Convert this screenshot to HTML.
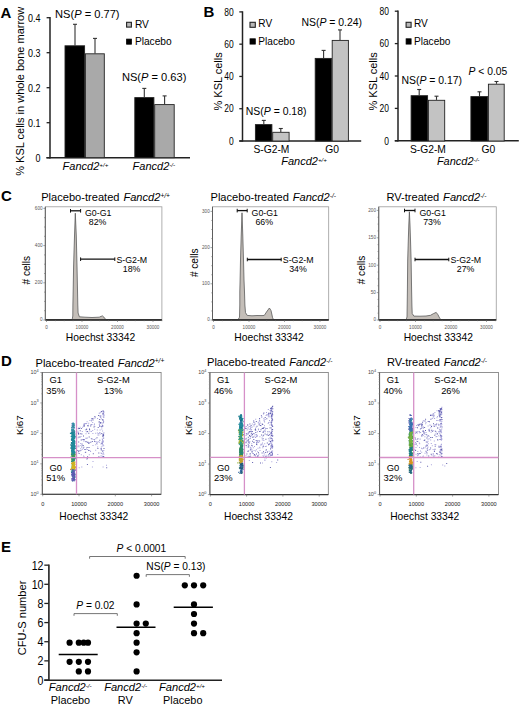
<!DOCTYPE html>
<html><head><meta charset="utf-8"><style>
html,body{margin:0;padding:0;background:#fff;}
svg{display:block;}
text{font-family:"Liberation Sans",sans-serif;}
</style></head><body>
<svg width="520" height="707" viewBox="0 0 520 707">
<rect width="520" height="707" fill="#fff"/>
<text x="0.4" y="17.9" font-size="15" text-anchor="start" font-weight="bold" fill="#000" >A</text>
<line x1="50" y1="17.0" x2="50" y2="158.4" stroke="#222" stroke-width="1.5"/>
<line x1="46.6" y1="157.7" x2="50" y2="157.7" stroke="#222" stroke-width="1.3"/>
<text transform="translate(40.5,162.1) scale(0.8,1)" font-size="11.2" text-anchor="end">0</text>
<line x1="46.6" y1="122.69999999999999" x2="50" y2="122.69999999999999" stroke="#222" stroke-width="1.3"/>
<text transform="translate(40.5,127.1) scale(0.8,1)" font-size="11.2" text-anchor="end">0.1</text>
<line x1="46.6" y1="87.69999999999999" x2="50" y2="87.69999999999999" stroke="#222" stroke-width="1.3"/>
<text transform="translate(40.5,92.1) scale(0.8,1)" font-size="11.2" text-anchor="end">0.2</text>
<line x1="46.6" y1="52.69999999999999" x2="50" y2="52.69999999999999" stroke="#222" stroke-width="1.3"/>
<text transform="translate(40.5,57.09999999999999) scale(0.8,1)" font-size="11.2" text-anchor="end">0.3</text>
<line x1="46.6" y1="17.69999999999999" x2="50" y2="17.69999999999999" stroke="#222" stroke-width="1.3"/>
<text transform="translate(40.5,22.099999999999987) scale(0.8,1)" font-size="11.2" text-anchor="end">0.4</text>
<line x1="46.4" y1="157.7" x2="190" y2="157.7" stroke="#222" stroke-width="1.5"/>
<text transform="translate(23.8,91.3) rotate(-90)" font-size="11" text-anchor="middle">% KSL cells in whole bone marrow</text>
<line x1="75" y1="24.3" x2="75" y2="45.4" stroke="#333" stroke-width="1.1"/>
<line x1="73" y1="24.3" x2="77" y2="24.3" stroke="#333" stroke-width="1.1"/>
<rect x="65.0" y="45.8" width="19.600000000000005" height="111.89999999999998" fill="#000" stroke="#222" stroke-width="0.9"/>
<line x1="95" y1="38.4" x2="95" y2="53.4" stroke="#333" stroke-width="1.1"/>
<line x1="93" y1="38.4" x2="97" y2="38.4" stroke="#333" stroke-width="1.1"/>
<rect x="85.4" y="53.8" width="18.900000000000002" height="103.89999999999998" fill="#a9a9a9" stroke="#222" stroke-width="0.9"/>
<line x1="144.3" y1="88.4" x2="144.3" y2="97.2" stroke="#333" stroke-width="1.1"/>
<line x1="142.3" y1="88.4" x2="146.3" y2="88.4" stroke="#333" stroke-width="1.1"/>
<rect x="134.8" y="97.60000000000001" width="19.100000000000005" height="60.09999999999999" fill="#000" stroke="#222" stroke-width="0.9"/>
<line x1="164.6" y1="95.9" x2="164.6" y2="104.2" stroke="#333" stroke-width="1.1"/>
<line x1="162.6" y1="95.9" x2="166.6" y2="95.9" stroke="#333" stroke-width="1.1"/>
<rect x="154.70000000000002" y="104.60000000000001" width="19.499999999999982" height="53.09999999999999" fill="#a9a9a9" stroke="#222" stroke-width="0.9"/>
<text x="55.1" y="18.2" font-size="11.1">NS(<tspan font-style="italic">P</tspan> = 0.77)</text>
<text x="121.9" y="80.8" font-size="11.1">NS(<tspan font-style="italic">P</tspan> = 0.63)</text>
<rect x="126.6" y="22.3" width="4.8" height="4.8" fill="#b8b8b8" stroke="#222" stroke-width="1.1"/>
<text x="134.9" y="27.5" font-size="10.2" text-anchor="start" fill="#000" >RV</text>
<rect x="126.6" y="39.1" width="4.8" height="5.1" fill="#000" stroke="#000" stroke-width="0.8"/>
<text x="134.9" y="44.6" font-size="10.2" text-anchor="start" fill="#000" >Placebo</text>
<text x="62.6" y="170" font-size="11" text-anchor="start" font-style="italic">Fancd2<tspan font-size="6.20" dy="-3.1">+/+</tspan></text>
<text x="132.6" y="170" font-size="11" text-anchor="start" font-style="italic">Fancd2<tspan font-size="6.20" dy="-3.1">-/-</tspan></text>
<text x="203.6" y="16.8" font-size="15" text-anchor="start" font-weight="bold" fill="#000" >B</text>
<line x1="242.5" y1="11.3" x2="242.5" y2="141.6" stroke="#222" stroke-width="1.5"/>
<line x1="239.3" y1="141.0" x2="242.5" y2="141.0" stroke="#222" stroke-width="1.3"/>
<text transform="translate(233.6,144.7) scale(0.83,1)" font-size="10.2" text-anchor="end">0</text>
<line x1="239.3" y1="108.725" x2="242.5" y2="108.725" stroke="#222" stroke-width="1.3"/>
<text transform="translate(233.6,112.425) scale(0.83,1)" font-size="10.2" text-anchor="end">20</text>
<line x1="239.3" y1="76.45" x2="242.5" y2="76.45" stroke="#222" stroke-width="1.3"/>
<text transform="translate(233.6,80.15) scale(0.83,1)" font-size="10.2" text-anchor="end">40</text>
<line x1="239.3" y1="44.17500000000001" x2="242.5" y2="44.17500000000001" stroke="#222" stroke-width="1.3"/>
<text transform="translate(233.6,47.875000000000014) scale(0.83,1)" font-size="10.2" text-anchor="end">60</text>
<line x1="239.3" y1="11.900000000000006" x2="242.5" y2="11.900000000000006" stroke="#222" stroke-width="1.3"/>
<text transform="translate(233.6,15.600000000000005) scale(0.83,1)" font-size="10.2" text-anchor="end">80</text>
<text transform="translate(221.79999999999998,81.4) rotate(-90)" font-size="11" text-anchor="middle">% KSL cells</text>
<line x1="239.3" y1="141.0" x2="361.2" y2="141.0" stroke="#222" stroke-width="1.5"/>
<line x1="263.8" y1="120.4" x2="263.8" y2="124.2" stroke="#333" stroke-width="1.1"/>
<line x1="261.8" y1="120.4" x2="265.8" y2="120.4" stroke="#333" stroke-width="1.1"/>
<rect x="255.4" y="124.60000000000001" width="16.50000000000001" height="16.4" fill="#000" stroke="#222" stroke-width="0.9"/>
<line x1="280.8" y1="128.5" x2="280.8" y2="131.9" stroke="#333" stroke-width="1.1"/>
<line x1="278.8" y1="128.5" x2="282.8" y2="128.5" stroke="#333" stroke-width="1.1"/>
<rect x="272.7" y="132.3" width="16.399999999999988" height="8.699999999999994" fill="#c3c3c3" stroke="#222" stroke-width="0.9"/>
<line x1="323.6" y1="50.4" x2="323.6" y2="58" stroke="#333" stroke-width="1.1"/>
<line x1="321.6" y1="50.4" x2="325.6" y2="50.4" stroke="#333" stroke-width="1.1"/>
<rect x="315.2" y="58.4" width="16.2" height="82.6" fill="#000" stroke="#222" stroke-width="0.9"/>
<line x1="340" y1="29.9" x2="340" y2="40" stroke="#333" stroke-width="1.1"/>
<line x1="338" y1="29.9" x2="342" y2="29.9" stroke="#333" stroke-width="1.1"/>
<rect x="332.2" y="40.4" width="16.2" height="100.6" fill="#c3c3c3" stroke="#222" stroke-width="0.9"/>
<text x="245.8" y="114.9" font-size="10.45">NS(<tspan font-style="italic">P</tspan> = 0.18)</text>
<text x="301.4" y="26.1" font-size="10.45">NS(<tspan font-style="italic">P</tspan> = 0.24)</text>
<rect x="250.0" y="22.3" width="5.3" height="5.0" fill="#b8b8b8" stroke="#222" stroke-width="1.1"/>
<text x="258.3" y="27.3" font-size="10.1" text-anchor="start" fill="#000" >RV</text>
<rect x="250.0" y="38.8" width="5.3" height="5.3" fill="#000" stroke="#000" stroke-width="0.8"/>
<text x="258.3" y="44.7" font-size="10.1" text-anchor="start" fill="#000" >Placebo</text>
<text x="271.4" y="152.7" font-size="10.3" text-anchor="middle" fill="#000" >S-G2-M</text>
<text x="332.1" y="152.7" font-size="10.3" text-anchor="middle" fill="#000" >G0</text>
<text x="281.2" y="165.2" font-size="11" text-anchor="start" font-style="italic">Fancd2<tspan font-size="6.20" dy="-3.1">+/+</tspan></text>
<line x1="398" y1="10.6" x2="398" y2="141.4" stroke="#222" stroke-width="1.5"/>
<line x1="394.8" y1="140.8" x2="398" y2="140.8" stroke="#222" stroke-width="1.3"/>
<text transform="translate(389,144.5) scale(0.83,1)" font-size="10.2" text-anchor="end">0</text>
<line x1="394.8" y1="108.4" x2="398" y2="108.4" stroke="#222" stroke-width="1.3"/>
<text transform="translate(389,112.10000000000001) scale(0.83,1)" font-size="10.2" text-anchor="end">20</text>
<line x1="394.8" y1="76.0" x2="398" y2="76.0" stroke="#222" stroke-width="1.3"/>
<text transform="translate(389,79.7) scale(0.83,1)" font-size="10.2" text-anchor="end">40</text>
<line x1="394.8" y1="43.599999999999994" x2="398" y2="43.599999999999994" stroke="#222" stroke-width="1.3"/>
<text transform="translate(389,47.3) scale(0.83,1)" font-size="10.2" text-anchor="end">60</text>
<line x1="394.8" y1="11.199999999999989" x2="398" y2="11.199999999999989" stroke="#222" stroke-width="1.3"/>
<text transform="translate(389,14.899999999999988) scale(0.83,1)" font-size="10.2" text-anchor="end">80</text>
<text transform="translate(377.2,81.4) rotate(-90)" font-size="11" text-anchor="middle">% KSL cells</text>
<line x1="394.8" y1="140.8" x2="518.8" y2="140.8" stroke="#222" stroke-width="1.5"/>
<line x1="419.2" y1="89.5" x2="419.2" y2="95.3" stroke="#333" stroke-width="1.1"/>
<line x1="417.2" y1="89.5" x2="421.2" y2="89.5" stroke="#333" stroke-width="1.1"/>
<rect x="411.09999999999997" y="95.7" width="16.50000000000001" height="45.300000000000004" fill="#000" stroke="#222" stroke-width="0.9"/>
<line x1="436.5" y1="96.2" x2="436.5" y2="99.9" stroke="#333" stroke-width="1.1"/>
<line x1="434.5" y1="96.2" x2="438.5" y2="96.2" stroke="#333" stroke-width="1.1"/>
<rect x="428.4" y="100.30000000000001" width="16.300000000000022" height="40.699999999999996" fill="#c3c3c3" stroke="#222" stroke-width="0.9"/>
<line x1="479.5" y1="91.8" x2="479.5" y2="96.2" stroke="#333" stroke-width="1.1"/>
<line x1="477.5" y1="91.8" x2="481.5" y2="91.8" stroke="#333" stroke-width="1.1"/>
<rect x="470.9" y="96.60000000000001" width="16.7" height="44.4" fill="#000" stroke="#222" stroke-width="0.9"/>
<line x1="496.5" y1="81.5" x2="496.5" y2="83.8" stroke="#333" stroke-width="1.1"/>
<line x1="494.5" y1="81.5" x2="498.5" y2="81.5" stroke="#333" stroke-width="1.1"/>
<rect x="488.4" y="84.2" width="15.800000000000022" height="56.800000000000004" fill="#c3c3c3" stroke="#222" stroke-width="0.9"/>
<text x="401.4" y="83.9" font-size="10.45">NS(<tspan font-style="italic">P</tspan> = 0.17)</text>
<text x="468.6" y="75.0" font-size="10.3"><tspan font-style="italic">P</tspan> &lt; 0.05</text>
<rect x="406.1" y="22.3" width="5.0" height="5.0" fill="#b8b8b8" stroke="#222" stroke-width="1.1"/>
<text x="414.0" y="27.3" font-size="10.1" text-anchor="start" fill="#000" >RV</text>
<rect x="406.1" y="38.8" width="5.0" height="5.3" fill="#000" stroke="#000" stroke-width="0.8"/>
<text x="414.0" y="44.7" font-size="10.1" text-anchor="start" fill="#000" >Placebo</text>
<text x="427.9" y="152.5" font-size="10.3" text-anchor="middle" fill="#000" >S-G2-M</text>
<text x="488.3" y="152.5" font-size="10.3" text-anchor="middle" fill="#000" >G0</text>
<text x="436.9" y="165.2" font-size="11" text-anchor="start" font-style="italic">Fancd2<tspan font-size="6.20" dy="-3.1">-/-</tspan></text>
<text x="1.0" y="201.1" font-size="15" text-anchor="start" font-weight="bold" fill="#000" >C</text>
<rect x="45.3" y="206.8" width="116.60000000000001" height="113.19999999999999" fill="none" stroke="#9a9a9a" stroke-width="0.8"/>
<polygon points="46.00,319.60 71.50,319.60 72.30,318.80 72.80,316.00 72.90,305.00 73.20,290.00 73.60,266.00 74.50,236.00 75.30,213.20 76.30,236.00 77.00,266.00 77.50,290.00 77.80,305.00 78.10,313.00 79.40,316.80 85.00,317.20 92.00,317.50 99.20,317.20 101.00,316.40 102.50,315.90 103.80,317.00 104.80,318.60 106.20,319.60 161.50,319.60" fill="#c4beb8" stroke="#5a5a5a" stroke-width="0.8" stroke-linejoin="round"/>
<line x1="45.3" y1="320" x2="161.9" y2="320" stroke="#222" stroke-width="1.3"/>
<line x1="45.3" y1="206.8" x2="45.3" y2="320" stroke="#555" stroke-width="0.9"/>
<line x1="43.3" y1="320" x2="45.3" y2="320" stroke="#666" stroke-width="0.6"/>
<text x="42.5" y="321.4" font-size="4.6" text-anchor="end" fill="#555">0</text>
<line x1="44.099999999999994" y1="310.7" x2="45.3" y2="310.7" stroke="#666" stroke-width="0.6"/>
<line x1="44.099999999999994" y1="301.4" x2="45.3" y2="301.4" stroke="#666" stroke-width="0.6"/>
<line x1="44.099999999999994" y1="292.09999999999997" x2="45.3" y2="292.09999999999997" stroke="#666" stroke-width="0.6"/>
<line x1="43.3" y1="282.79999999999995" x2="45.3" y2="282.79999999999995" stroke="#666" stroke-width="0.6"/>
<text x="42.5" y="284.19999999999993" font-size="4.6" text-anchor="end" fill="#555">200</text>
<line x1="44.099999999999994" y1="273.49999999999994" x2="45.3" y2="273.49999999999994" stroke="#666" stroke-width="0.6"/>
<line x1="44.099999999999994" y1="264.19999999999993" x2="45.3" y2="264.19999999999993" stroke="#666" stroke-width="0.6"/>
<line x1="44.099999999999994" y1="254.89999999999992" x2="45.3" y2="254.89999999999992" stroke="#666" stroke-width="0.6"/>
<line x1="43.3" y1="245.5999999999999" x2="45.3" y2="245.5999999999999" stroke="#666" stroke-width="0.6"/>
<text x="42.5" y="246.99999999999991" font-size="4.6" text-anchor="end" fill="#555">400</text>
<line x1="44.099999999999994" y1="236.2999999999999" x2="45.3" y2="236.2999999999999" stroke="#666" stroke-width="0.6"/>
<line x1="44.099999999999994" y1="226.9999999999999" x2="45.3" y2="226.9999999999999" stroke="#666" stroke-width="0.6"/>
<line x1="44.099999999999994" y1="217.69999999999987" x2="45.3" y2="217.69999999999987" stroke="#666" stroke-width="0.6"/>
<line x1="43.3" y1="208.39999999999986" x2="45.3" y2="208.39999999999986" stroke="#666" stroke-width="0.6"/>
<text x="42.5" y="209.79999999999987" font-size="4.6" text-anchor="end" fill="#555">600</text>
<line x1="46.5" y1="320" x2="46.5" y2="322" stroke="#666" stroke-width="0.6"/>
<text x="46.5" y="328.9" font-size="4.6" text-anchor="middle" fill="#555">0</text>
<line x1="55.375" y1="320" x2="55.375" y2="321.2" stroke="#666" stroke-width="0.6"/>
<line x1="64.25" y1="320" x2="64.25" y2="321.2" stroke="#666" stroke-width="0.6"/>
<line x1="73.125" y1="320" x2="73.125" y2="321.2" stroke="#666" stroke-width="0.6"/>
<line x1="82.0" y1="320" x2="82.0" y2="322" stroke="#666" stroke-width="0.6"/>
<text x="82.0" y="328.9" font-size="4.6" text-anchor="middle" fill="#555">10000</text>
<line x1="90.875" y1="320" x2="90.875" y2="321.2" stroke="#666" stroke-width="0.6"/>
<line x1="99.75" y1="320" x2="99.75" y2="321.2" stroke="#666" stroke-width="0.6"/>
<line x1="108.625" y1="320" x2="108.625" y2="321.2" stroke="#666" stroke-width="0.6"/>
<line x1="117.5" y1="320" x2="117.5" y2="322" stroke="#666" stroke-width="0.6"/>
<text x="117.5" y="328.9" font-size="4.6" text-anchor="middle" fill="#555">20000</text>
<line x1="126.375" y1="320" x2="126.375" y2="321.2" stroke="#666" stroke-width="0.6"/>
<line x1="135.25" y1="320" x2="135.25" y2="321.2" stroke="#666" stroke-width="0.6"/>
<line x1="144.125" y1="320" x2="144.125" y2="321.2" stroke="#666" stroke-width="0.6"/>
<line x1="153.0" y1="320" x2="153.0" y2="322" stroke="#666" stroke-width="0.6"/>
<text x="153.0" y="328.9" font-size="4.6" text-anchor="middle" fill="#555">30000</text>
<line x1="161.875" y1="320" x2="161.875" y2="321.2" stroke="#666" stroke-width="0.6"/>
<line x1="70.5" y1="210.8" x2="80.6" y2="210.8" stroke="#111" stroke-width="1.3"/>
<line x1="70.5" y1="209.0" x2="70.5" y2="212.60000000000002" stroke="#111" stroke-width="1"/>
<line x1="80.6" y1="209.0" x2="80.6" y2="212.60000000000002" stroke="#111" stroke-width="1"/>
<line x1="80.6" y1="259.2" x2="114.8" y2="259.2" stroke="#111" stroke-width="1.3"/>
<line x1="80.6" y1="257.4" x2="80.6" y2="261.0" stroke="#111" stroke-width="1"/>
<line x1="114.8" y1="257.4" x2="114.8" y2="261.0" stroke="#111" stroke-width="1"/>
<text x="85.0" y="216.10000000000002" font-size="8.8" text-anchor="start" fill="#000" >G0-G1</text>
<text x="97.6" y="224.9" font-size="8.8" text-anchor="middle" fill="#000" >82%</text>
<text x="116.39999999999999" y="262.5" font-size="8.8" text-anchor="start" fill="#000" >S-G2-M</text>
<text x="131.6" y="271.59999999999997" font-size="8.8" text-anchor="middle" fill="#000" >18%</text>
<text x="100.5" y="341.2" font-size="10.3" text-anchor="middle" fill="#000" >Hoechst 33342</text>
<text transform="translate(30.4,270.2) rotate(-90)" font-size="10.1" text-anchor="middle"># cells</text>
<rect x="212.5" y="206.8" width="116.19999999999999" height="113.19999999999999" fill="none" stroke="#9a9a9a" stroke-width="0.8"/>
<polygon points="213.00,319.60 237.50,319.60 238.50,319.00 239.50,317.20 239.80,305.00 239.80,292.00 240.10,280.00 240.50,260.00 241.20,236.00 242.00,212.80 242.80,236.00 243.50,260.00 244.00,280.00 244.50,292.00 244.90,305.00 245.50,312.60 247.20,315.40 252.00,315.80 257.00,315.50 262.00,315.60 264.30,315.40 266.50,312.00 269.40,308.00 271.00,310.50 272.60,317.70 273.50,319.60 328.50,319.60" fill="#c4beb8" stroke="#5a5a5a" stroke-width="0.8" stroke-linejoin="round"/>
<line x1="212.5" y1="320" x2="328.7" y2="320" stroke="#222" stroke-width="1.3"/>
<line x1="212.5" y1="206.8" x2="212.5" y2="320" stroke="#555" stroke-width="0.9"/>
<line x1="210.5" y1="320" x2="212.5" y2="320" stroke="#666" stroke-width="0.6"/>
<text x="209.7" y="321.4" font-size="4.6" text-anchor="end" fill="#555">0</text>
<line x1="211.3" y1="310.95" x2="212.5" y2="310.95" stroke="#666" stroke-width="0.6"/>
<line x1="211.3" y1="301.9" x2="212.5" y2="301.9" stroke="#666" stroke-width="0.6"/>
<line x1="211.3" y1="292.84999999999997" x2="212.5" y2="292.84999999999997" stroke="#666" stroke-width="0.6"/>
<line x1="210.5" y1="283.79999999999995" x2="212.5" y2="283.79999999999995" stroke="#666" stroke-width="0.6"/>
<text x="209.7" y="285.19999999999993" font-size="4.6" text-anchor="end" fill="#555">100</text>
<line x1="211.3" y1="274.74999999999994" x2="212.5" y2="274.74999999999994" stroke="#666" stroke-width="0.6"/>
<line x1="211.3" y1="265.69999999999993" x2="212.5" y2="265.69999999999993" stroke="#666" stroke-width="0.6"/>
<line x1="211.3" y1="256.6499999999999" x2="212.5" y2="256.6499999999999" stroke="#666" stroke-width="0.6"/>
<line x1="210.5" y1="247.5999999999999" x2="212.5" y2="247.5999999999999" stroke="#666" stroke-width="0.6"/>
<text x="209.7" y="248.99999999999991" font-size="4.6" text-anchor="end" fill="#555">200</text>
<line x1="211.3" y1="238.5499999999999" x2="212.5" y2="238.5499999999999" stroke="#666" stroke-width="0.6"/>
<line x1="211.3" y1="229.4999999999999" x2="212.5" y2="229.4999999999999" stroke="#666" stroke-width="0.6"/>
<line x1="211.3" y1="220.44999999999987" x2="212.5" y2="220.44999999999987" stroke="#666" stroke-width="0.6"/>
<line x1="210.5" y1="211.39999999999986" x2="212.5" y2="211.39999999999986" stroke="#666" stroke-width="0.6"/>
<text x="209.7" y="212.79999999999987" font-size="4.6" text-anchor="end" fill="#555">300</text>
<line x1="213.5" y1="320" x2="213.5" y2="322" stroke="#666" stroke-width="0.6"/>
<text x="213.5" y="328.9" font-size="4.6" text-anchor="middle" fill="#555">0</text>
<line x1="222.375" y1="320" x2="222.375" y2="321.2" stroke="#666" stroke-width="0.6"/>
<line x1="231.25" y1="320" x2="231.25" y2="321.2" stroke="#666" stroke-width="0.6"/>
<line x1="240.125" y1="320" x2="240.125" y2="321.2" stroke="#666" stroke-width="0.6"/>
<line x1="249.0" y1="320" x2="249.0" y2="322" stroke="#666" stroke-width="0.6"/>
<text x="249.0" y="328.9" font-size="4.6" text-anchor="middle" fill="#555">10000</text>
<line x1="257.875" y1="320" x2="257.875" y2="321.2" stroke="#666" stroke-width="0.6"/>
<line x1="266.75" y1="320" x2="266.75" y2="321.2" stroke="#666" stroke-width="0.6"/>
<line x1="275.625" y1="320" x2="275.625" y2="321.2" stroke="#666" stroke-width="0.6"/>
<line x1="284.5" y1="320" x2="284.5" y2="322" stroke="#666" stroke-width="0.6"/>
<text x="284.5" y="328.9" font-size="4.6" text-anchor="middle" fill="#555">20000</text>
<line x1="293.375" y1="320" x2="293.375" y2="321.2" stroke="#666" stroke-width="0.6"/>
<line x1="302.25" y1="320" x2="302.25" y2="321.2" stroke="#666" stroke-width="0.6"/>
<line x1="311.125" y1="320" x2="311.125" y2="321.2" stroke="#666" stroke-width="0.6"/>
<line x1="320.0" y1="320" x2="320.0" y2="322" stroke="#666" stroke-width="0.6"/>
<text x="320.0" y="328.9" font-size="4.6" text-anchor="middle" fill="#555">30000</text>
<line x1="237.2" y1="210.6" x2="247.2" y2="210.6" stroke="#111" stroke-width="1.3"/>
<line x1="237.2" y1="208.79999999999998" x2="237.2" y2="212.4" stroke="#111" stroke-width="1"/>
<line x1="247.2" y1="208.79999999999998" x2="247.2" y2="212.4" stroke="#111" stroke-width="1"/>
<line x1="247.3" y1="259.5" x2="281.2" y2="259.5" stroke="#111" stroke-width="1.3"/>
<line x1="247.3" y1="257.7" x2="247.3" y2="261.3" stroke="#111" stroke-width="1"/>
<line x1="281.2" y1="257.7" x2="281.2" y2="261.3" stroke="#111" stroke-width="1"/>
<text x="251.6" y="215.9" font-size="8.8" text-anchor="start" fill="#000" >G0-G1</text>
<text x="264.2" y="224.7" font-size="8.8" text-anchor="middle" fill="#000" >66%</text>
<text x="282.8" y="262.8" font-size="8.8" text-anchor="start" fill="#000" >S-G2-M</text>
<text x="298.0" y="271.9" font-size="8.8" text-anchor="middle" fill="#000" >34%</text>
<text x="269" y="341.2" font-size="10.3" text-anchor="middle" fill="#000" >Hoechst 33342</text>
<text transform="translate(198.4,262.8) rotate(-90)" font-size="10.1" text-anchor="middle"># cells</text>
<rect x="378.75" y="206.8" width="117.5" height="113.19999999999999" fill="none" stroke="#9a9a9a" stroke-width="0.8"/>
<polygon points="379.50,319.60 405.50,319.60 406.40,318.80 407.00,317.00 407.20,305.00 407.40,290.00 407.70,260.00 408.30,240.00 408.80,225.00 409.40,211.80 410.00,225.00 410.50,240.00 411.10,260.00 411.60,290.00 411.90,305.00 412.20,313.50 413.90,316.10 420.00,316.20 426.00,316.00 430.50,315.30 433.50,313.60 436.20,312.40 438.00,314.80 439.70,318.20 441.10,319.60 496.00,319.60" fill="#c4beb8" stroke="#5a5a5a" stroke-width="0.8" stroke-linejoin="round"/>
<line x1="378.75" y1="320" x2="496.25" y2="320" stroke="#222" stroke-width="1.3"/>
<line x1="378.75" y1="206.8" x2="378.75" y2="320" stroke="#555" stroke-width="0.9"/>
<line x1="376.75" y1="320" x2="378.75" y2="320" stroke="#666" stroke-width="0.6"/>
<text x="375.95" y="321.4" font-size="4.6" text-anchor="end" fill="#555">0</text>
<line x1="377.55" y1="313.15" x2="378.75" y2="313.15" stroke="#666" stroke-width="0.6"/>
<line x1="377.55" y1="306.29999999999995" x2="378.75" y2="306.29999999999995" stroke="#666" stroke-width="0.6"/>
<line x1="377.55" y1="299.44999999999993" x2="378.75" y2="299.44999999999993" stroke="#666" stroke-width="0.6"/>
<line x1="376.75" y1="292.5999999999999" x2="378.75" y2="292.5999999999999" stroke="#666" stroke-width="0.6"/>
<text x="375.95" y="293.9999999999999" font-size="4.6" text-anchor="end" fill="#555">50</text>
<line x1="377.55" y1="285.7499999999999" x2="378.75" y2="285.7499999999999" stroke="#666" stroke-width="0.6"/>
<line x1="377.55" y1="278.89999999999986" x2="378.75" y2="278.89999999999986" stroke="#666" stroke-width="0.6"/>
<line x1="377.55" y1="272.04999999999984" x2="378.75" y2="272.04999999999984" stroke="#666" stroke-width="0.6"/>
<line x1="376.75" y1="265.1999999999998" x2="378.75" y2="265.1999999999998" stroke="#666" stroke-width="0.6"/>
<text x="375.95" y="266.5999999999998" font-size="4.6" text-anchor="end" fill="#555">100</text>
<line x1="377.55" y1="258.3499999999998" x2="378.75" y2="258.3499999999998" stroke="#666" stroke-width="0.6"/>
<line x1="377.55" y1="251.4999999999998" x2="378.75" y2="251.4999999999998" stroke="#666" stroke-width="0.6"/>
<line x1="377.55" y1="244.6499999999998" x2="378.75" y2="244.6499999999998" stroke="#666" stroke-width="0.6"/>
<line x1="376.75" y1="237.7999999999998" x2="378.75" y2="237.7999999999998" stroke="#666" stroke-width="0.6"/>
<text x="375.95" y="239.19999999999982" font-size="4.6" text-anchor="end" fill="#555">150</text>
<line x1="377.55" y1="230.94999999999982" x2="378.75" y2="230.94999999999982" stroke="#666" stroke-width="0.6"/>
<line x1="377.55" y1="224.09999999999982" x2="378.75" y2="224.09999999999982" stroke="#666" stroke-width="0.6"/>
<line x1="377.55" y1="217.24999999999983" x2="378.75" y2="217.24999999999983" stroke="#666" stroke-width="0.6"/>
<line x1="376.75" y1="210.39999999999984" x2="378.75" y2="210.39999999999984" stroke="#666" stroke-width="0.6"/>
<text x="375.95" y="211.79999999999984" font-size="4.6" text-anchor="end" fill="#555">200</text>
<line x1="380.0" y1="320" x2="380.0" y2="322" stroke="#666" stroke-width="0.6"/>
<text x="380.0" y="328.9" font-size="4.6" text-anchor="middle" fill="#555">0</text>
<line x1="388.875" y1="320" x2="388.875" y2="321.2" stroke="#666" stroke-width="0.6"/>
<line x1="397.75" y1="320" x2="397.75" y2="321.2" stroke="#666" stroke-width="0.6"/>
<line x1="406.625" y1="320" x2="406.625" y2="321.2" stroke="#666" stroke-width="0.6"/>
<line x1="415.5" y1="320" x2="415.5" y2="322" stroke="#666" stroke-width="0.6"/>
<text x="415.5" y="328.9" font-size="4.6" text-anchor="middle" fill="#555">10000</text>
<line x1="424.375" y1="320" x2="424.375" y2="321.2" stroke="#666" stroke-width="0.6"/>
<line x1="433.25" y1="320" x2="433.25" y2="321.2" stroke="#666" stroke-width="0.6"/>
<line x1="442.125" y1="320" x2="442.125" y2="321.2" stroke="#666" stroke-width="0.6"/>
<line x1="451.0" y1="320" x2="451.0" y2="322" stroke="#666" stroke-width="0.6"/>
<text x="451.0" y="328.9" font-size="4.6" text-anchor="middle" fill="#555">20000</text>
<line x1="459.875" y1="320" x2="459.875" y2="321.2" stroke="#666" stroke-width="0.6"/>
<line x1="468.75" y1="320" x2="468.75" y2="321.2" stroke="#666" stroke-width="0.6"/>
<line x1="477.625" y1="320" x2="477.625" y2="321.2" stroke="#666" stroke-width="0.6"/>
<line x1="486.5" y1="320" x2="486.5" y2="322" stroke="#666" stroke-width="0.6"/>
<text x="486.5" y="328.9" font-size="4.6" text-anchor="middle" fill="#555">30000</text>
<line x1="495.375" y1="320" x2="495.375" y2="321.2" stroke="#666" stroke-width="0.6"/>
<line x1="404.5" y1="210.5" x2="415" y2="210.5" stroke="#111" stroke-width="1.3"/>
<line x1="404.5" y1="208.7" x2="404.5" y2="212.3" stroke="#111" stroke-width="1"/>
<line x1="415" y1="208.7" x2="415" y2="212.3" stroke="#111" stroke-width="1"/>
<line x1="415" y1="259.5" x2="448.8" y2="259.5" stroke="#111" stroke-width="1.3"/>
<line x1="415" y1="257.7" x2="415" y2="261.3" stroke="#111" stroke-width="1"/>
<line x1="448.8" y1="257.7" x2="448.8" y2="261.3" stroke="#111" stroke-width="1"/>
<text x="419.4" y="215.8" font-size="8.8" text-anchor="start" fill="#000" >G0-G1</text>
<text x="432.0" y="224.6" font-size="8.8" text-anchor="middle" fill="#000" >73%</text>
<text x="450.40000000000003" y="262.8" font-size="8.8" text-anchor="start" fill="#000" >S-G2-M</text>
<text x="465.6" y="271.9" font-size="8.8" text-anchor="middle" fill="#000" >27%</text>
<text x="438.3" y="341.2" font-size="10.3" text-anchor="middle" fill="#000" >Hoechst 33342</text>
<text transform="translate(365.4,270.0) rotate(-90)" font-size="10.1" text-anchor="middle"># cells</text>
<text x="41.2" y="201.4" font-size="11.1">Placebo-treated <tspan font-style="italic" dx="0.8">Fancd2</tspan><tspan font-style="italic" font-size="6.6" dy="-3.3">+/+</tspan></text>
<text x="210.5" y="201.4" font-size="11.1">Placebo-treated <tspan font-style="italic" dx="0.8">Fancd2</tspan><tspan font-style="italic" font-size="6.6" dy="-3.3">-/-</tspan></text>
<text x="386.4" y="201.4" font-size="11.1">RV-treated <tspan font-style="italic" dx="0.8">Fancd2</tspan><tspan font-style="italic" font-size="6.6" dy="-3.3">-/-</tspan></text>
<text x="0.9" y="365.6" font-size="15" text-anchor="start" font-weight="bold" fill="#000" >D</text>
<rect x="42.3" y="372.5" width="118.8" height="121.80000000000001" fill="none" stroke="#777" stroke-width="0.8"/>
<line x1="42.3" y1="372.5" x2="42.3" y2="494.3" stroke="#555" stroke-width="0.9"/>
<line x1="42.3" y1="494.3" x2="161.1" y2="494.3" stroke="#333" stroke-width="1.1"/>
<line x1="40.3" y1="494.3" x2="42.3" y2="494.3" stroke="#666" stroke-width="0.6"/>
<text x="38.699999999999996" y="495.90000000000003" font-size="5.4" text-anchor="end" fill="#444">10<tspan font-size="3.8" dy="-2.4">0</tspan></text>
<line x1="41.199999999999996" y1="485.13363663203177" x2="42.3" y2="485.13363663203177" stroke="#888" stroke-width="0.5"/>
<line x1="41.199999999999996" y1="479.7716577937863" x2="42.3" y2="479.7716577937863" stroke="#888" stroke-width="0.5"/>
<line x1="41.199999999999996" y1="475.9672732640636" x2="42.3" y2="475.9672732640636" stroke="#888" stroke-width="0.5"/>
<line x1="41.199999999999996" y1="473.0163633679682" x2="42.3" y2="473.0163633679682" stroke="#888" stroke-width="0.5"/>
<line x1="41.199999999999996" y1="470.60529442581804" x2="42.3" y2="470.60529442581804" stroke="#888" stroke-width="0.5"/>
<line x1="41.199999999999996" y1="468.56676468156587" x2="42.3" y2="468.56676468156587" stroke="#888" stroke-width="0.5"/>
<line x1="41.199999999999996" y1="466.80090989609533" x2="42.3" y2="466.80090989609533" stroke="#888" stroke-width="0.5"/>
<line x1="41.199999999999996" y1="465.24331558757257" x2="42.3" y2="465.24331558757257" stroke="#888" stroke-width="0.5"/>
<line x1="40.3" y1="463.85" x2="42.3" y2="463.85" stroke="#666" stroke-width="0.6"/>
<text x="38.699999999999996" y="465.45000000000005" font-size="5.4" text-anchor="end" fill="#444">10<tspan font-size="3.8" dy="-2.4">1</tspan></text>
<line x1="41.199999999999996" y1="454.6836366320318" x2="42.3" y2="454.6836366320318" stroke="#888" stroke-width="0.5"/>
<line x1="41.199999999999996" y1="449.3216577937863" x2="42.3" y2="449.3216577937863" stroke="#888" stroke-width="0.5"/>
<line x1="41.199999999999996" y1="445.5172732640636" x2="42.3" y2="445.5172732640636" stroke="#888" stroke-width="0.5"/>
<line x1="41.199999999999996" y1="442.5663633679682" x2="42.3" y2="442.5663633679682" stroke="#888" stroke-width="0.5"/>
<line x1="41.199999999999996" y1="440.15529442581806" x2="42.3" y2="440.15529442581806" stroke="#888" stroke-width="0.5"/>
<line x1="41.199999999999996" y1="438.1167646815659" x2="42.3" y2="438.1167646815659" stroke="#888" stroke-width="0.5"/>
<line x1="41.199999999999996" y1="436.35090989609535" x2="42.3" y2="436.35090989609535" stroke="#888" stroke-width="0.5"/>
<line x1="41.199999999999996" y1="434.7933155875726" x2="42.3" y2="434.7933155875726" stroke="#888" stroke-width="0.5"/>
<line x1="40.3" y1="433.4" x2="42.3" y2="433.4" stroke="#666" stroke-width="0.6"/>
<text x="38.699999999999996" y="435.0" font-size="5.4" text-anchor="end" fill="#444">10<tspan font-size="3.8" dy="-2.4">2</tspan></text>
<line x1="41.199999999999996" y1="424.23363663203173" x2="42.3" y2="424.23363663203173" stroke="#888" stroke-width="0.5"/>
<line x1="41.199999999999996" y1="418.87165779378626" x2="42.3" y2="418.87165779378626" stroke="#888" stroke-width="0.5"/>
<line x1="41.199999999999996" y1="415.06727326406354" x2="42.3" y2="415.06727326406354" stroke="#888" stroke-width="0.5"/>
<line x1="41.199999999999996" y1="412.1163633679682" x2="42.3" y2="412.1163633679682" stroke="#888" stroke-width="0.5"/>
<line x1="41.199999999999996" y1="409.705294425818" x2="42.3" y2="409.705294425818" stroke="#888" stroke-width="0.5"/>
<line x1="41.199999999999996" y1="407.66676468156584" x2="42.3" y2="407.66676468156584" stroke="#888" stroke-width="0.5"/>
<line x1="41.199999999999996" y1="405.9009098960953" x2="42.3" y2="405.9009098960953" stroke="#888" stroke-width="0.5"/>
<line x1="41.199999999999996" y1="404.34331558757253" x2="42.3" y2="404.34331558757253" stroke="#888" stroke-width="0.5"/>
<line x1="40.3" y1="402.95" x2="42.3" y2="402.95" stroke="#666" stroke-width="0.6"/>
<text x="38.699999999999996" y="404.55" font-size="5.4" text-anchor="end" fill="#444">10<tspan font-size="3.8" dy="-2.4">3</tspan></text>
<line x1="41.199999999999996" y1="393.78363663203174" x2="42.3" y2="393.78363663203174" stroke="#888" stroke-width="0.5"/>
<line x1="41.199999999999996" y1="388.42165779378627" x2="42.3" y2="388.42165779378627" stroke="#888" stroke-width="0.5"/>
<line x1="41.199999999999996" y1="384.61727326406356" x2="42.3" y2="384.61727326406356" stroke="#888" stroke-width="0.5"/>
<line x1="41.199999999999996" y1="381.6663633679682" x2="42.3" y2="381.6663633679682" stroke="#888" stroke-width="0.5"/>
<line x1="41.199999999999996" y1="379.255294425818" x2="42.3" y2="379.255294425818" stroke="#888" stroke-width="0.5"/>
<line x1="41.199999999999996" y1="377.21676468156585" x2="42.3" y2="377.21676468156585" stroke="#888" stroke-width="0.5"/>
<line x1="41.199999999999996" y1="375.4509098960953" x2="42.3" y2="375.4509098960953" stroke="#888" stroke-width="0.5"/>
<line x1="41.199999999999996" y1="373.89331558757254" x2="42.3" y2="373.89331558757254" stroke="#888" stroke-width="0.5"/>
<line x1="40.3" y1="372.5" x2="42.3" y2="372.5" stroke="#666" stroke-width="0.6"/>
<text x="38.699999999999996" y="374.1" font-size="5.4" text-anchor="end" fill="#444">10<tspan font-size="3.8" dy="-2.4">4</tspan></text>
<line x1="42.699999999999996" y1="494.3" x2="42.699999999999996" y2="496.3" stroke="#666" stroke-width="0.6"/>
<text x="42.699999999999996" y="505.90000000000003" font-size="5.6" text-anchor="middle" fill="#222">0</text>
<line x1="79.0" y1="494.3" x2="79.0" y2="496.3" stroke="#666" stroke-width="0.6"/>
<text x="79.0" y="505.90000000000003" font-size="5.6" text-anchor="middle" fill="#222">10000</text>
<line x1="115.29999999999998" y1="494.3" x2="115.29999999999998" y2="496.3" stroke="#666" stroke-width="0.6"/>
<text x="115.29999999999998" y="505.90000000000003" font-size="5.6" text-anchor="middle" fill="#222">20000</text>
<line x1="151.6" y1="494.3" x2="151.6" y2="496.3" stroke="#666" stroke-width="0.6"/>
<text x="151.6" y="505.90000000000003" font-size="5.6" text-anchor="middle" fill="#222">30000</text>
<path d="M89.0 442.3h1v1h-1zM79.6 426.7h1v1h-1zM101.3 428.4h1v1h-1zM83.1 455.4h1v1h-1zM101.9 425.0h1v1h-1zM103.2 417.1h1v1h-1zM103.3 416.9h1v1h-1zM84.8 422.9h1v1h-1zM100.3 414.9h1v1h-1zM96.1 443.0h1v1h-1zM85.1 440.9h1v1h-1zM99.4 432.0h1v1h-1zM88.0 424.7h1v1h-1zM95.7 441.4h1v1h-1zM90.9 431.0h1v1h-1zM77.9 428.2h1v1h-1zM81.6 439.2h1v1h-1zM97.4 434.4h1v1h-1zM92.4 432.9h1v1h-1zM103.4 432.6h1v1h-1zM100.5 443.5h1v1h-1zM90.8 437.9h1v1h-1zM82.4 438.9h1v1h-1zM86.5 431.4h1v1h-1zM77.8 432.7h1v1h-1zM100.8 446.5h1v1h-1zM94.9 417.3h1v1h-1zM101.9 410.4h1v1h-1zM86.2 422.9h1v1h-1zM102.5 419.7h1v1h-1zM77.7 437.2h1v1h-1zM82.1 426.8h1v1h-1zM98.7 412.8h1v1h-1zM103.3 413.9h1v1h-1zM91.5 424.1h1v1h-1zM98.2 433.1h1v1h-1zM93.8 417.4h1v1h-1zM102.2 455.8h1v1h-1zM101.9 443.4h1v1h-1zM83.8 423.3h1v1h-1zM92.2 422.0h1v1h-1zM102.8 441.0h1v1h-1zM102.7 416.2h1v1h-1zM102.0 439.2h1v1h-1zM77.6 432.1h1v1h-1zM103.2 445.3h1v1h-1zM101.7 423.4h1v1h-1zM95.2 432.8h1v1h-1zM103.5 414.7h1v1h-1zM82.7 448.1h1v1h-1zM84.8 452.1h1v1h-1zM102.3 451.2h1v1h-1zM103.3 449.9h1v1h-1zM99.0 424.7h1v1h-1zM83.0 425.5h1v1h-1zM101.9 453.4h1v1h-1zM77.4 446.3h1v1h-1zM102.2 413.4h1v1h-1zM88.2 422.8h1v1h-1zM103.4 412.2h1v1h-1zM84.9 429.2h1v1h-1zM79.7 445.0h1v1h-1zM84.9 441.3h1v1h-1zM85.4 423.3h1v1h-1zM103.0 456.4h1v1h-1zM95.3 440.9h1v1h-1zM83.6 425.0h1v1h-1zM101.8 438.6h1v1h-1zM85.7 430.8h1v1h-1zM100.7 422.1h1v1h-1zM83.6 423.7h1v1h-1zM103.3 411.1h1v1h-1zM84.8 449.0h1v1h-1zM99.9 416.4h1v1h-1zM81.7 449.0h1v1h-1zM98.8 423.8h1v1h-1zM80.8 454.2h1v1h-1zM103.2 421.3h1v1h-1zM96.8 441.8h1v1h-1zM102.6 441.7h1v1h-1zM98.4 434.5h1v1h-1zM99.6 429.5h1v1h-1zM103.1 437.9h1v1h-1zM92.2 418.6h1v1h-1zM102.7 425.5h1v1h-1zM83.3 423.7h1v1h-1zM95.2 444.2h1v1h-1zM102.1 430.4h1v1h-1zM101.0 453.0h1v1h-1zM103.2 411.2h1v1h-1zM100.4 422.6h1v1h-1zM99.5 425.8h1v1h-1zM100.8 455.4h1v1h-1zM81.8 430.9h1v1h-1zM78.5 446.3h1v1h-1zM86.3 437.7h1v1h-1zM93.7 424.6h1v1h-1zM102.4 414.2h1v1h-1zM88.8 454.2h1v1h-1zM87.2 449.1h1v1h-1zM103.0 452.4h1v1h-1zM80.2 443.0h1v1h-1zM103.5 415.5h1v1h-1zM77.7 444.8h1v1h-1zM103.4 432.3h1v1h-1zM102.5 440.0h1v1h-1zM90.1 451.0h1v1h-1zM92.2 429.9h1v1h-1zM80.2 448.2h1v1h-1zM102.6 444.2h1v1h-1zM85.3 437.7h1v1h-1zM91.0 417.9h1v1h-1zM97.8 441.3h1v1h-1zM94.2 428.7h1v1h-1zM99.0 432.5h1v1h-1zM89.3 450.1h1v1h-1zM81.6 443.3h1v1h-1zM86.6 421.2h1v1h-1zM92.5 445.0h1v1h-1zM96.9 432.5h1v1h-1zM87.8 441.7h1v1h-1zM101.8 445.5h1v1h-1zM86.3 428.7h1v1h-1zM100.2 433.6h1v1h-1zM89.4 420.1h1v1h-1zM96.8 429.4h1v1h-1zM102.1 440.5h1v1h-1zM95.3 438.2h1v1h-1zM100.3 448.3h1v1h-1zM86.8 437.4h1v1h-1zM98.6 421.8h1v1h-1zM83.2 440.6h1v1h-1zM100.4 455.6h1v1h-1zM99.4 412.6h1v1h-1zM97.2 446.5h1v1h-1zM102.8 456.0h1v1h-1zM84.0 439.1h1v1h-1zM102.8 413.9h1v1h-1zM103.0 420.9h1v1h-1zM101.0 426.2h1v1h-1zM100.8 418.3h1v1h-1zM101.6 441.3h1v1h-1zM99.2 415.5h1v1h-1zM79.6 436.7h1v1h-1zM102.7 434.5h1v1h-1zM101.9 441.8h1v1h-1zM78.3 450.4h1v1h-1zM85.5 433.2h1v1h-1zM97.1 418.1h1v1h-1zM77.5 430.7h1v1h-1zM100.5 452.4h1v1h-1zM102.8 411.1h1v1h-1zM103.2 437.4h1v1h-1zM95.2 449.8h1v1h-1zM94.0 423.4h1v1h-1zM103.3 453.8h1v1h-1zM90.9 419.4h1v1h-1zM88.0 425.6h1v1h-1zM96.7 443.4h1v1h-1zM83.7 456.6h1v1h-1zM102.0 412.7h1v1h-1zM89.5 430.8h1v1h-1zM80.5 436.1h1v1h-1zM100.4 411.7h1v1h-1zM102.0 442.8h1v1h-1zM80.5 449.9h1v1h-1zM83.6 440.3h1v1h-1zM86.0 448.5h1v1h-1zM88.9 457.1h1v1h-1zM99.1 441.8h1v1h-1zM103.2 414.4h1v1h-1zM90.9 420.5h1v1h-1zM94.3 426.0h1v1h-1zM86.0 458.5h1v1h-1zM92.5 461.0h1v1h-1zM81.3 466.4h1v1h-1zM78.7 467.3h1v1h-1zM91.9 466.4h1v1h-1zM102.6 466.6h1v1h-1zM106.0 464.8h1v1h-1z" fill="#a8a4dc"/>
<path d="M101.9 419.3h1v1h-1zM88.5 447.1h1v1h-1zM77.9 427.8h1v1h-1zM90.2 425.4h1v1h-1zM91.8 441.0h1v1h-1zM88.2 450.1h1v1h-1zM78.0 432.9h1v1h-1zM88.7 436.5h1v1h-1zM103.1 435.1h1v1h-1zM83.2 438.9h1v1h-1zM77.3 450.1h1v1h-1zM78.6 452.9h1v1h-1zM93.6 439.1h1v1h-1zM98.7 421.2h1v1h-1zM83.7 425.7h1v1h-1zM89.1 429.2h1v1h-1zM90.6 424.3h1v1h-1zM81.3 446.4h1v1h-1zM102.5 434.3h1v1h-1zM85.2 451.7h1v1h-1zM78.1 451.2h1v1h-1zM87.1 431.1h1v1h-1zM102.1 450.4h1v1h-1zM82.7 444.9h1v1h-1zM83.3 446.7h1v1h-1zM99.3 425.7h1v1h-1zM102.8 410.4h1v1h-1zM97.7 426.9h1v1h-1zM84.4 448.9h1v1h-1zM78.2 432.8h1v1h-1zM87.1 456.3h1v1h-1zM100.9 411.0h1v1h-1zM102.7 455.9h1v1h-1zM101.3 433.1h1v1h-1zM101.9 425.4h1v1h-1zM91.5 438.4h1v1h-1zM79.0 428.1h1v1h-1zM98.1 414.9h1v1h-1zM99.9 422.1h1v1h-1zM98.3 452.6h1v1h-1zM83.8 424.5h1v1h-1zM86.0 428.7h1v1h-1zM80.8 428.1h1v1h-1zM90.3 441.8h1v1h-1zM83.0 435.4h1v1h-1zM100.3 416.4h1v1h-1zM96.5 437.3h1v1h-1zM103.1 433.8h1v1h-1zM103.4 456.5h1v1h-1zM99.3 439.7h1v1h-1zM81.4 433.4h1v1h-1zM80.2 433.2h1v1h-1zM99.2 418.9h1v1h-1zM98.4 456.2h1v1h-1zM102.9 412.7h1v1h-1zM80.7 439.5h1v1h-1zM89.0 428.6h1v1h-1zM102.2 435.6h1v1h-1zM96.8 456.9h1v1h-1zM88.3 432.7h1v1h-1zM94.0 440.7h1v1h-1zM97.4 448.0h1v1h-1zM103.5 448.0h1v1h-1zM94.4 415.9h1v1h-1zM102.6 419.5h1v1h-1zM81.5 444.5h1v1h-1zM102.7 422.2h1v1h-1zM93.5 426.6h1v1h-1zM101.2 442.7h1v1h-1zM86.6 447.0h1v1h-1zM79.7 430.3h1v1h-1zM102.6 436.3h1v1h-1zM87.1 425.2h1v1h-1zM92.8 453.2h1v1h-1zM101.4 426.2h1v1h-1zM78.6 436.5h1v1h-1zM78.2 433.7h1v1h-1zM87.4 441.9h1v1h-1zM86.3 441.2h1v1h-1zM88.3 442.9h1v1h-1zM100.8 449.4h1v1h-1zM78.2 441.5h1v1h-1zM79.5 450.3h1v1h-1zM99.7 422.7h1v1h-1zM92.5 419.6h1v1h-1zM100.8 448.3h1v1h-1zM92.3 418.0h1v1h-1zM86.9 464.1h1v1h-1zM86.9 458.2h1v1h-1zM106.2 467.2h1v1h-1z" fill="#6260b0"/>
<path d="M71.6 430.2h1.2v1.2h-1.2zM71.6 426.8h1.2v1.2h-1.2zM72.6 424.7h1.2v1.2h-1.2zM72.2 430.0h1.2v1.2h-1.2zM73.1 431.4h1.2v1.2h-1.2zM71.2 429.2h1.2v1.2h-1.2zM71.9 431.1h1.2v1.2h-1.2zM72.4 423.1h1.2v1.2h-1.2zM73.4 428.1h1.2v1.2h-1.2zM72.9 426.2h1.2v1.2h-1.2zM71.7 430.9h1.2v1.2h-1.2zM72.8 424.4h1.2v1.2h-1.2zM71.6 428.5h1.2v1.2h-1.2zM72.9 423.3h1.2v1.2h-1.2zM74.1 431.2h1.2v1.2h-1.2zM72.6 422.5h1.2v1.2h-1.2zM73.2 427.6h1.2v1.2h-1.2zM72.1 431.3h1.2v1.2h-1.2zM73.4 425.5h1.2v1.2h-1.2zM72.2 431.2h1.2v1.2h-1.2zM71.5 422.9h1.2v1.2h-1.2zM72.3 423.6h1.2v1.2h-1.2zM72.2 425.7h1.2v1.2h-1.2zM72.6 430.8h1.2v1.2h-1.2zM72.7 430.0h1.2v1.2h-1.2zM73.3 425.5h1.2v1.2h-1.2zM71.5 424.6h1.2v1.2h-1.2zM71.7 430.2h1.2v1.2h-1.2zM73.5 424.6h1.2v1.2h-1.2zM72.9 429.0h1.2v1.2h-1.2z" fill="#5a7ab8"/>
<path d="M72.5 467.9h1.2v1.2h-1.2zM71.7 452.1h1.2v1.2h-1.2zM72.8 452.2h1.2v1.2h-1.2zM73.7 465.5h1.2v1.2h-1.2zM72.5 451.9h1.2v1.2h-1.2zM73.2 465.3h1.2v1.2h-1.2zM71.0 458.5h1.2v1.2h-1.2zM71.4 458.3h1.2v1.2h-1.2zM73.7 458.2h1.2v1.2h-1.2zM72.9 464.4h1.2v1.2h-1.2zM73.6 467.7h1.2v1.2h-1.2zM73.6 464.0h1.2v1.2h-1.2zM72.6 459.9h1.2v1.2h-1.2zM74.4 454.4h1.2v1.2h-1.2zM73.0 465.8h1.2v1.2h-1.2zM71.7 455.1h1.2v1.2h-1.2zM72.3 458.2h1.2v1.2h-1.2zM72.8 454.8h1.2v1.2h-1.2zM72.8 460.0h1.2v1.2h-1.2zM73.7 457.2h1.2v1.2h-1.2zM71.6 456.1h1.2v1.2h-1.2zM74.1 454.4h1.2v1.2h-1.2zM73.6 457.5h1.2v1.2h-1.2zM73.7 465.4h1.2v1.2h-1.2zM72.0 465.0h1.2v1.2h-1.2zM73.2 459.7h1.2v1.2h-1.2zM72.3 454.0h1.2v1.2h-1.2zM71.7 456.6h1.2v1.2h-1.2zM73.2 468.2h1.2v1.2h-1.2zM72.5 457.8h1.2v1.2h-1.2zM71.9 457.1h1.2v1.2h-1.2zM72.7 464.1h1.2v1.2h-1.2zM74.1 467.0h1.2v1.2h-1.2zM74.4 457.0h1.2v1.2h-1.2zM72.6 466.5h1.2v1.2h-1.2zM72.9 464.6h1.2v1.2h-1.2zM71.7 462.2h1.2v1.2h-1.2zM72.9 460.9h1.2v1.2h-1.2zM71.1 453.2h1.2v1.2h-1.2zM73.6 454.7h1.2v1.2h-1.2zM71.5 464.3h1.2v1.2h-1.2zM73.5 457.5h1.2v1.2h-1.2z" fill="#6aaa40"/>
<path d="M71.4 465.7h1.2v1.2h-1.2zM73.2 463.6h1.2v1.2h-1.2zM72.4 462.7h1.2v1.2h-1.2zM72.1 461.8h1.2v1.2h-1.2zM72.8 463.6h1.2v1.2h-1.2zM72.2 463.5h1.2v1.2h-1.2zM72.4 465.4h1.2v1.2h-1.2zM72.8 466.2h1.2v1.2h-1.2zM72.9 466.8h1.2v1.2h-1.2zM73.0 464.5h1.2v1.2h-1.2zM72.5 461.7h1.2v1.2h-1.2zM72.5 463.5h1.2v1.2h-1.2zM71.2 468.0h1.2v1.2h-1.2zM71.5 467.9h1.2v1.2h-1.2zM71.3 467.1h1.2v1.2h-1.2zM73.5 468.2h1.2v1.2h-1.2zM72.2 465.8h1.2v1.2h-1.2zM71.8 464.2h1.2v1.2h-1.2zM73.3 462.9h1.2v1.2h-1.2z" fill="#8ab040"/>
<path d="M74.3 445.7h1.2v1.2h-1.2zM73.0 435.2h1.2v1.2h-1.2zM73.7 446.0h1.2v1.2h-1.2zM73.3 448.9h1.2v1.2h-1.2zM72.9 447.5h1.2v1.2h-1.2zM72.0 438.1h1.2v1.2h-1.2zM73.0 436.4h1.2v1.2h-1.2zM72.3 444.2h1.2v1.2h-1.2zM73.6 447.5h1.2v1.2h-1.2zM71.5 449.0h1.2v1.2h-1.2zM71.8 445.5h1.2v1.2h-1.2zM72.0 439.0h1.2v1.2h-1.2zM72.0 439.3h1.2v1.2h-1.2zM70.4 444.3h1.2v1.2h-1.2zM74.1 451.6h1.2v1.2h-1.2zM70.9 445.5h1.2v1.2h-1.2zM72.6 434.0h1.2v1.2h-1.2zM71.9 439.1h1.2v1.2h-1.2zM71.8 435.9h1.2v1.2h-1.2zM72.8 444.7h1.2v1.2h-1.2zM71.3 439.9h1.2v1.2h-1.2zM73.2 444.6h1.2v1.2h-1.2zM73.2 432.3h1.2v1.2h-1.2zM73.8 435.0h1.2v1.2h-1.2zM73.4 437.6h1.2v1.2h-1.2zM72.5 439.5h1.2v1.2h-1.2zM71.6 445.5h1.2v1.2h-1.2zM73.2 445.4h1.2v1.2h-1.2zM73.3 444.9h1.2v1.2h-1.2zM72.3 447.1h1.2v1.2h-1.2zM73.2 445.5h1.2v1.2h-1.2zM72.7 440.6h1.2v1.2h-1.2zM73.7 441.2h1.2v1.2h-1.2zM72.5 441.0h1.2v1.2h-1.2zM73.0 443.2h1.2v1.2h-1.2zM70.3 447.4h1.2v1.2h-1.2zM73.7 448.0h1.2v1.2h-1.2zM72.7 433.1h1.2v1.2h-1.2zM70.5 444.5h1.2v1.2h-1.2zM72.4 434.1h1.2v1.2h-1.2zM71.2 435.6h1.2v1.2h-1.2zM72.5 444.8h1.2v1.2h-1.2zM72.4 433.7h1.2v1.2h-1.2zM72.5 449.6h1.2v1.2h-1.2zM73.3 436.8h1.2v1.2h-1.2zM72.9 451.1h1.2v1.2h-1.2zM73.6 450.8h1.2v1.2h-1.2zM71.9 432.3h1.2v1.2h-1.2zM74.3 433.4h1.2v1.2h-1.2zM74.1 442.7h1.2v1.2h-1.2zM73.7 443.8h1.2v1.2h-1.2zM73.7 440.8h1.2v1.2h-1.2zM71.8 446.2h1.2v1.2h-1.2zM71.7 432.3h1.2v1.2h-1.2zM73.6 443.2h1.2v1.2h-1.2z" fill="#0f6f80"/>
<path d="M72.2 457.1h1.2v1.2h-1.2zM74.1 454.0h1.2v1.2h-1.2zM71.9 454.3h1.2v1.2h-1.2zM71.6 453.6h1.2v1.2h-1.2zM73.6 457.5h1.2v1.2h-1.2zM73.0 459.9h1.2v1.2h-1.2zM72.4 459.2h1.2v1.2h-1.2zM71.4 453.9h1.2v1.2h-1.2zM71.8 458.3h1.2v1.2h-1.2zM73.7 456.1h1.2v1.2h-1.2zM73.3 457.7h1.2v1.2h-1.2zM71.6 454.3h1.2v1.2h-1.2zM71.2 460.8h1.2v1.2h-1.2zM73.4 459.4h1.2v1.2h-1.2zM73.1 452.2h1.2v1.2h-1.2zM72.6 453.6h1.2v1.2h-1.2zM71.9 453.4h1.2v1.2h-1.2zM72.0 457.8h1.2v1.2h-1.2zM73.4 457.3h1.2v1.2h-1.2zM71.8 456.9h1.2v1.2h-1.2zM73.3 456.8h1.2v1.2h-1.2zM72.8 453.6h1.2v1.2h-1.2zM71.6 457.8h1.2v1.2h-1.2zM72.6 456.9h1.2v1.2h-1.2zM72.1 455.0h1.2v1.2h-1.2zM72.5 455.0h1.2v1.2h-1.2zM72.5 452.8h1.2v1.2h-1.2zM72.4 455.0h1.2v1.2h-1.2zM72.0 459.9h1.2v1.2h-1.2zM73.1 453.3h1.2v1.2h-1.2zM72.0 456.3h1.2v1.2h-1.2zM73.8 453.1h1.2v1.2h-1.2z" fill="#2a8a6a"/>
<path d="M73.6 431.0h1.2v1.2h-1.2zM73.6 447.1h1.2v1.2h-1.2zM72.3 422.8h1.2v1.2h-1.2zM72.2 446.1h1.2v1.2h-1.2zM72.0 438.0h1.2v1.2h-1.2zM73.0 446.8h1.2v1.2h-1.2zM73.8 431.0h1.2v1.2h-1.2zM72.6 442.0h1.2v1.2h-1.2zM74.5 435.7h1.2v1.2h-1.2zM72.7 438.1h1.2v1.2h-1.2zM72.8 434.8h1.2v1.2h-1.2zM73.0 441.5h1.2v1.2h-1.2zM72.3 451.6h1.2v1.2h-1.2zM72.7 435.2h1.2v1.2h-1.2zM73.1 422.9h1.2v1.2h-1.2zM71.0 450.0h1.2v1.2h-1.2zM73.2 450.5h1.2v1.2h-1.2zM71.7 451.9h1.2v1.2h-1.2zM72.0 431.3h1.2v1.2h-1.2zM71.9 429.3h1.2v1.2h-1.2zM73.2 451.1h1.2v1.2h-1.2zM72.4 431.3h1.2v1.2h-1.2zM71.7 425.7h1.2v1.2h-1.2zM72.6 423.7h1.2v1.2h-1.2zM73.2 434.8h1.2v1.2h-1.2zM72.2 446.8h1.2v1.2h-1.2zM73.5 446.4h1.2v1.2h-1.2zM71.3 438.5h1.2v1.2h-1.2zM71.8 437.4h1.2v1.2h-1.2zM71.3 429.8h1.2v1.2h-1.2zM72.9 448.2h1.2v1.2h-1.2zM73.1 447.7h1.2v1.2h-1.2zM72.6 428.9h1.2v1.2h-1.2zM73.7 451.5h1.2v1.2h-1.2zM72.4 434.0h1.2v1.2h-1.2zM72.7 446.9h1.2v1.2h-1.2zM73.5 440.0h1.2v1.2h-1.2zM72.6 446.1h1.2v1.2h-1.2zM73.3 443.9h1.2v1.2h-1.2zM73.3 443.0h1.2v1.2h-1.2zM73.4 451.8h1.2v1.2h-1.2zM73.8 443.8h1.2v1.2h-1.2zM72.8 430.6h1.2v1.2h-1.2zM73.9 437.6h1.2v1.2h-1.2zM72.6 441.4h1.2v1.2h-1.2zM73.7 451.1h1.2v1.2h-1.2zM72.9 450.5h1.2v1.2h-1.2zM73.1 425.4h1.2v1.2h-1.2zM73.9 440.0h1.2v1.2h-1.2zM72.9 425.8h1.2v1.2h-1.2zM71.9 434.5h1.2v1.2h-1.2zM71.9 451.7h1.2v1.2h-1.2zM71.4 450.7h1.2v1.2h-1.2zM71.7 449.0h1.2v1.2h-1.2zM74.3 447.6h1.2v1.2h-1.2zM72.8 434.4h1.2v1.2h-1.2zM71.4 428.5h1.2v1.2h-1.2zM71.7 447.4h1.2v1.2h-1.2zM73.1 450.1h1.2v1.2h-1.2zM72.0 449.6h1.2v1.2h-1.2zM71.8 449.8h1.2v1.2h-1.2zM72.3 435.8h1.2v1.2h-1.2zM73.6 436.9h1.2v1.2h-1.2zM73.4 440.2h1.2v1.2h-1.2zM72.0 443.1h1.2v1.2h-1.2zM73.3 440.4h1.2v1.2h-1.2zM72.7 440.7h1.2v1.2h-1.2zM72.9 429.0h1.2v1.2h-1.2zM72.8 423.3h1.2v1.2h-1.2zM71.7 429.8h1.2v1.2h-1.2zM73.1 438.0h1.2v1.2h-1.2zM73.1 426.9h1.2v1.2h-1.2zM72.9 439.0h1.2v1.2h-1.2zM73.3 431.7h1.2v1.2h-1.2zM72.0 443.0h1.2v1.2h-1.2zM73.9 447.1h1.2v1.2h-1.2zM71.7 436.4h1.2v1.2h-1.2zM72.7 432.6h1.2v1.2h-1.2zM72.5 428.7h1.2v1.2h-1.2z" fill="#2a9aa8"/>
<path d="M73.0 476.9h1.2v1.2h-1.2zM72.6 479.2h1.2v1.2h-1.2zM73.9 474.9h1.2v1.2h-1.2zM73.2 470.5h1.2v1.2h-1.2zM72.5 471.3h1.2v1.2h-1.2zM72.0 473.4h1.2v1.2h-1.2zM73.4 469.7h1.2v1.2h-1.2zM72.1 470.5h1.2v1.2h-1.2zM71.8 475.1h1.2v1.2h-1.2zM73.5 476.5h1.2v1.2h-1.2zM71.0 471.7h1.2v1.2h-1.2zM72.4 473.8h1.2v1.2h-1.2zM72.4 469.1h1.2v1.2h-1.2zM73.6 471.1h1.2v1.2h-1.2zM72.7 471.2h1.2v1.2h-1.2zM72.4 470.6h1.2v1.2h-1.2zM72.2 472.3h1.2v1.2h-1.2zM72.4 473.0h1.2v1.2h-1.2zM72.9 471.6h1.2v1.2h-1.2zM71.5 469.4h1.2v1.2h-1.2z" fill="#3a6aa8"/>
<path d="M72.1 459.1h1.2v1.2h-1.2zM72.9 458.9h1.2v1.2h-1.2zM73.3 457.6h1.2v1.2h-1.2zM72.1 458.4h1.2v1.2h-1.2zM74.2 456.4h1.2v1.2h-1.2zM72.3 455.9h1.2v1.2h-1.2zM73.6 457.0h1.2v1.2h-1.2zM71.2 460.7h1.2v1.2h-1.2zM72.9 461.4h1.2v1.2h-1.2zM72.4 457.2h1.2v1.2h-1.2zM73.4 451.9h1.2v1.2h-1.2zM71.9 459.8h1.2v1.2h-1.2zM71.6 455.4h1.2v1.2h-1.2zM71.9 454.6h1.2v1.2h-1.2zM73.6 456.3h1.2v1.2h-1.2zM72.7 459.7h1.2v1.2h-1.2zM72.5 457.5h1.2v1.2h-1.2zM72.8 458.2h1.2v1.2h-1.2zM72.9 460.8h1.2v1.2h-1.2zM72.9 453.5h1.2v1.2h-1.2zM72.6 458.9h1.2v1.2h-1.2zM72.4 451.9h1.2v1.2h-1.2zM73.2 453.8h1.2v1.2h-1.2zM72.2 452.4h1.2v1.2h-1.2zM72.9 456.7h1.2v1.2h-1.2z" fill="#3a9a5a"/>
<path d="M73.6 459.6h1.2v1.2h-1.2zM71.5 459.7h1.2v1.2h-1.2zM70.5 456.4h1.2v1.2h-1.2zM72.7 457.1h1.2v1.2h-1.2zM72.6 453.1h1.2v1.2h-1.2zM73.7 454.2h1.2v1.2h-1.2zM73.5 459.0h1.2v1.2h-1.2zM70.9 453.8h1.2v1.2h-1.2zM72.9 461.1h1.2v1.2h-1.2zM72.6 453.6h1.2v1.2h-1.2zM71.4 458.3h1.2v1.2h-1.2zM74.2 454.1h1.2v1.2h-1.2zM74.1 456.4h1.2v1.2h-1.2zM72.7 454.0h1.2v1.2h-1.2zM72.7 456.9h1.2v1.2h-1.2zM71.7 454.8h1.2v1.2h-1.2zM71.4 454.5h1.2v1.2h-1.2zM74.4 453.2h1.2v1.2h-1.2zM73.8 458.1h1.2v1.2h-1.2zM73.0 457.4h1.2v1.2h-1.2zM72.0 452.7h1.2v1.2h-1.2zM73.3 455.7h1.2v1.2h-1.2zM71.6 457.3h1.2v1.2h-1.2zM73.7 453.7h1.2v1.2h-1.2zM72.0 453.1h1.2v1.2h-1.2zM71.6 454.1h1.2v1.2h-1.2zM72.2 455.2h1.2v1.2h-1.2zM73.8 458.2h1.2v1.2h-1.2zM73.7 455.9h1.2v1.2h-1.2zM72.6 461.4h1.2v1.2h-1.2z" fill="#4a9a4a"/>
<path d="M73.0 435.2h1.2v1.2h-1.2zM72.9 435.5h1.2v1.2h-1.2zM73.2 436.9h1.2v1.2h-1.2zM72.8 439.8h1.2v1.2h-1.2zM72.9 438.0h1.2v1.2h-1.2zM72.8 437.6h1.2v1.2h-1.2zM73.1 446.4h1.2v1.2h-1.2zM73.3 432.1h1.2v1.2h-1.2zM72.0 432.1h1.2v1.2h-1.2zM73.3 443.3h1.2v1.2h-1.2zM73.0 443.1h1.2v1.2h-1.2zM71.2 451.6h1.2v1.2h-1.2zM73.0 441.3h1.2v1.2h-1.2zM72.5 446.6h1.2v1.2h-1.2zM73.0 447.0h1.2v1.2h-1.2zM71.9 434.5h1.2v1.2h-1.2zM71.7 447.7h1.2v1.2h-1.2zM72.6 441.6h1.2v1.2h-1.2zM72.9 435.6h1.2v1.2h-1.2zM71.1 432.1h1.2v1.2h-1.2zM72.0 432.1h1.2v1.2h-1.2zM72.4 435.8h1.2v1.2h-1.2zM72.3 438.5h1.2v1.2h-1.2zM73.1 450.6h1.2v1.2h-1.2zM71.2 448.0h1.2v1.2h-1.2zM71.2 445.4h1.2v1.2h-1.2zM73.5 433.7h1.2v1.2h-1.2zM70.9 442.0h1.2v1.2h-1.2zM73.3 437.6h1.2v1.2h-1.2zM72.4 438.8h1.2v1.2h-1.2zM72.1 448.1h1.2v1.2h-1.2zM72.8 448.4h1.2v1.2h-1.2zM74.0 445.0h1.2v1.2h-1.2zM72.2 432.8h1.2v1.2h-1.2zM72.3 445.5h1.2v1.2h-1.2zM73.2 433.6h1.2v1.2h-1.2zM73.0 433.8h1.2v1.2h-1.2zM74.6 447.7h1.2v1.2h-1.2zM72.2 447.7h1.2v1.2h-1.2zM72.3 440.1h1.2v1.2h-1.2zM72.2 447.6h1.2v1.2h-1.2zM71.8 439.4h1.2v1.2h-1.2zM74.3 441.3h1.2v1.2h-1.2zM72.8 441.4h1.2v1.2h-1.2zM72.2 449.0h1.2v1.2h-1.2zM70.8 432.4h1.2v1.2h-1.2zM72.5 447.3h1.2v1.2h-1.2zM74.1 435.7h1.2v1.2h-1.2zM72.4 447.3h1.2v1.2h-1.2zM74.1 445.2h1.2v1.2h-1.2zM71.9 437.9h1.2v1.2h-1.2zM72.0 439.7h1.2v1.2h-1.2zM72.4 433.0h1.2v1.2h-1.2zM72.7 449.5h1.2v1.2h-1.2zM72.2 450.8h1.2v1.2h-1.2zM72.8 440.2h1.2v1.2h-1.2zM72.1 439.5h1.2v1.2h-1.2zM72.6 435.7h1.2v1.2h-1.2z" fill="#177d8c"/>
<path d="M72.2 469.6h1.2v1.2h-1.2zM71.6 473.9h1.2v1.2h-1.2zM72.4 469.6h1.2v1.2h-1.2zM72.5 470.8h1.2v1.2h-1.2zM72.7 476.1h1.2v1.2h-1.2zM73.7 474.5h1.2v1.2h-1.2zM71.6 471.8h1.2v1.2h-1.2zM72.9 474.7h1.2v1.2h-1.2zM73.4 470.1h1.2v1.2h-1.2zM72.8 470.7h1.2v1.2h-1.2zM74.1 473.8h1.2v1.2h-1.2zM72.9 472.2h1.2v1.2h-1.2zM71.9 471.2h1.2v1.2h-1.2zM73.1 473.5h1.2v1.2h-1.2zM72.3 475.0h1.2v1.2h-1.2zM71.6 471.7h1.2v1.2h-1.2zM73.8 469.0h1.2v1.2h-1.2zM73.6 474.9h1.2v1.2h-1.2zM73.3 470.0h1.2v1.2h-1.2zM72.3 478.2h1.2v1.2h-1.2zM73.0 479.8h1.2v1.2h-1.2zM72.7 469.0h1.2v1.2h-1.2zM73.2 477.9h1.2v1.2h-1.2zM73.4 472.9h1.2v1.2h-1.2z" fill="#2a7a9a"/>
<path d="M71.7 478.7h1.2v1.2h-1.2zM72.8 475.4h1.2v1.2h-1.2zM72.2 475.7h1.2v1.2h-1.2zM73.3 469.5h1.2v1.2h-1.2zM73.7 479.9h1.2v1.2h-1.2zM73.6 471.9h1.2v1.2h-1.2zM71.9 480.3h1.2v1.2h-1.2zM71.8 471.5h1.2v1.2h-1.2zM73.8 473.8h1.2v1.2h-1.2zM72.2 473.9h1.2v1.2h-1.2zM70.9 470.4h1.2v1.2h-1.2zM73.1 469.0h1.2v1.2h-1.2zM71.6 470.7h1.2v1.2h-1.2zM73.3 472.9h1.2v1.2h-1.2zM72.0 473.1h1.2v1.2h-1.2zM74.1 476.8h1.2v1.2h-1.2zM71.8 475.2h1.2v1.2h-1.2zM74.2 473.8h1.2v1.2h-1.2zM73.1 470.2h1.2v1.2h-1.2zM72.8 469.7h1.2v1.2h-1.2zM73.1 473.6h1.2v1.2h-1.2zM73.2 478.4h1.2v1.2h-1.2zM72.8 474.9h1.2v1.2h-1.2zM72.2 472.9h1.2v1.2h-1.2zM72.9 472.1h1.2v1.2h-1.2zM72.9 479.0h1.2v1.2h-1.2z" fill="#2a8a8a"/>
<path d="M72.2 446.3h1.2v1.2h-1.2zM70.9 439.1h1.2v1.2h-1.2zM73.2 433.7h1.2v1.2h-1.2zM73.0 435.5h1.2v1.2h-1.2zM72.1 440.1h1.2v1.2h-1.2zM72.0 438.0h1.2v1.2h-1.2zM73.7 438.3h1.2v1.2h-1.2zM73.4 445.8h1.2v1.2h-1.2zM73.2 443.5h1.2v1.2h-1.2zM72.8 442.3h1.2v1.2h-1.2zM72.7 435.0h1.2v1.2h-1.2zM72.2 442.6h1.2v1.2h-1.2zM73.2 443.3h1.2v1.2h-1.2zM72.3 451.5h1.2v1.2h-1.2zM74.2 445.4h1.2v1.2h-1.2zM72.2 440.8h1.2v1.2h-1.2zM70.7 435.9h1.2v1.2h-1.2zM70.8 443.4h1.2v1.2h-1.2zM72.8 437.1h1.2v1.2h-1.2zM73.5 442.3h1.2v1.2h-1.2zM72.8 439.9h1.2v1.2h-1.2zM72.2 444.4h1.2v1.2h-1.2zM73.2 434.6h1.2v1.2h-1.2zM71.0 442.7h1.2v1.2h-1.2zM71.0 433.1h1.2v1.2h-1.2zM71.4 450.7h1.2v1.2h-1.2zM72.5 447.4h1.2v1.2h-1.2zM71.9 435.0h1.2v1.2h-1.2zM73.8 448.0h1.2v1.2h-1.2zM73.5 441.5h1.2v1.2h-1.2zM73.1 440.4h1.2v1.2h-1.2zM72.0 444.4h1.2v1.2h-1.2zM73.1 431.9h1.2v1.2h-1.2zM72.4 434.0h1.2v1.2h-1.2zM72.5 443.4h1.2v1.2h-1.2zM71.1 436.0h1.2v1.2h-1.2zM71.9 444.2h1.2v1.2h-1.2zM72.7 450.4h1.2v1.2h-1.2zM71.8 438.5h1.2v1.2h-1.2zM73.0 448.8h1.2v1.2h-1.2zM74.1 451.6h1.2v1.2h-1.2zM71.8 437.3h1.2v1.2h-1.2zM72.2 451.2h1.2v1.2h-1.2zM70.7 447.5h1.2v1.2h-1.2zM72.9 446.0h1.2v1.2h-1.2zM72.8 437.5h1.2v1.2h-1.2zM72.6 440.3h1.2v1.2h-1.2zM71.9 445.5h1.2v1.2h-1.2zM72.7 443.7h1.2v1.2h-1.2zM72.5 443.0h1.2v1.2h-1.2zM71.7 448.8h1.2v1.2h-1.2zM73.0 448.7h1.2v1.2h-1.2zM73.1 446.2h1.2v1.2h-1.2zM73.1 446.7h1.2v1.2h-1.2zM72.9 444.7h1.2v1.2h-1.2zM72.9 439.2h1.2v1.2h-1.2zM73.9 447.4h1.2v1.2h-1.2zM71.4 442.8h1.2v1.2h-1.2zM73.5 441.5h1.2v1.2h-1.2z" fill="#23889c"/>
<path d="M72.0 437.1h1.2v1.2h-1.2zM72.4 438.7h1.2v1.2h-1.2zM71.7 447.1h1.2v1.2h-1.2zM72.4 445.5h1.2v1.2h-1.2zM71.1 447.2h1.2v1.2h-1.2zM69.9 432.8h1.2v1.2h-1.2zM73.4 459.8h1.2v1.2h-1.2zM73.3 444.4h1.2v1.2h-1.2zM72.2 439.5h1.2v1.2h-1.2zM72.9 454.4h1.2v1.2h-1.2zM71.9 437.0h1.2v1.2h-1.2zM72.6 449.1h1.2v1.2h-1.2zM71.6 456.8h1.2v1.2h-1.2zM72.5 437.2h1.2v1.2h-1.2zM71.4 437.9h1.2v1.2h-1.2zM72.9 450.5h1.2v1.2h-1.2zM73.5 436.0h1.2v1.2h-1.2zM71.5 433.8h1.2v1.2h-1.2zM74.6 458.0h1.2v1.2h-1.2zM72.4 444.4h1.2v1.2h-1.2zM73.4 434.5h1.2v1.2h-1.2zM72.0 441.5h1.2v1.2h-1.2zM72.0 439.5h1.2v1.2h-1.2zM71.8 446.8h1.2v1.2h-1.2zM72.5 435.8h1.2v1.2h-1.2zM72.8 451.7h1.2v1.2h-1.2zM71.9 442.8h1.2v1.2h-1.2zM71.5 442.2h1.2v1.2h-1.2zM73.7 443.3h1.2v1.2h-1.2zM73.1 433.0h1.2v1.2h-1.2zM72.6 461.2h1.2v1.2h-1.2zM72.0 442.0h1.2v1.2h-1.2zM71.1 446.5h1.2v1.2h-1.2zM72.4 457.7h1.2v1.2h-1.2zM72.2 456.8h1.2v1.2h-1.2zM72.9 432.9h1.2v1.2h-1.2zM72.1 438.5h1.2v1.2h-1.2zM73.2 441.0h1.2v1.2h-1.2zM72.3 453.3h1.2v1.2h-1.2zM73.0 443.5h1.2v1.2h-1.2zM73.0 442.7h1.2v1.2h-1.2zM73.1 449.8h1.2v1.2h-1.2zM73.1 456.7h1.2v1.2h-1.2zM71.8 439.7h1.2v1.2h-1.2zM73.5 440.2h1.2v1.2h-1.2zM72.5 433.3h1.2v1.2h-1.2zM73.7 431.8h1.2v1.2h-1.2zM72.8 447.1h1.2v1.2h-1.2zM72.9 446.2h1.2v1.2h-1.2zM72.9 457.8h1.2v1.2h-1.2zM73.3 460.5h1.2v1.2h-1.2zM72.0 441.9h1.2v1.2h-1.2zM73.3 457.6h1.2v1.2h-1.2zM72.3 437.8h1.2v1.2h-1.2zM73.2 445.3h1.2v1.2h-1.2zM72.4 452.4h1.2v1.2h-1.2zM71.2 449.9h1.2v1.2h-1.2zM73.6 435.1h1.2v1.2h-1.2zM72.3 435.9h1.2v1.2h-1.2zM73.6 452.9h1.2v1.2h-1.2zM71.7 447.1h1.2v1.2h-1.2zM71.5 435.5h1.2v1.2h-1.2zM74.3 437.0h1.2v1.2h-1.2zM72.9 435.1h1.2v1.2h-1.2zM74.2 452.0h1.2v1.2h-1.2zM72.0 459.4h1.2v1.2h-1.2zM71.6 442.4h1.2v1.2h-1.2zM71.2 447.0h1.2v1.2h-1.2zM72.7 456.9h1.2v1.2h-1.2zM71.1 453.7h1.2v1.2h-1.2zM72.2 451.6h1.2v1.2h-1.2zM72.5 450.8h1.2v1.2h-1.2zM72.2 444.9h1.2v1.2h-1.2zM73.1 437.2h1.2v1.2h-1.2zM72.8 449.4h1.2v1.2h-1.2zM71.7 461.2h1.2v1.2h-1.2zM74.2 452.0h1.2v1.2h-1.2z" fill="#1f8a9a"/>
<path d="M72.0 480.1h1.2v1.2h-1.2zM74.2 474.5h1.2v1.2h-1.2zM73.0 474.9h1.2v1.2h-1.2zM71.4 474.4h1.2v1.2h-1.2zM72.5 478.7h1.2v1.2h-1.2zM72.9 470.3h1.2v1.2h-1.2zM72.3 479.6h1.2v1.2h-1.2zM73.8 469.9h1.2v1.2h-1.2zM74.4 479.3h1.2v1.2h-1.2zM73.0 475.6h1.2v1.2h-1.2zM72.5 477.3h1.2v1.2h-1.2zM71.6 479.0h1.2v1.2h-1.2zM73.6 472.6h1.2v1.2h-1.2zM72.5 474.2h1.2v1.2h-1.2zM73.5 480.3h1.2v1.2h-1.2zM73.6 472.6h1.2v1.2h-1.2zM71.9 478.0h1.2v1.2h-1.2zM73.9 471.8h1.2v1.2h-1.2zM73.0 473.1h1.2v1.2h-1.2zM72.3 472.1h1.2v1.2h-1.2zM71.4 473.0h1.2v1.2h-1.2zM73.6 474.6h1.2v1.2h-1.2z" fill="#7a6ac0"/>
<path d="M71.7 468.6h1.2v1.2h-1.2zM73.7 467.0h1.2v1.2h-1.2zM72.5 465.0h1.2v1.2h-1.2zM72.5 468.0h1.2v1.2h-1.2zM72.4 462.0h1.2v1.2h-1.2zM74.0 463.2h1.2v1.2h-1.2zM73.5 466.1h1.2v1.2h-1.2zM72.1 466.2h1.2v1.2h-1.2zM72.1 462.1h1.2v1.2h-1.2zM73.0 462.0h1.2v1.2h-1.2zM72.2 464.4h1.2v1.2h-1.2zM74.5 467.3h1.2v1.2h-1.2zM74.8 466.5h1.2v1.2h-1.2zM70.0 468.7h1.2v1.2h-1.2zM72.7 463.1h1.2v1.2h-1.2zM73.2 463.3h1.2v1.2h-1.2zM72.6 467.2h1.2v1.2h-1.2zM72.9 461.5h1.2v1.2h-1.2zM72.2 464.7h1.2v1.2h-1.2zM73.0 464.7h1.2v1.2h-1.2zM73.0 467.9h1.2v1.2h-1.2zM71.1 462.7h1.2v1.2h-1.2zM71.9 467.6h1.2v1.2h-1.2zM73.9 463.5h1.2v1.2h-1.2z" fill="#e0a020"/>
<path d="M73.2 431.0h1.2v1.2h-1.2zM73.3 429.9h1.2v1.2h-1.2zM72.1 425.7h1.2v1.2h-1.2zM73.4 431.0h1.2v1.2h-1.2zM73.6 426.9h1.2v1.2h-1.2zM73.4 425.0h1.2v1.2h-1.2zM73.7 430.2h1.2v1.2h-1.2zM72.3 426.0h1.2v1.2h-1.2zM73.2 424.6h1.2v1.2h-1.2zM73.8 430.9h1.2v1.2h-1.2zM71.3 431.3h1.2v1.2h-1.2zM73.6 429.9h1.2v1.2h-1.2zM72.7 424.8h1.2v1.2h-1.2zM72.4 429.7h1.2v1.2h-1.2zM73.1 430.5h1.2v1.2h-1.2zM72.3 430.4h1.2v1.2h-1.2zM72.5 429.9h1.2v1.2h-1.2zM73.6 423.4h1.2v1.2h-1.2zM72.4 430.8h1.2v1.2h-1.2zM71.2 427.1h1.2v1.2h-1.2zM72.9 430.6h1.2v1.2h-1.2z" fill="#3a8aa0"/>
<path d="M72.6 467.3h1.2v1.2h-1.2zM73.0 461.9h1.2v1.2h-1.2zM73.3 464.8h1.2v1.2h-1.2zM72.3 463.0h1.2v1.2h-1.2zM72.8 466.6h1.2v1.2h-1.2zM73.2 464.5h1.2v1.2h-1.2zM73.9 462.1h1.2v1.2h-1.2zM72.9 467.7h1.2v1.2h-1.2zM72.8 462.7h1.2v1.2h-1.2z" fill="#b8b030"/>
<path d="M72.8 464.2h1.2v1.2h-1.2zM72.6 464.4h1.2v1.2h-1.2zM73.7 462.0h1.2v1.2h-1.2zM74.3 461.6h1.2v1.2h-1.2zM74.2 468.7h1.2v1.2h-1.2zM71.9 465.5h1.2v1.2h-1.2zM72.1 462.5h1.2v1.2h-1.2zM72.9 468.1h1.2v1.2h-1.2zM73.2 464.3h1.2v1.2h-1.2zM74.3 465.7h1.2v1.2h-1.2zM74.3 463.7h1.2v1.2h-1.2zM73.1 466.7h1.2v1.2h-1.2zM72.0 465.6h1.2v1.2h-1.2zM72.5 468.1h1.2v1.2h-1.2zM72.4 466.1h1.2v1.2h-1.2zM72.3 467.9h1.2v1.2h-1.2zM71.8 467.4h1.2v1.2h-1.2z" fill="#d8b820"/>
<path d="M71.3 473.9h1.2v1.2h-1.2zM71.6 468.9h1.2v1.2h-1.2zM74.4 476.2h1.2v1.2h-1.2zM72.7 474.1h1.2v1.2h-1.2zM72.6 469.4h1.2v1.2h-1.2zM72.8 479.4h1.2v1.2h-1.2zM71.4 477.9h1.2v1.2h-1.2zM72.1 471.5h1.2v1.2h-1.2zM73.0 472.2h1.2v1.2h-1.2zM73.7 476.1h1.2v1.2h-1.2zM72.8 474.9h1.2v1.2h-1.2zM73.1 478.2h1.2v1.2h-1.2zM73.7 473.9h1.2v1.2h-1.2zM74.2 478.9h1.2v1.2h-1.2zM72.5 470.7h1.2v1.2h-1.2zM73.9 475.2h1.2v1.2h-1.2zM71.6 479.7h1.2v1.2h-1.2zM73.3 473.4h1.2v1.2h-1.2zM72.5 477.0h1.2v1.2h-1.2zM74.7 469.6h1.2v1.2h-1.2zM71.9 472.6h1.2v1.2h-1.2zM73.5 478.8h1.2v1.2h-1.2zM74.0 473.2h1.2v1.2h-1.2zM72.8 473.1h1.2v1.2h-1.2zM73.8 477.9h1.2v1.2h-1.2zM72.8 473.8h1.2v1.2h-1.2zM71.7 474.6h1.2v1.2h-1.2zM72.8 474.0h1.2v1.2h-1.2zM73.4 478.8h1.2v1.2h-1.2zM71.8 475.6h1.2v1.2h-1.2zM72.3 477.3h1.2v1.2h-1.2z" fill="#5a5ab0"/>
<line x1="76.5" y1="372.5" x2="76.5" y2="494.3" stroke="#d690c8" stroke-width="1.3"/>
<line x1="42.3" y1="457.6" x2="161.1" y2="457.6" stroke="#d690c8" stroke-width="1.3"/>
<text x="55.699999999999996" y="382.9" font-size="9.4" text-anchor="middle" fill="#000" >G1</text>
<text x="55.699999999999996" y="394.1" font-size="9.4" text-anchor="middle" fill="#000" >35%</text>
<text x="113.3" y="383" font-size="9.4" text-anchor="middle" fill="#000" >S-G2-M</text>
<text x="113.3" y="393.8" font-size="9.4" text-anchor="middle" fill="#000" >13%</text>
<text x="55.699999999999996" y="470.6" font-size="9.4" text-anchor="middle" fill="#000" >G0</text>
<text x="55.699999999999996" y="481.4" font-size="9.4" text-anchor="middle" fill="#000" >51%</text>
<text x="93.85" y="520.3" font-size="10.25" text-anchor="middle" fill="#000" >Hoechst 33342</text>
<text transform="translate(23.0,425.1) rotate(-90)" font-size="9.8" text-anchor="middle">Ki67</text>
<rect x="209.9" y="372.5" width="118.4" height="122.10000000000002" fill="none" stroke="#777" stroke-width="0.8"/>
<line x1="209.9" y1="372.5" x2="209.9" y2="494.6" stroke="#555" stroke-width="0.9"/>
<line x1="209.9" y1="494.6" x2="328.3" y2="494.6" stroke="#333" stroke-width="1.1"/>
<line x1="207.9" y1="494.6" x2="209.9" y2="494.6" stroke="#666" stroke-width="0.6"/>
<text x="206.3" y="496.20000000000005" font-size="5.4" text-anchor="end" fill="#444">10<tspan font-size="3.8" dy="-2.4">0</tspan></text>
<line x1="208.8" y1="485.411059382357" x2="209.9" y2="485.411059382357" stroke="#888" stroke-width="0.5"/>
<line x1="208.8" y1="480.0358736996823" x2="209.9" y2="480.0358736996823" stroke="#888" stroke-width="0.5"/>
<line x1="208.8" y1="476.22211876471397" x2="209.9" y2="476.22211876471397" stroke="#888" stroke-width="0.5"/>
<line x1="208.8" y1="473.263940617643" x2="209.9" y2="473.263940617643" stroke="#888" stroke-width="0.5"/>
<line x1="208.8" y1="470.8469330820393" x2="209.9" y2="470.8469330820393" stroke="#888" stroke-width="0.5"/>
<line x1="208.8" y1="468.80338232856485" x2="209.9" y2="468.80338232856485" stroke="#888" stroke-width="0.5"/>
<line x1="208.8" y1="467.03317814707094" x2="209.9" y2="467.03317814707094" stroke="#888" stroke-width="0.5"/>
<line x1="208.8" y1="465.47174739936463" x2="209.9" y2="465.47174739936463" stroke="#888" stroke-width="0.5"/>
<line x1="207.9" y1="464.07500000000005" x2="209.9" y2="464.07500000000005" stroke="#666" stroke-width="0.6"/>
<text x="206.3" y="465.67500000000007" font-size="5.4" text-anchor="end" fill="#444">10<tspan font-size="3.8" dy="-2.4">1</tspan></text>
<line x1="208.8" y1="454.886059382357" x2="209.9" y2="454.886059382357" stroke="#888" stroke-width="0.5"/>
<line x1="208.8" y1="449.51087369968235" x2="209.9" y2="449.51087369968235" stroke="#888" stroke-width="0.5"/>
<line x1="208.8" y1="445.697118764714" x2="209.9" y2="445.697118764714" stroke="#888" stroke-width="0.5"/>
<line x1="208.8" y1="442.73894061764304" x2="209.9" y2="442.73894061764304" stroke="#888" stroke-width="0.5"/>
<line x1="208.8" y1="440.3219330820393" x2="209.9" y2="440.3219330820393" stroke="#888" stroke-width="0.5"/>
<line x1="208.8" y1="438.2783823285649" x2="209.9" y2="438.2783823285649" stroke="#888" stroke-width="0.5"/>
<line x1="208.8" y1="436.50817814707096" x2="209.9" y2="436.50817814707096" stroke="#888" stroke-width="0.5"/>
<line x1="208.8" y1="434.94674739936465" x2="209.9" y2="434.94674739936465" stroke="#888" stroke-width="0.5"/>
<line x1="207.9" y1="433.55" x2="209.9" y2="433.55" stroke="#666" stroke-width="0.6"/>
<text x="206.3" y="435.15000000000003" font-size="5.4" text-anchor="end" fill="#444">10<tspan font-size="3.8" dy="-2.4">2</tspan></text>
<line x1="208.8" y1="424.361059382357" x2="209.9" y2="424.361059382357" stroke="#888" stroke-width="0.5"/>
<line x1="208.8" y1="418.9858736996823" x2="209.9" y2="418.9858736996823" stroke="#888" stroke-width="0.5"/>
<line x1="208.8" y1="415.17211876471396" x2="209.9" y2="415.17211876471396" stroke="#888" stroke-width="0.5"/>
<line x1="208.8" y1="412.21394061764306" x2="209.9" y2="412.21394061764306" stroke="#888" stroke-width="0.5"/>
<line x1="208.8" y1="409.7969330820393" x2="209.9" y2="409.7969330820393" stroke="#888" stroke-width="0.5"/>
<line x1="208.8" y1="407.75338232856484" x2="209.9" y2="407.75338232856484" stroke="#888" stroke-width="0.5"/>
<line x1="208.8" y1="405.98317814707093" x2="209.9" y2="405.98317814707093" stroke="#888" stroke-width="0.5"/>
<line x1="208.8" y1="404.4217473993646" x2="209.9" y2="404.4217473993646" stroke="#888" stroke-width="0.5"/>
<line x1="207.9" y1="403.025" x2="209.9" y2="403.025" stroke="#666" stroke-width="0.6"/>
<text x="206.3" y="404.625" font-size="5.4" text-anchor="end" fill="#444">10<tspan font-size="3.8" dy="-2.4">3</tspan></text>
<line x1="208.8" y1="393.83605938235695" x2="209.9" y2="393.83605938235695" stroke="#888" stroke-width="0.5"/>
<line x1="208.8" y1="388.4608736996823" x2="209.9" y2="388.4608736996823" stroke="#888" stroke-width="0.5"/>
<line x1="208.8" y1="384.6471187647139" x2="209.9" y2="384.6471187647139" stroke="#888" stroke-width="0.5"/>
<line x1="208.8" y1="381.68894061764297" x2="209.9" y2="381.68894061764297" stroke="#888" stroke-width="0.5"/>
<line x1="208.8" y1="379.27193308203925" x2="209.9" y2="379.27193308203925" stroke="#888" stroke-width="0.5"/>
<line x1="208.8" y1="377.2283823285648" x2="209.9" y2="377.2283823285648" stroke="#888" stroke-width="0.5"/>
<line x1="208.8" y1="375.4581781470709" x2="209.9" y2="375.4581781470709" stroke="#888" stroke-width="0.5"/>
<line x1="208.8" y1="373.8967473993646" x2="209.9" y2="373.8967473993646" stroke="#888" stroke-width="0.5"/>
<line x1="207.9" y1="372.5" x2="209.9" y2="372.5" stroke="#666" stroke-width="0.6"/>
<text x="206.3" y="374.1" font-size="5.4" text-anchor="end" fill="#444">10<tspan font-size="3.8" dy="-2.4">4</tspan></text>
<line x1="210.3" y1="494.6" x2="210.3" y2="496.6" stroke="#666" stroke-width="0.6"/>
<text x="210.3" y="506.20000000000005" font-size="5.6" text-anchor="middle" fill="#222">0</text>
<line x1="246.60000000000002" y1="494.6" x2="246.60000000000002" y2="496.6" stroke="#666" stroke-width="0.6"/>
<text x="246.60000000000002" y="506.20000000000005" font-size="5.6" text-anchor="middle" fill="#222">10000</text>
<line x1="282.9" y1="494.6" x2="282.9" y2="496.6" stroke="#666" stroke-width="0.6"/>
<text x="282.9" y="506.20000000000005" font-size="5.6" text-anchor="middle" fill="#222">20000</text>
<line x1="319.2" y1="494.6" x2="319.2" y2="496.6" stroke="#666" stroke-width="0.6"/>
<text x="319.2" y="506.20000000000005" font-size="5.6" text-anchor="middle" fill="#222">30000</text>
<path d="M271.0 438.0h1v1h-1zM261.5 437.6h1v1h-1zM264.7 457.1h1v1h-1zM259.9 431.0h1v1h-1zM270.9 422.5h1v1h-1zM259.4 436.3h1v1h-1zM248.7 438.5h1v1h-1zM263.4 418.0h1v1h-1zM265.8 445.8h1v1h-1zM271.8 455.1h1v1h-1zM258.4 453.7h1v1h-1zM267.7 422.9h1v1h-1zM270.1 441.2h1v1h-1zM251.1 430.8h1v1h-1zM269.8 452.1h1v1h-1zM271.1 440.0h1v1h-1zM253.5 425.4h1v1h-1zM270.5 435.5h1v1h-1zM270.0 442.5h1v1h-1zM271.6 414.7h1v1h-1zM251.7 426.6h1v1h-1zM256.5 444.2h1v1h-1zM272.0 454.6h1v1h-1zM271.7 441.2h1v1h-1zM269.4 439.6h1v1h-1zM246.2 457.0h1v1h-1zM248.1 432.9h1v1h-1zM272.0 425.5h1v1h-1zM268.5 440.6h1v1h-1zM251.2 443.3h1v1h-1zM248.5 441.3h1v1h-1zM259.1 419.6h1v1h-1zM245.5 441.4h1v1h-1zM271.9 411.6h1v1h-1zM271.8 453.4h1v1h-1zM251.3 434.9h1v1h-1zM252.0 433.8h1v1h-1zM245.1 426.5h1v1h-1zM271.1 409.6h1v1h-1zM272.2 429.3h1v1h-1zM271.2 451.7h1v1h-1zM264.9 428.1h1v1h-1zM259.3 420.7h1v1h-1zM271.8 429.3h1v1h-1zM255.2 418.7h1v1h-1zM247.8 432.0h1v1h-1zM256.2 434.3h1v1h-1zM270.9 433.5h1v1h-1zM270.8 442.9h1v1h-1zM270.9 426.8h1v1h-1zM271.6 408.5h1v1h-1zM262.5 455.3h1v1h-1zM264.8 431.2h1v1h-1zM257.5 447.8h1v1h-1zM270.4 447.6h1v1h-1zM272.0 414.7h1v1h-1zM270.1 433.6h1v1h-1zM247.6 433.7h1v1h-1zM269.4 456.7h1v1h-1zM248.5 431.3h1v1h-1zM257.0 435.6h1v1h-1zM268.5 443.4h1v1h-1zM252.0 452.8h1v1h-1zM264.2 427.0h1v1h-1zM271.9 433.5h1v1h-1zM249.9 438.0h1v1h-1zM264.3 430.2h1v1h-1zM254.0 446.1h1v1h-1zM272.2 434.9h1v1h-1zM263.2 456.2h1v1h-1zM269.1 437.4h1v1h-1zM245.5 455.3h1v1h-1zM247.7 450.2h1v1h-1zM250.4 446.8h1v1h-1zM271.0 416.3h1v1h-1zM257.8 422.6h1v1h-1zM267.9 438.3h1v1h-1zM258.2 441.9h1v1h-1zM271.2 408.8h1v1h-1zM249.7 447.2h1v1h-1zM268.6 412.7h1v1h-1zM271.0 418.2h1v1h-1zM255.0 437.0h1v1h-1zM257.1 451.2h1v1h-1zM270.0 409.6h1v1h-1zM253.3 442.1h1v1h-1zM247.5 443.4h1v1h-1zM259.5 450.0h1v1h-1zM271.2 417.3h1v1h-1zM248.1 450.2h1v1h-1zM272.0 425.9h1v1h-1zM271.1 451.0h1v1h-1zM253.9 421.7h1v1h-1zM271.8 412.9h1v1h-1zM251.4 449.3h1v1h-1zM255.9 449.2h1v1h-1zM263.8 454.6h1v1h-1zM265.5 450.2h1v1h-1zM270.6 422.0h1v1h-1zM249.8 455.6h1v1h-1zM270.6 455.0h1v1h-1zM270.8 421.5h1v1h-1zM259.8 422.4h1v1h-1zM255.6 426.8h1v1h-1zM247.6 427.3h1v1h-1zM272.0 415.5h1v1h-1zM272.2 419.6h1v1h-1zM266.0 411.9h1v1h-1zM266.3 414.2h1v1h-1zM268.1 421.9h1v1h-1zM255.7 434.1h1v1h-1zM253.6 450.1h1v1h-1zM272.0 447.7h1v1h-1zM256.2 436.0h1v1h-1zM263.6 452.8h1v1h-1zM269.0 419.9h1v1h-1zM249.7 426.0h1v1h-1zM247.5 456.3h1v1h-1zM270.3 411.7h1v1h-1zM246.6 429.5h1v1h-1zM268.9 412.7h1v1h-1zM248.6 425.9h1v1h-1zM272.0 435.0h1v1h-1zM269.7 441.0h1v1h-1zM270.8 446.5h1v1h-1zM250.7 432.8h1v1h-1zM267.2 433.4h1v1h-1zM252.8 447.2h1v1h-1zM263.0 413.2h1v1h-1zM250.5 426.9h1v1h-1zM264.2 430.4h1v1h-1zM271.6 443.7h1v1h-1zM272.0 435.7h1v1h-1zM250.1 455.5h1v1h-1zM271.6 413.9h1v1h-1zM264.1 421.5h1v1h-1zM264.7 429.2h1v1h-1zM248.3 445.7h1v1h-1zM255.7 436.2h1v1h-1zM250.5 447.9h1v1h-1zM254.4 434.6h1v1h-1zM271.7 413.0h1v1h-1zM253.4 424.2h1v1h-1zM268.5 416.4h1v1h-1zM253.4 425.4h1v1h-1zM253.2 420.1h1v1h-1zM252.0 445.6h1v1h-1zM257.0 431.2h1v1h-1zM271.0 422.2h1v1h-1zM270.5 433.6h1v1h-1zM270.0 412.4h1v1h-1zM268.7 415.4h1v1h-1zM259.3 422.7h1v1h-1zM271.5 407.9h1v1h-1zM256.9 456.0h1v1h-1zM258.0 429.2h1v1h-1zM270.4 454.1h1v1h-1zM246.5 446.4h1v1h-1zM259.2 446.7h1v1h-1zM264.2 443.2h1v1h-1zM272.0 419.0h1v1h-1zM261.8 439.5h1v1h-1zM271.5 411.0h1v1h-1zM263.0 430.8h1v1h-1zM261.5 416.6h1v1h-1zM254.9 455.0h1v1h-1zM271.4 406.8h1v1h-1zM267.9 409.0h1v1h-1zM247.1 440.2h1v1h-1zM256.9 431.3h1v1h-1zM271.4 447.0h1v1h-1zM253.0 453.1h1v1h-1zM269.4 424.4h1v1h-1zM248.0 441.9h1v1h-1zM258.7 424.8h1v1h-1zM246.4 439.7h1v1h-1zM271.3 424.7h1v1h-1zM255.2 456.2h1v1h-1zM271.0 445.4h1v1h-1zM249.4 441.3h1v1h-1zM262.4 435.6h1v1h-1zM272.0 425.1h1v1h-1zM272.3 446.5h1v1h-1zM245.8 433.1h1v1h-1zM263.7 420.4h1v1h-1zM255.0 450.4h1v1h-1zM257.6 455.1h1v1h-1zM256.5 435.0h1v1h-1zM248.2 441.9h1v1h-1zM257.4 455.6h1v1h-1zM264.0 425.3h1v1h-1zM254.5 422.7h1v1h-1zM272.0 445.7h1v1h-1zM269.9 432.8h1v1h-1zM263.3 440.1h1v1h-1zM246.1 437.7h1v1h-1zM261.5 443.8h1v1h-1zM271.6 408.5h1v1h-1zM247.6 424.4h1v1h-1zM271.1 428.3h1v1h-1zM269.5 455.6h1v1h-1zM262.4 435.8h1v1h-1zM260.5 443.7h1v1h-1zM252.6 436.6h1v1h-1zM249.9 428.7h1v1h-1zM264.7 418.9h1v1h-1zM258.9 420.2h1v1h-1zM257.9 428.5h1v1h-1zM270.3 448.1h1v1h-1zM266.6 414.0h1v1h-1zM250.4 426.7h1v1h-1zM267.8 409.1h1v1h-1zM248.3 455.7h1v1h-1zM272.2 445.5h1v1h-1zM271.2 408.6h1v1h-1zM259.4 447.4h1v1h-1zM250.7 434.2h1v1h-1zM270.8 413.9h1v1h-1zM249.2 428.8h1v1h-1zM262.3 447.2h1v1h-1zM245.8 427.9h1v1h-1zM272.0 452.6h1v1h-1zM271.1 441.5h1v1h-1zM270.4 431.7h1v1h-1zM265.6 414.9h1v1h-1zM271.8 438.1h1v1h-1zM271.3 410.1h1v1h-1zM269.5 421.8h1v1h-1zM269.0 431.3h1v1h-1zM272.0 453.1h1v1h-1zM247.5 428.6h1v1h-1zM256.2 441.6h1v1h-1zM254.4 424.0h1v1h-1zM262.9 413.6h1v1h-1zM251.1 428.9h1v1h-1zM269.7 410.1h1v1h-1zM262.0 442.5h1v1h-1zM253.6 436.2h1v1h-1zM271.8 420.2h1v1h-1zM260.4 444.7h1v1h-1zM271.8 454.9h1v1h-1zM267.7 414.8h1v1h-1zM271.5 424.3h1v1h-1zM267.8 415.5h1v1h-1zM270.8 417.1h1v1h-1zM272.2 429.1h1v1h-1zM268.0 444.1h1v1h-1zM249.7 449.4h1v1h-1zM260.7 425.3h1v1h-1zM268.6 450.8h1v1h-1zM257.8 440.3h1v1h-1zM272.1 414.0h1v1h-1zM271.5 450.6h1v1h-1zM269.4 413.3h1v1h-1zM263.5 419.5h1v1h-1zM246.2 441.3h1v1h-1zM264.8 446.1h1v1h-1zM270.5 432.8h1v1h-1zM271.5 416.4h1v1h-1zM271.1 452.0h1v1h-1zM271.7 454.8h1v1h-1zM257.8 421.8h1v1h-1zM257.1 442.2h1v1h-1zM246.3 433.3h1v1h-1zM248.7 445.3h1v1h-1zM271.8 444.7h1v1h-1zM245.6 435.1h1v1h-1zM262.8 444.8h1v1h-1zM261.1 416.8h1v1h-1zM271.5 413.8h1v1h-1zM245.8 425.9h1v1h-1zM270.2 453.2h1v1h-1zM262.9 428.0h1v1h-1zM272.1 450.4h1v1h-1zM272.1 415.1h1v1h-1zM271.1 437.8h1v1h-1zM270.3 436.8h1v1h-1zM271.7 439.0h1v1h-1zM251.8 423.4h1v1h-1zM250.1 427.7h1v1h-1zM271.3 461.3h1v1h-1zM265.9 457.5h1v1h-1zM277.3 454.0h1v1h-1zM254.6 454.7h1v1h-1zM264.4 458.4h1v1h-1zM276.1 462.1h1v1h-1zM265.6 454.8h1v1h-1zM262.0 462.5h1v1h-1zM248.8 459.9h1v1h-1zM264.4 460.1h1v1h-1z" fill="#a8a4dc"/>
<path d="M270.9 408.2h1v1h-1zM249.3 435.4h1v1h-1zM270.1 408.1h1v1h-1zM272.0 406.3h1v1h-1zM266.8 442.6h1v1h-1zM272.2 426.0h1v1h-1zM269.6 427.2h1v1h-1zM249.5 453.6h1v1h-1zM259.1 440.5h1v1h-1zM271.2 451.8h1v1h-1zM247.9 439.2h1v1h-1zM271.3 421.4h1v1h-1zM272.2 411.2h1v1h-1zM270.9 435.0h1v1h-1zM265.2 452.0h1v1h-1zM247.8 436.7h1v1h-1zM252.1 440.8h1v1h-1zM272.2 435.6h1v1h-1zM270.4 445.6h1v1h-1zM248.0 446.6h1v1h-1zM253.5 441.8h1v1h-1zM260.9 415.3h1v1h-1zM261.7 423.4h1v1h-1zM263.4 412.5h1v1h-1zM272.0 453.4h1v1h-1zM255.8 421.1h1v1h-1zM245.7 444.9h1v1h-1zM270.5 454.7h1v1h-1zM252.1 434.0h1v1h-1zM249.0 435.1h1v1h-1zM270.5 438.1h1v1h-1zM271.3 429.4h1v1h-1zM266.4 434.3h1v1h-1zM256.1 444.1h1v1h-1zM265.8 449.2h1v1h-1zM245.3 438.4h1v1h-1zM261.6 452.5h1v1h-1zM250.2 449.3h1v1h-1zM247.0 424.6h1v1h-1zM252.3 436.7h1v1h-1zM256.0 442.5h1v1h-1zM271.1 431.7h1v1h-1zM262.7 431.4h1v1h-1zM262.8 427.2h1v1h-1zM262.2 423.9h1v1h-1zM255.0 428.4h1v1h-1zM257.1 440.6h1v1h-1zM255.2 429.7h1v1h-1zM269.0 453.0h1v1h-1zM265.6 456.2h1v1h-1zM258.0 452.2h1v1h-1zM269.1 443.6h1v1h-1zM249.1 431.6h1v1h-1zM251.8 431.0h1v1h-1zM270.1 448.5h1v1h-1zM261.7 427.9h1v1h-1zM261.1 434.6h1v1h-1zM268.2 412.7h1v1h-1zM245.2 428.0h1v1h-1zM246.4 453.5h1v1h-1zM267.4 431.3h1v1h-1zM272.1 413.7h1v1h-1zM270.0 412.9h1v1h-1zM270.8 423.5h1v1h-1zM251.3 445.0h1v1h-1zM262.6 438.2h1v1h-1zM267.8 435.1h1v1h-1zM269.6 427.4h1v1h-1zM260.5 429.2h1v1h-1zM271.4 419.9h1v1h-1zM266.5 428.0h1v1h-1zM250.2 436.3h1v1h-1zM263.0 451.3h1v1h-1zM250.4 430.8h1v1h-1zM245.5 442.2h1v1h-1zM262.6 432.0h1v1h-1zM268.9 434.3h1v1h-1zM248.8 442.5h1v1h-1zM272.0 446.3h1v1h-1zM259.1 418.1h1v1h-1zM270.5 411.2h1v1h-1zM247.8 440.6h1v1h-1zM254.7 429.3h1v1h-1zM267.0 451.5h1v1h-1zM272.3 440.2h1v1h-1zM249.4 423.5h1v1h-1zM270.8 416.1h1v1h-1zM272.2 405.7h1v1h-1zM256.0 453.4h1v1h-1zM259.1 431.1h1v1h-1zM272.1 439.7h1v1h-1zM256.5 425.7h1v1h-1zM271.6 431.0h1v1h-1zM263.1 434.7h1v1h-1zM265.4 438.7h1v1h-1zM255.7 440.1h1v1h-1zM262.7 428.0h1v1h-1zM262.7 446.1h1v1h-1zM268.4 454.0h1v1h-1zM256.0 453.6h1v1h-1zM246.4 433.6h1v1h-1zM271.6 418.3h1v1h-1zM251.6 450.8h1v1h-1zM251.5 451.5h1v1h-1zM271.7 413.3h1v1h-1zM272.3 408.2h1v1h-1zM253.3 439.0h1v1h-1zM257.4 455.5h1v1h-1zM270.8 407.3h1v1h-1zM271.4 420.1h1v1h-1zM268.2 413.8h1v1h-1zM271.0 434.8h1v1h-1zM270.0 441.0h1v1h-1zM253.1 421.4h1v1h-1zM249.3 431.0h1v1h-1zM266.3 418.2h1v1h-1zM254.1 454.0h1v1h-1zM255.3 432.1h1v1h-1zM264.7 417.0h1v1h-1zM270.7 410.1h1v1h-1zM270.9 415.1h1v1h-1zM271.2 424.7h1v1h-1zM271.9 418.7h1v1h-1zM253.4 432.9h1v1h-1zM271.1 432.7h1v1h-1zM247.5 451.1h1v1h-1zM265.1 456.5h1v1h-1zM272.0 429.1h1v1h-1zM259.9 425.0h1v1h-1zM258.7 423.8h1v1h-1zM271.2 444.4h1v1h-1zM271.1 421.7h1v1h-1zM251.2 432.8h1v1h-1zM267.7 455.5h1v1h-1zM270.7 451.8h1v1h-1zM268.1 444.3h1v1h-1zM247.9 444.4h1v1h-1zM264.6 433.5h1v1h-1zM249.8 453.3h1v1h-1zM250.6 425.0h1v1h-1zM253.7 454.6h1v1h-1zM269.9 466.9h1v1h-1zM260.0 462.6h1v1h-1zM277.2 459.4h1v1h-1zM252.1 462.1h1v1h-1zM249.4 456.1h1v1h-1z" fill="#6260b0"/>
<path d="M240.0 436.3h1.2v1.2h-1.2zM239.8 440.0h1.2v1.2h-1.2zM242.5 441.3h1.2v1.2h-1.2zM240.5 431.3h1.2v1.2h-1.2zM240.9 430.6h1.2v1.2h-1.2zM239.2 437.2h1.2v1.2h-1.2zM237.9 430.0h1.2v1.2h-1.2zM239.6 433.3h1.2v1.2h-1.2zM241.1 437.7h1.2v1.2h-1.2zM240.1 437.8h1.2v1.2h-1.2zM239.0 439.4h1.2v1.2h-1.2zM240.7 434.4h1.2v1.2h-1.2zM240.0 440.9h1.2v1.2h-1.2zM239.6 430.9h1.2v1.2h-1.2zM240.7 437.7h1.2v1.2h-1.2zM240.6 434.3h1.2v1.2h-1.2zM241.6 430.1h1.2v1.2h-1.2zM240.1 439.0h1.2v1.2h-1.2zM240.6 433.6h1.2v1.2h-1.2zM238.5 432.1h1.2v1.2h-1.2zM239.9 434.5h1.2v1.2h-1.2zM240.2 438.7h1.2v1.2h-1.2zM240.0 437.6h1.2v1.2h-1.2zM239.3 442.6h1.2v1.2h-1.2zM241.2 433.5h1.2v1.2h-1.2zM239.9 439.2h1.2v1.2h-1.2zM240.9 433.0h1.2v1.2h-1.2zM240.2 438.6h1.2v1.2h-1.2zM241.0 438.2h1.2v1.2h-1.2zM241.1 429.5h1.2v1.2h-1.2zM240.5 430.3h1.2v1.2h-1.2zM243.1 440.5h1.2v1.2h-1.2zM240.8 430.5h1.2v1.2h-1.2zM239.1 436.9h1.2v1.2h-1.2zM240.3 439.8h1.2v1.2h-1.2zM240.1 433.3h1.2v1.2h-1.2zM240.4 440.3h1.2v1.2h-1.2zM240.5 437.5h1.2v1.2h-1.2zM240.3 442.6h1.2v1.2h-1.2zM240.3 436.9h1.2v1.2h-1.2zM239.6 436.1h1.2v1.2h-1.2zM239.9 438.6h1.2v1.2h-1.2zM239.5 432.8h1.2v1.2h-1.2zM239.5 439.8h1.2v1.2h-1.2zM240.0 433.6h1.2v1.2h-1.2zM240.0 439.2h1.2v1.2h-1.2zM239.4 443.2h1.2v1.2h-1.2zM239.4 433.2h1.2v1.2h-1.2z" fill="#c8b830"/>
<path d="M239.8 448.9h1.2v1.2h-1.2zM241.1 449.1h1.2v1.2h-1.2zM241.2 450.5h1.2v1.2h-1.2zM241.3 444.6h1.2v1.2h-1.2zM239.8 450.3h1.2v1.2h-1.2zM240.9 452.2h1.2v1.2h-1.2zM239.2 448.7h1.2v1.2h-1.2zM240.0 451.9h1.2v1.2h-1.2zM241.7 448.3h1.2v1.2h-1.2zM239.8 453.7h1.2v1.2h-1.2zM240.9 446.2h1.2v1.2h-1.2zM241.9 446.0h1.2v1.2h-1.2zM240.8 453.4h1.2v1.2h-1.2zM242.2 448.8h1.2v1.2h-1.2zM240.5 447.4h1.2v1.2h-1.2zM240.5 449.9h1.2v1.2h-1.2zM239.6 450.7h1.2v1.2h-1.2zM240.3 448.1h1.2v1.2h-1.2zM241.2 453.0h1.2v1.2h-1.2zM240.0 448.4h1.2v1.2h-1.2zM240.4 451.3h1.2v1.2h-1.2zM240.6 446.4h1.2v1.2h-1.2zM239.7 453.9h1.2v1.2h-1.2zM240.1 448.8h1.2v1.2h-1.2zM240.5 445.2h1.2v1.2h-1.2zM240.7 445.7h1.2v1.2h-1.2zM239.6 451.9h1.2v1.2h-1.2zM240.8 449.6h1.2v1.2h-1.2zM240.0 447.5h1.2v1.2h-1.2zM241.4 453.1h1.2v1.2h-1.2zM241.5 451.5h1.2v1.2h-1.2zM239.7 452.0h1.2v1.2h-1.2z" fill="#1f7a7a"/>
<path d="M240.6 457.1h1.2v1.2h-1.2zM240.1 459.4h1.2v1.2h-1.2zM241.1 455.7h1.2v1.2h-1.2zM239.9 458.9h1.2v1.2h-1.2zM241.3 455.1h1.2v1.2h-1.2zM241.0 457.8h1.2v1.2h-1.2zM239.7 456.9h1.2v1.2h-1.2zM240.3 460.3h1.2v1.2h-1.2zM240.5 456.8h1.2v1.2h-1.2zM241.2 461.7h1.2v1.2h-1.2zM241.3 457.6h1.2v1.2h-1.2zM238.8 456.3h1.2v1.2h-1.2zM240.1 457.6h1.2v1.2h-1.2zM240.9 457.3h1.2v1.2h-1.2zM241.4 458.5h1.2v1.2h-1.2zM240.1 462.1h1.2v1.2h-1.2zM240.1 455.5h1.2v1.2h-1.2zM239.8 456.9h1.2v1.2h-1.2zM240.1 462.0h1.2v1.2h-1.2zM238.8 460.3h1.2v1.2h-1.2zM239.8 458.4h1.2v1.2h-1.2zM241.1 456.7h1.2v1.2h-1.2zM241.1 457.1h1.2v1.2h-1.2zM240.6 461.4h1.2v1.2h-1.2zM240.4 459.2h1.2v1.2h-1.2zM238.9 455.8h1.2v1.2h-1.2zM242.0 458.9h1.2v1.2h-1.2z" fill="#e0a020"/>
<path d="M240.6 443.8h1.2v1.2h-1.2zM241.4 437.4h1.2v1.2h-1.2zM239.5 442.6h1.2v1.2h-1.2zM240.7 441.6h1.2v1.2h-1.2zM240.6 437.4h1.2v1.2h-1.2zM242.0 429.7h1.2v1.2h-1.2zM240.7 432.2h1.2v1.2h-1.2zM241.0 436.8h1.2v1.2h-1.2zM243.0 442.3h1.2v1.2h-1.2zM238.9 437.9h1.2v1.2h-1.2zM241.1 432.9h1.2v1.2h-1.2zM239.7 442.7h1.2v1.2h-1.2zM239.2 436.6h1.2v1.2h-1.2zM241.1 430.6h1.2v1.2h-1.2zM240.1 442.8h1.2v1.2h-1.2zM240.1 437.1h1.2v1.2h-1.2zM241.5 434.1h1.2v1.2h-1.2zM240.4 438.0h1.2v1.2h-1.2zM241.1 440.0h1.2v1.2h-1.2zM240.8 438.2h1.2v1.2h-1.2zM239.5 431.3h1.2v1.2h-1.2zM238.4 439.1h1.2v1.2h-1.2zM240.8 443.2h1.2v1.2h-1.2zM239.7 428.9h1.2v1.2h-1.2zM240.5 435.4h1.2v1.2h-1.2zM240.8 435.4h1.2v1.2h-1.2zM240.7 431.8h1.2v1.2h-1.2zM241.3 443.5h1.2v1.2h-1.2zM238.5 435.8h1.2v1.2h-1.2zM239.9 428.2h1.2v1.2h-1.2zM240.7 438.5h1.2v1.2h-1.2zM242.0 440.8h1.2v1.2h-1.2zM241.3 440.0h1.2v1.2h-1.2zM240.9 433.4h1.2v1.2h-1.2zM240.7 443.2h1.2v1.2h-1.2zM242.5 431.6h1.2v1.2h-1.2zM241.9 440.5h1.2v1.2h-1.2zM240.0 437.0h1.2v1.2h-1.2zM241.1 431.4h1.2v1.2h-1.2zM240.7 442.3h1.2v1.2h-1.2zM241.7 440.7h1.2v1.2h-1.2zM241.1 428.6h1.2v1.2h-1.2z" fill="#7ab040"/>
<path d="M240.5 458.4h1.2v1.2h-1.2zM240.9 460.2h1.2v1.2h-1.2zM238.7 458.5h1.2v1.2h-1.2zM242.0 455.6h1.2v1.2h-1.2zM240.1 455.1h1.2v1.2h-1.2zM241.2 455.7h1.2v1.2h-1.2zM240.8 455.2h1.2v1.2h-1.2zM241.4 460.1h1.2v1.2h-1.2zM240.0 456.6h1.2v1.2h-1.2zM240.7 457.3h1.2v1.2h-1.2zM241.4 458.3h1.2v1.2h-1.2zM239.7 459.4h1.2v1.2h-1.2zM241.2 457.2h1.2v1.2h-1.2zM240.1 455.9h1.2v1.2h-1.2zM241.2 459.2h1.2v1.2h-1.2zM238.9 456.9h1.2v1.2h-1.2zM240.2 458.2h1.2v1.2h-1.2zM241.3 457.7h1.2v1.2h-1.2zM240.0 462.2h1.2v1.2h-1.2zM239.8 457.8h1.2v1.2h-1.2zM240.1 461.8h1.2v1.2h-1.2zM240.7 460.8h1.2v1.2h-1.2zM240.1 460.3h1.2v1.2h-1.2zM240.6 460.3h1.2v1.2h-1.2zM240.8 456.4h1.2v1.2h-1.2zM240.5 462.3h1.2v1.2h-1.2z" fill="#d89020"/>
<path d="M240.0 462.9h1.2v1.2h-1.2zM240.5 465.9h1.2v1.2h-1.2zM241.0 465.6h1.2v1.2h-1.2zM241.0 466.3h1.2v1.2h-1.2zM239.4 472.9h1.2v1.2h-1.2zM240.7 469.1h1.2v1.2h-1.2zM241.5 471.5h1.2v1.2h-1.2zM241.5 464.9h1.2v1.2h-1.2zM241.1 465.1h1.2v1.2h-1.2zM239.0 462.3h1.2v1.2h-1.2zM240.6 467.3h1.2v1.2h-1.2zM239.7 466.4h1.2v1.2h-1.2zM241.7 467.0h1.2v1.2h-1.2zM240.3 467.6h1.2v1.2h-1.2zM241.0 463.7h1.2v1.2h-1.2zM241.0 467.4h1.2v1.2h-1.2zM240.9 467.2h1.2v1.2h-1.2zM240.3 465.4h1.2v1.2h-1.2zM240.0 470.6h1.2v1.2h-1.2zM240.6 462.5h1.2v1.2h-1.2zM240.7 467.8h1.2v1.2h-1.2zM242.5 465.0h1.2v1.2h-1.2zM240.3 463.2h1.2v1.2h-1.2zM240.4 465.0h1.2v1.2h-1.2z" fill="#2a6a6a"/>
<path d="M240.2 466.9h1.2v1.2h-1.2zM242.5 466.3h1.2v1.2h-1.2zM239.8 464.7h1.2v1.2h-1.2zM240.4 467.0h1.2v1.2h-1.2zM241.0 464.8h1.2v1.2h-1.2zM239.4 467.8h1.2v1.2h-1.2zM240.1 471.8h1.2v1.2h-1.2zM242.2 467.0h1.2v1.2h-1.2zM240.1 463.2h1.2v1.2h-1.2zM240.4 470.4h1.2v1.2h-1.2zM241.8 463.1h1.2v1.2h-1.2zM238.9 467.3h1.2v1.2h-1.2zM240.3 463.2h1.2v1.2h-1.2zM241.3 472.3h1.2v1.2h-1.2zM240.9 463.4h1.2v1.2h-1.2zM240.8 463.8h1.2v1.2h-1.2zM240.7 467.2h1.2v1.2h-1.2zM240.3 463.6h1.2v1.2h-1.2zM241.6 465.3h1.2v1.2h-1.2zM240.0 462.5h1.2v1.2h-1.2zM241.0 468.0h1.2v1.2h-1.2zM240.1 466.7h1.2v1.2h-1.2zM240.4 462.6h1.2v1.2h-1.2zM239.9 471.0h1.2v1.2h-1.2z" fill="#2a7a5a"/>
<path d="M242.4 421.0h1.2v1.2h-1.2zM241.0 447.0h1.2v1.2h-1.2zM239.8 448.7h1.2v1.2h-1.2zM240.4 453.9h1.2v1.2h-1.2zM240.8 452.9h1.2v1.2h-1.2zM241.5 425.2h1.2v1.2h-1.2zM240.6 445.1h1.2v1.2h-1.2zM240.8 452.3h1.2v1.2h-1.2zM240.6 423.1h1.2v1.2h-1.2zM239.8 426.9h1.2v1.2h-1.2zM242.3 452.0h1.2v1.2h-1.2zM241.1 423.1h1.2v1.2h-1.2zM240.8 423.0h1.2v1.2h-1.2zM239.1 451.7h1.2v1.2h-1.2zM240.1 449.0h1.2v1.2h-1.2zM241.2 446.9h1.2v1.2h-1.2zM242.0 449.0h1.2v1.2h-1.2zM240.3 446.0h1.2v1.2h-1.2zM241.7 449.2h1.2v1.2h-1.2zM240.9 449.1h1.2v1.2h-1.2zM240.8 452.4h1.2v1.2h-1.2zM239.9 454.3h1.2v1.2h-1.2zM240.6 452.1h1.2v1.2h-1.2zM239.9 447.0h1.2v1.2h-1.2zM239.9 447.1h1.2v1.2h-1.2zM239.2 449.7h1.2v1.2h-1.2zM242.1 450.4h1.2v1.2h-1.2zM240.1 453.7h1.2v1.2h-1.2zM240.6 425.7h1.2v1.2h-1.2zM239.8 449.2h1.2v1.2h-1.2zM240.1 423.2h1.2v1.2h-1.2zM238.5 423.7h1.2v1.2h-1.2zM240.9 453.9h1.2v1.2h-1.2zM239.9 452.7h1.2v1.2h-1.2zM240.6 450.5h1.2v1.2h-1.2zM241.8 450.6h1.2v1.2h-1.2zM240.8 454.1h1.2v1.2h-1.2zM241.6 454.4h1.2v1.2h-1.2zM240.6 447.8h1.2v1.2h-1.2zM240.0 421.8h1.2v1.2h-1.2zM240.1 414.7h1.2v1.2h-1.2zM239.9 420.0h1.2v1.2h-1.2zM241.6 447.3h1.2v1.2h-1.2zM242.1 448.7h1.2v1.2h-1.2zM240.7 446.4h1.2v1.2h-1.2zM241.5 445.0h1.2v1.2h-1.2zM240.6 451.8h1.2v1.2h-1.2zM241.4 451.1h1.2v1.2h-1.2zM240.2 415.8h1.2v1.2h-1.2zM240.1 426.5h1.2v1.2h-1.2zM240.8 452.9h1.2v1.2h-1.2zM241.2 453.4h1.2v1.2h-1.2zM240.1 423.6h1.2v1.2h-1.2z" fill="#177d8c"/>
<path d="M241.8 424.7h1.2v1.2h-1.2zM240.5 440.3h1.2v1.2h-1.2zM239.5 441.3h1.2v1.2h-1.2zM238.7 430.1h1.2v1.2h-1.2zM239.4 430.4h1.2v1.2h-1.2zM240.9 440.8h1.2v1.2h-1.2zM241.8 430.1h1.2v1.2h-1.2zM239.0 418.6h1.2v1.2h-1.2zM240.4 435.8h1.2v1.2h-1.2zM240.0 431.3h1.2v1.2h-1.2zM239.3 443.7h1.2v1.2h-1.2zM240.4 425.6h1.2v1.2h-1.2zM239.3 437.9h1.2v1.2h-1.2zM239.5 424.5h1.2v1.2h-1.2zM240.9 423.1h1.2v1.2h-1.2zM240.7 432.4h1.2v1.2h-1.2zM240.4 414.8h1.2v1.2h-1.2zM240.4 432.3h1.2v1.2h-1.2zM241.3 427.3h1.2v1.2h-1.2zM240.2 430.2h1.2v1.2h-1.2zM241.4 432.2h1.2v1.2h-1.2zM240.4 433.2h1.2v1.2h-1.2zM241.1 439.8h1.2v1.2h-1.2zM239.3 433.4h1.2v1.2h-1.2zM239.7 438.5h1.2v1.2h-1.2zM240.4 423.7h1.2v1.2h-1.2zM238.4 436.1h1.2v1.2h-1.2zM242.4 417.9h1.2v1.2h-1.2zM240.1 428.9h1.2v1.2h-1.2zM240.7 443.0h1.2v1.2h-1.2zM239.6 422.5h1.2v1.2h-1.2zM240.3 417.2h1.2v1.2h-1.2zM239.2 424.8h1.2v1.2h-1.2zM240.8 436.0h1.2v1.2h-1.2zM240.1 423.5h1.2v1.2h-1.2zM241.1 440.2h1.2v1.2h-1.2zM240.2 425.3h1.2v1.2h-1.2zM240.6 440.0h1.2v1.2h-1.2zM240.8 426.4h1.2v1.2h-1.2zM242.6 434.0h1.2v1.2h-1.2zM238.8 433.8h1.2v1.2h-1.2zM239.2 424.2h1.2v1.2h-1.2zM241.6 419.2h1.2v1.2h-1.2zM239.6 427.1h1.2v1.2h-1.2zM242.2 424.8h1.2v1.2h-1.2zM241.4 429.2h1.2v1.2h-1.2zM239.7 432.6h1.2v1.2h-1.2zM240.5 428.3h1.2v1.2h-1.2zM241.2 440.4h1.2v1.2h-1.2zM240.2 433.0h1.2v1.2h-1.2zM240.3 420.5h1.2v1.2h-1.2zM240.1 436.6h1.2v1.2h-1.2zM240.4 427.1h1.2v1.2h-1.2zM240.5 428.0h1.2v1.2h-1.2zM240.4 428.4h1.2v1.2h-1.2zM242.6 429.3h1.2v1.2h-1.2zM240.2 421.2h1.2v1.2h-1.2zM240.4 442.9h1.2v1.2h-1.2zM241.7 417.9h1.2v1.2h-1.2zM240.1 423.3h1.2v1.2h-1.2zM240.9 422.0h1.2v1.2h-1.2zM242.2 440.6h1.2v1.2h-1.2zM242.0 425.5h1.2v1.2h-1.2zM240.4 433.2h1.2v1.2h-1.2zM239.6 442.4h1.2v1.2h-1.2zM239.9 443.3h1.2v1.2h-1.2zM240.8 440.7h1.2v1.2h-1.2z" fill="#1f8a9a"/>
<path d="M239.6 467.8h1.2v1.2h-1.2zM240.5 465.5h1.2v1.2h-1.2zM240.8 471.9h1.2v1.2h-1.2zM240.1 467.6h1.2v1.2h-1.2zM242.4 468.8h1.2v1.2h-1.2zM242.0 465.2h1.2v1.2h-1.2zM240.4 463.9h1.2v1.2h-1.2zM241.5 463.1h1.2v1.2h-1.2zM238.2 471.8h1.2v1.2h-1.2zM241.2 467.7h1.2v1.2h-1.2zM242.0 468.4h1.2v1.2h-1.2zM239.5 465.0h1.2v1.2h-1.2zM241.3 462.6h1.2v1.2h-1.2zM241.3 467.3h1.2v1.2h-1.2zM240.3 464.1h1.2v1.2h-1.2zM240.0 466.8h1.2v1.2h-1.2zM240.6 464.2h1.2v1.2h-1.2zM239.7 468.3h1.2v1.2h-1.2zM240.6 466.3h1.2v1.2h-1.2zM240.5 471.5h1.2v1.2h-1.2zM240.7 466.7h1.2v1.2h-1.2zM242.1 464.7h1.2v1.2h-1.2zM240.9 464.9h1.2v1.2h-1.2zM240.2 471.0h1.2v1.2h-1.2zM240.7 467.3h1.2v1.2h-1.2zM240.6 472.7h1.2v1.2h-1.2zM240.3 470.6h1.2v1.2h-1.2zM241.5 463.1h1.2v1.2h-1.2zM240.8 468.2h1.2v1.2h-1.2zM240.2 470.0h1.2v1.2h-1.2zM241.4 466.5h1.2v1.2h-1.2zM240.0 462.9h1.2v1.2h-1.2zM240.5 463.6h1.2v1.2h-1.2zM239.9 470.5h1.2v1.2h-1.2zM241.4 470.0h1.2v1.2h-1.2z" fill="#3a6aa8"/>
<path d="M238.9 441.8h1.2v1.2h-1.2zM239.9 461.7h1.2v1.2h-1.2zM240.7 434.0h1.2v1.2h-1.2zM240.4 458.2h1.2v1.2h-1.2zM238.6 441.2h1.2v1.2h-1.2zM240.1 443.1h1.2v1.2h-1.2zM239.9 439.7h1.2v1.2h-1.2zM239.2 458.0h1.2v1.2h-1.2zM240.5 437.6h1.2v1.2h-1.2zM241.4 441.1h1.2v1.2h-1.2zM240.3 457.0h1.2v1.2h-1.2zM242.1 459.2h1.2v1.2h-1.2zM239.3 457.7h1.2v1.2h-1.2zM241.5 438.0h1.2v1.2h-1.2zM241.8 428.4h1.2v1.2h-1.2zM240.6 436.8h1.2v1.2h-1.2zM239.6 432.5h1.2v1.2h-1.2zM239.9 462.3h1.2v1.2h-1.2zM242.1 443.0h1.2v1.2h-1.2zM240.6 440.6h1.2v1.2h-1.2zM239.6 462.2h1.2v1.2h-1.2zM239.1 431.9h1.2v1.2h-1.2zM241.0 442.5h1.2v1.2h-1.2zM239.4 440.5h1.2v1.2h-1.2zM239.7 459.3h1.2v1.2h-1.2zM240.8 460.2h1.2v1.2h-1.2zM240.5 442.1h1.2v1.2h-1.2zM239.9 461.2h1.2v1.2h-1.2zM240.8 459.7h1.2v1.2h-1.2zM240.4 461.1h1.2v1.2h-1.2zM238.8 429.1h1.2v1.2h-1.2zM240.3 440.1h1.2v1.2h-1.2zM239.4 459.7h1.2v1.2h-1.2zM239.9 461.2h1.2v1.2h-1.2zM239.6 435.8h1.2v1.2h-1.2zM240.2 440.3h1.2v1.2h-1.2zM239.6 459.3h1.2v1.2h-1.2zM239.9 461.1h1.2v1.2h-1.2zM239.4 457.3h1.2v1.2h-1.2zM240.6 441.4h1.2v1.2h-1.2zM240.1 457.8h1.2v1.2h-1.2zM241.2 441.8h1.2v1.2h-1.2zM241.7 431.9h1.2v1.2h-1.2zM241.1 435.2h1.2v1.2h-1.2zM240.6 460.1h1.2v1.2h-1.2zM239.7 459.4h1.2v1.2h-1.2zM240.7 455.9h1.2v1.2h-1.2zM237.3 462.2h1.2v1.2h-1.2zM240.7 440.7h1.2v1.2h-1.2zM240.0 455.5h1.2v1.2h-1.2zM241.0 454.9h1.2v1.2h-1.2zM240.7 456.6h1.2v1.2h-1.2zM241.5 441.4h1.2v1.2h-1.2zM240.6 441.8h1.2v1.2h-1.2zM240.2 443.8h1.2v1.2h-1.2zM239.6 455.7h1.2v1.2h-1.2zM241.1 432.0h1.2v1.2h-1.2zM240.8 431.2h1.2v1.2h-1.2zM240.5 437.6h1.2v1.2h-1.2zM240.8 443.2h1.2v1.2h-1.2zM241.5 456.6h1.2v1.2h-1.2zM240.1 432.4h1.2v1.2h-1.2zM241.2 440.4h1.2v1.2h-1.2zM240.2 430.6h1.2v1.2h-1.2zM240.1 436.2h1.2v1.2h-1.2zM238.9 430.9h1.2v1.2h-1.2zM239.2 458.4h1.2v1.2h-1.2zM240.6 435.8h1.2v1.2h-1.2zM240.7 458.2h1.2v1.2h-1.2zM241.7 434.0h1.2v1.2h-1.2zM241.1 455.6h1.2v1.2h-1.2zM239.8 456.7h1.2v1.2h-1.2zM240.6 455.8h1.2v1.2h-1.2zM240.8 457.4h1.2v1.2h-1.2zM242.0 435.1h1.2v1.2h-1.2zM241.0 439.5h1.2v1.2h-1.2zM239.6 434.9h1.2v1.2h-1.2zM238.3 442.5h1.2v1.2h-1.2z" fill="#9ab030"/>
<path d="M240.7 414.6h1.2v1.2h-1.2zM242.0 424.5h1.2v1.2h-1.2zM240.8 422.5h1.2v1.2h-1.2zM240.6 421.8h1.2v1.2h-1.2zM240.5 425.2h1.2v1.2h-1.2zM240.6 421.1h1.2v1.2h-1.2zM239.7 427.7h1.2v1.2h-1.2zM240.9 425.1h1.2v1.2h-1.2zM240.2 416.7h1.2v1.2h-1.2zM240.8 419.7h1.2v1.2h-1.2zM239.8 426.5h1.2v1.2h-1.2zM240.3 417.4h1.2v1.2h-1.2zM239.5 422.3h1.2v1.2h-1.2zM240.3 427.4h1.2v1.2h-1.2zM240.2 425.7h1.2v1.2h-1.2zM240.3 422.5h1.2v1.2h-1.2z" fill="#3a70b0"/>
<path d="M241.8 418.6h1.2v1.2h-1.2zM240.4 419.3h1.2v1.2h-1.2zM240.2 423.6h1.2v1.2h-1.2zM240.2 425.0h1.2v1.2h-1.2zM241.1 423.2h1.2v1.2h-1.2zM240.5 425.2h1.2v1.2h-1.2zM240.5 427.8h1.2v1.2h-1.2zM239.3 423.8h1.2v1.2h-1.2zM239.0 423.4h1.2v1.2h-1.2zM241.0 417.2h1.2v1.2h-1.2zM241.1 426.5h1.2v1.2h-1.2zM240.5 415.9h1.2v1.2h-1.2zM241.8 422.5h1.2v1.2h-1.2zM241.2 425.4h1.2v1.2h-1.2zM239.4 424.0h1.2v1.2h-1.2zM240.5 424.6h1.2v1.2h-1.2zM239.1 426.8h1.2v1.2h-1.2zM241.2 427.1h1.2v1.2h-1.2zM241.5 427.6h1.2v1.2h-1.2zM241.8 423.4h1.2v1.2h-1.2zM238.9 428.0h1.2v1.2h-1.2zM242.0 419.7h1.2v1.2h-1.2zM241.5 422.5h1.2v1.2h-1.2zM240.1 416.6h1.2v1.2h-1.2zM240.8 415.3h1.2v1.2h-1.2zM240.3 426.5h1.2v1.2h-1.2zM241.5 417.7h1.2v1.2h-1.2z" fill="#2a9aa8"/>
<path d="M241.2 464.2h1.2v1.2h-1.2zM241.1 462.7h1.2v1.2h-1.2zM241.3 462.4h1.2v1.2h-1.2zM240.2 462.8h1.2v1.2h-1.2zM241.2 468.1h1.2v1.2h-1.2zM240.0 467.0h1.2v1.2h-1.2zM241.2 467.9h1.2v1.2h-1.2zM240.7 462.4h1.2v1.2h-1.2zM241.1 470.8h1.2v1.2h-1.2zM242.3 463.5h1.2v1.2h-1.2zM241.1 472.6h1.2v1.2h-1.2zM240.0 464.1h1.2v1.2h-1.2zM240.8 463.1h1.2v1.2h-1.2zM241.7 465.1h1.2v1.2h-1.2zM240.8 463.9h1.2v1.2h-1.2zM242.1 467.6h1.2v1.2h-1.2zM241.6 462.9h1.2v1.2h-1.2zM239.9 466.7h1.2v1.2h-1.2zM239.5 467.4h1.2v1.2h-1.2zM240.6 467.8h1.2v1.2h-1.2zM239.9 463.9h1.2v1.2h-1.2z" fill="#1f5a7a"/>
<path d="M241.1 427.2h1.2v1.2h-1.2zM241.9 425.6h1.2v1.2h-1.2zM239.3 417.8h1.2v1.2h-1.2zM239.4 425.7h1.2v1.2h-1.2zM240.0 424.1h1.2v1.2h-1.2zM240.1 423.8h1.2v1.2h-1.2zM240.6 426.5h1.2v1.2h-1.2zM239.1 417.3h1.2v1.2h-1.2zM240.9 423.6h1.2v1.2h-1.2zM240.1 414.6h1.2v1.2h-1.2zM240.3 417.3h1.2v1.2h-1.2zM240.8 414.4h1.2v1.2h-1.2zM240.7 426.5h1.2v1.2h-1.2zM240.2 419.8h1.2v1.2h-1.2zM241.2 418.5h1.2v1.2h-1.2zM240.2 427.1h1.2v1.2h-1.2zM240.1 417.0h1.2v1.2h-1.2zM239.5 416.2h1.2v1.2h-1.2zM238.6 415.4h1.2v1.2h-1.2zM240.6 420.3h1.2v1.2h-1.2zM240.2 419.0h1.2v1.2h-1.2zM240.8 423.0h1.2v1.2h-1.2z" fill="#0f6f80"/>
<path d="M240.5 446.8h1.2v1.2h-1.2zM240.3 444.7h1.2v1.2h-1.2zM239.9 445.6h1.2v1.2h-1.2zM240.6 447.7h1.2v1.2h-1.2zM241.0 454.7h1.2v1.2h-1.2zM239.4 454.4h1.2v1.2h-1.2zM239.6 448.5h1.2v1.2h-1.2zM240.5 448.6h1.2v1.2h-1.2zM241.3 449.1h1.2v1.2h-1.2zM239.8 449.1h1.2v1.2h-1.2zM240.9 454.6h1.2v1.2h-1.2zM240.7 450.3h1.2v1.2h-1.2zM241.6 448.5h1.2v1.2h-1.2zM239.1 447.5h1.2v1.2h-1.2zM240.0 453.8h1.2v1.2h-1.2zM239.7 452.3h1.2v1.2h-1.2zM240.6 454.5h1.2v1.2h-1.2zM241.4 445.7h1.2v1.2h-1.2zM240.2 449.9h1.2v1.2h-1.2zM241.6 454.8h1.2v1.2h-1.2zM239.8 450.3h1.2v1.2h-1.2zM241.9 451.0h1.2v1.2h-1.2zM242.0 445.1h1.2v1.2h-1.2zM240.2 450.3h1.2v1.2h-1.2zM240.7 448.7h1.2v1.2h-1.2zM239.1 450.4h1.2v1.2h-1.2zM240.8 453.9h1.2v1.2h-1.2zM240.8 450.8h1.2v1.2h-1.2zM240.6 454.0h1.2v1.2h-1.2zM239.5 448.1h1.2v1.2h-1.2zM240.5 444.3h1.2v1.2h-1.2zM240.3 445.6h1.2v1.2h-1.2zM239.1 451.5h1.2v1.2h-1.2zM241.1 445.5h1.2v1.2h-1.2zM240.7 447.7h1.2v1.2h-1.2zM239.7 448.7h1.2v1.2h-1.2zM240.3 450.0h1.2v1.2h-1.2zM240.3 450.1h1.2v1.2h-1.2zM240.8 447.4h1.2v1.2h-1.2zM239.9 452.9h1.2v1.2h-1.2zM239.1 453.6h1.2v1.2h-1.2zM241.1 453.8h1.2v1.2h-1.2z" fill="#3a8a5a"/>
<path d="M239.8 453.8h1.2v1.2h-1.2zM240.4 445.3h1.2v1.2h-1.2zM240.2 452.9h1.2v1.2h-1.2zM241.1 451.3h1.2v1.2h-1.2zM239.8 449.3h1.2v1.2h-1.2zM239.4 448.7h1.2v1.2h-1.2zM240.4 445.0h1.2v1.2h-1.2zM239.9 444.5h1.2v1.2h-1.2zM241.8 453.7h1.2v1.2h-1.2zM240.3 449.1h1.2v1.2h-1.2zM240.6 450.0h1.2v1.2h-1.2zM242.2 453.0h1.2v1.2h-1.2zM242.1 452.9h1.2v1.2h-1.2zM240.2 448.3h1.2v1.2h-1.2zM241.4 447.4h1.2v1.2h-1.2zM240.9 444.5h1.2v1.2h-1.2zM240.5 451.3h1.2v1.2h-1.2zM240.3 445.1h1.2v1.2h-1.2zM241.1 445.1h1.2v1.2h-1.2zM241.5 449.9h1.2v1.2h-1.2zM242.0 444.6h1.2v1.2h-1.2zM240.9 454.0h1.2v1.2h-1.2zM240.8 447.8h1.2v1.2h-1.2zM239.3 454.6h1.2v1.2h-1.2zM239.9 451.5h1.2v1.2h-1.2zM240.9 447.1h1.2v1.2h-1.2zM240.6 449.9h1.2v1.2h-1.2zM240.0 452.3h1.2v1.2h-1.2zM240.2 448.6h1.2v1.2h-1.2zM239.7 452.8h1.2v1.2h-1.2zM239.7 452.3h1.2v1.2h-1.2zM239.9 454.2h1.2v1.2h-1.2zM242.0 451.4h1.2v1.2h-1.2z" fill="#2a8a6a"/>
<path d="M239.8 455.6h1.2v1.2h-1.2zM241.2 459.8h1.2v1.2h-1.2zM240.6 458.1h1.2v1.2h-1.2zM241.0 455.0h1.2v1.2h-1.2zM239.9 457.5h1.2v1.2h-1.2zM239.8 462.1h1.2v1.2h-1.2zM241.9 460.9h1.2v1.2h-1.2zM242.6 458.5h1.2v1.2h-1.2zM240.8 457.3h1.2v1.2h-1.2zM240.2 459.0h1.2v1.2h-1.2zM239.9 456.5h1.2v1.2h-1.2zM240.4 460.9h1.2v1.2h-1.2zM240.4 455.0h1.2v1.2h-1.2zM241.7 455.5h1.2v1.2h-1.2zM240.1 462.0h1.2v1.2h-1.2zM239.9 456.5h1.2v1.2h-1.2zM239.2 459.8h1.2v1.2h-1.2zM241.1 454.9h1.2v1.2h-1.2zM240.1 459.1h1.2v1.2h-1.2zM240.7 461.9h1.2v1.2h-1.2zM241.6 459.3h1.2v1.2h-1.2zM240.4 460.4h1.2v1.2h-1.2z" fill="#c8a030"/>
<path d="M240.0 424.0h1.2v1.2h-1.2zM238.4 416.0h1.2v1.2h-1.2zM240.6 423.5h1.2v1.2h-1.2zM241.1 423.3h1.2v1.2h-1.2zM239.5 427.4h1.2v1.2h-1.2zM241.0 421.9h1.2v1.2h-1.2zM240.9 424.3h1.2v1.2h-1.2zM241.1 415.5h1.2v1.2h-1.2zM242.0 425.8h1.2v1.2h-1.2zM241.5 425.6h1.2v1.2h-1.2zM240.3 425.7h1.2v1.2h-1.2zM239.9 423.2h1.2v1.2h-1.2zM241.6 427.5h1.2v1.2h-1.2zM241.0 423.4h1.2v1.2h-1.2zM242.1 424.2h1.2v1.2h-1.2zM239.0 426.3h1.2v1.2h-1.2zM240.3 415.2h1.2v1.2h-1.2z" fill="#23889c"/>
<path d="M240.4 428.8h1.2v1.2h-1.2zM242.0 443.5h1.2v1.2h-1.2zM240.6 430.8h1.2v1.2h-1.2zM240.7 431.6h1.2v1.2h-1.2zM241.0 437.4h1.2v1.2h-1.2zM239.9 435.4h1.2v1.2h-1.2zM240.2 433.3h1.2v1.2h-1.2zM240.1 440.6h1.2v1.2h-1.2zM240.4 430.2h1.2v1.2h-1.2zM240.7 434.5h1.2v1.2h-1.2zM240.5 434.7h1.2v1.2h-1.2zM239.1 433.9h1.2v1.2h-1.2zM238.9 432.3h1.2v1.2h-1.2zM239.1 435.8h1.2v1.2h-1.2zM239.8 431.2h1.2v1.2h-1.2zM240.8 431.6h1.2v1.2h-1.2zM240.0 442.9h1.2v1.2h-1.2zM239.1 431.2h1.2v1.2h-1.2zM241.0 429.0h1.2v1.2h-1.2zM240.6 435.0h1.2v1.2h-1.2zM238.5 438.8h1.2v1.2h-1.2zM240.0 443.4h1.2v1.2h-1.2zM240.3 433.3h1.2v1.2h-1.2zM240.5 438.3h1.2v1.2h-1.2zM242.2 438.0h1.2v1.2h-1.2zM238.7 443.4h1.2v1.2h-1.2zM238.3 429.2h1.2v1.2h-1.2zM239.4 435.7h1.2v1.2h-1.2zM240.2 438.7h1.2v1.2h-1.2zM240.4 431.1h1.2v1.2h-1.2zM240.7 436.2h1.2v1.2h-1.2zM240.9 441.9h1.2v1.2h-1.2zM241.0 442.5h1.2v1.2h-1.2zM240.2 443.2h1.2v1.2h-1.2zM240.1 432.4h1.2v1.2h-1.2zM240.2 441.8h1.2v1.2h-1.2zM240.5 435.6h1.2v1.2h-1.2zM240.7 433.7h1.2v1.2h-1.2zM241.0 432.7h1.2v1.2h-1.2zM240.0 438.1h1.2v1.2h-1.2zM240.0 428.8h1.2v1.2h-1.2zM242.0 439.8h1.2v1.2h-1.2zM239.7 429.4h1.2v1.2h-1.2zM240.1 436.5h1.2v1.2h-1.2z" fill="#2a9a8a"/>
<line x1="244.4" y1="372.5" x2="244.4" y2="494.6" stroke="#d690c8" stroke-width="1.3"/>
<line x1="209.9" y1="457.4" x2="328.3" y2="457.4" stroke="#d690c8" stroke-width="1.3"/>
<text x="223.3" y="382.9" font-size="9.4" text-anchor="middle" fill="#000" >G1</text>
<text x="223.3" y="394.1" font-size="9.4" text-anchor="middle" fill="#000" >46%</text>
<text x="280.85" y="383" font-size="9.4" text-anchor="middle" fill="#000" >S-G2-M</text>
<text x="280.85" y="393.8" font-size="9.4" text-anchor="middle" fill="#000" >29%</text>
<text x="223.3" y="470.6" font-size="9.4" text-anchor="middle" fill="#000" >G0</text>
<text x="223.3" y="481.4" font-size="9.4" text-anchor="middle" fill="#000" >23%</text>
<text x="258.5" y="520.3" font-size="10.25" text-anchor="middle" fill="#000" >Hoechst 33342</text>
<text transform="translate(191.5,425.1) rotate(-90)" font-size="9.8" text-anchor="middle">Ki67</text>
<rect x="379.6" y="372.5" width="118.79999999999995" height="122.10000000000002" fill="none" stroke="#777" stroke-width="0.8"/>
<line x1="379.6" y1="372.5" x2="379.6" y2="494.6" stroke="#555" stroke-width="0.9"/>
<line x1="379.6" y1="494.6" x2="498.4" y2="494.6" stroke="#333" stroke-width="1.1"/>
<line x1="377.6" y1="494.6" x2="379.6" y2="494.6" stroke="#666" stroke-width="0.6"/>
<text x="376.0" y="496.20000000000005" font-size="5.4" text-anchor="end" fill="#444">10<tspan font-size="3.8" dy="-2.4">0</tspan></text>
<line x1="378.5" y1="485.411059382357" x2="379.6" y2="485.411059382357" stroke="#888" stroke-width="0.5"/>
<line x1="378.5" y1="480.0358736996823" x2="379.6" y2="480.0358736996823" stroke="#888" stroke-width="0.5"/>
<line x1="378.5" y1="476.22211876471397" x2="379.6" y2="476.22211876471397" stroke="#888" stroke-width="0.5"/>
<line x1="378.5" y1="473.263940617643" x2="379.6" y2="473.263940617643" stroke="#888" stroke-width="0.5"/>
<line x1="378.5" y1="470.8469330820393" x2="379.6" y2="470.8469330820393" stroke="#888" stroke-width="0.5"/>
<line x1="378.5" y1="468.80338232856485" x2="379.6" y2="468.80338232856485" stroke="#888" stroke-width="0.5"/>
<line x1="378.5" y1="467.03317814707094" x2="379.6" y2="467.03317814707094" stroke="#888" stroke-width="0.5"/>
<line x1="378.5" y1="465.47174739936463" x2="379.6" y2="465.47174739936463" stroke="#888" stroke-width="0.5"/>
<line x1="377.6" y1="464.07500000000005" x2="379.6" y2="464.07500000000005" stroke="#666" stroke-width="0.6"/>
<text x="376.0" y="465.67500000000007" font-size="5.4" text-anchor="end" fill="#444">10<tspan font-size="3.8" dy="-2.4">1</tspan></text>
<line x1="378.5" y1="454.886059382357" x2="379.6" y2="454.886059382357" stroke="#888" stroke-width="0.5"/>
<line x1="378.5" y1="449.51087369968235" x2="379.6" y2="449.51087369968235" stroke="#888" stroke-width="0.5"/>
<line x1="378.5" y1="445.697118764714" x2="379.6" y2="445.697118764714" stroke="#888" stroke-width="0.5"/>
<line x1="378.5" y1="442.73894061764304" x2="379.6" y2="442.73894061764304" stroke="#888" stroke-width="0.5"/>
<line x1="378.5" y1="440.3219330820393" x2="379.6" y2="440.3219330820393" stroke="#888" stroke-width="0.5"/>
<line x1="378.5" y1="438.2783823285649" x2="379.6" y2="438.2783823285649" stroke="#888" stroke-width="0.5"/>
<line x1="378.5" y1="436.50817814707096" x2="379.6" y2="436.50817814707096" stroke="#888" stroke-width="0.5"/>
<line x1="378.5" y1="434.94674739936465" x2="379.6" y2="434.94674739936465" stroke="#888" stroke-width="0.5"/>
<line x1="377.6" y1="433.55" x2="379.6" y2="433.55" stroke="#666" stroke-width="0.6"/>
<text x="376.0" y="435.15000000000003" font-size="5.4" text-anchor="end" fill="#444">10<tspan font-size="3.8" dy="-2.4">2</tspan></text>
<line x1="378.5" y1="424.361059382357" x2="379.6" y2="424.361059382357" stroke="#888" stroke-width="0.5"/>
<line x1="378.5" y1="418.9858736996823" x2="379.6" y2="418.9858736996823" stroke="#888" stroke-width="0.5"/>
<line x1="378.5" y1="415.17211876471396" x2="379.6" y2="415.17211876471396" stroke="#888" stroke-width="0.5"/>
<line x1="378.5" y1="412.21394061764306" x2="379.6" y2="412.21394061764306" stroke="#888" stroke-width="0.5"/>
<line x1="378.5" y1="409.7969330820393" x2="379.6" y2="409.7969330820393" stroke="#888" stroke-width="0.5"/>
<line x1="378.5" y1="407.75338232856484" x2="379.6" y2="407.75338232856484" stroke="#888" stroke-width="0.5"/>
<line x1="378.5" y1="405.98317814707093" x2="379.6" y2="405.98317814707093" stroke="#888" stroke-width="0.5"/>
<line x1="378.5" y1="404.4217473993646" x2="379.6" y2="404.4217473993646" stroke="#888" stroke-width="0.5"/>
<line x1="377.6" y1="403.025" x2="379.6" y2="403.025" stroke="#666" stroke-width="0.6"/>
<text x="376.0" y="404.625" font-size="5.4" text-anchor="end" fill="#444">10<tspan font-size="3.8" dy="-2.4">3</tspan></text>
<line x1="378.5" y1="393.83605938235695" x2="379.6" y2="393.83605938235695" stroke="#888" stroke-width="0.5"/>
<line x1="378.5" y1="388.4608736996823" x2="379.6" y2="388.4608736996823" stroke="#888" stroke-width="0.5"/>
<line x1="378.5" y1="384.6471187647139" x2="379.6" y2="384.6471187647139" stroke="#888" stroke-width="0.5"/>
<line x1="378.5" y1="381.68894061764297" x2="379.6" y2="381.68894061764297" stroke="#888" stroke-width="0.5"/>
<line x1="378.5" y1="379.27193308203925" x2="379.6" y2="379.27193308203925" stroke="#888" stroke-width="0.5"/>
<line x1="378.5" y1="377.2283823285648" x2="379.6" y2="377.2283823285648" stroke="#888" stroke-width="0.5"/>
<line x1="378.5" y1="375.4581781470709" x2="379.6" y2="375.4581781470709" stroke="#888" stroke-width="0.5"/>
<line x1="378.5" y1="373.8967473993646" x2="379.6" y2="373.8967473993646" stroke="#888" stroke-width="0.5"/>
<line x1="377.6" y1="372.5" x2="379.6" y2="372.5" stroke="#666" stroke-width="0.6"/>
<text x="376.0" y="374.1" font-size="5.4" text-anchor="end" fill="#444">10<tspan font-size="3.8" dy="-2.4">4</tspan></text>
<line x1="380.0" y1="494.6" x2="380.0" y2="496.6" stroke="#666" stroke-width="0.6"/>
<text x="380.0" y="506.20000000000005" font-size="5.6" text-anchor="middle" fill="#222">0</text>
<line x1="416.3" y1="494.6" x2="416.3" y2="496.6" stroke="#666" stroke-width="0.6"/>
<text x="416.3" y="506.20000000000005" font-size="5.6" text-anchor="middle" fill="#222">10000</text>
<line x1="452.6" y1="494.6" x2="452.6" y2="496.6" stroke="#666" stroke-width="0.6"/>
<text x="452.6" y="506.20000000000005" font-size="5.6" text-anchor="middle" fill="#222">20000</text>
<line x1="488.9" y1="494.6" x2="488.9" y2="496.6" stroke="#666" stroke-width="0.6"/>
<text x="488.9" y="506.20000000000005" font-size="5.6" text-anchor="middle" fill="#222">30000</text>
<path d="M416.1 425.0h1v1h-1zM421.4 427.4h1v1h-1zM431.7 418.1h1v1h-1zM437.9 431.3h1v1h-1zM430.4 424.7h1v1h-1zM441.1 449.4h1v1h-1zM439.4 424.3h1v1h-1zM426.4 454.4h1v1h-1zM439.8 436.1h1v1h-1zM428.1 429.3h1v1h-1zM432.8 453.7h1v1h-1zM441.3 438.2h1v1h-1zM438.9 433.3h1v1h-1zM420.0 450.4h1v1h-1zM441.2 409.5h1v1h-1zM425.5 422.1h1v1h-1zM415.5 446.9h1v1h-1zM438.3 456.4h1v1h-1zM438.3 435.2h1v1h-1zM441.0 434.9h1v1h-1zM422.8 455.6h1v1h-1zM424.6 434.0h1v1h-1zM431.2 454.4h1v1h-1zM426.0 444.5h1v1h-1zM414.6 436.9h1v1h-1zM414.8 443.5h1v1h-1zM432.8 425.6h1v1h-1zM434.4 412.1h1v1h-1zM421.1 435.3h1v1h-1zM423.0 431.0h1v1h-1zM424.6 447.2h1v1h-1zM439.1 420.3h1v1h-1zM440.8 439.8h1v1h-1zM439.9 420.4h1v1h-1zM418.9 432.2h1v1h-1zM438.4 427.5h1v1h-1zM437.1 415.9h1v1h-1zM440.1 446.2h1v1h-1zM440.8 417.6h1v1h-1zM425.6 431.9h1v1h-1zM438.8 454.2h1v1h-1zM441.1 425.4h1v1h-1zM437.1 438.9h1v1h-1zM422.2 430.6h1v1h-1zM415.5 453.8h1v1h-1zM439.4 451.4h1v1h-1zM419.0 430.9h1v1h-1zM428.6 430.3h1v1h-1zM440.6 449.3h1v1h-1zM435.6 424.1h1v1h-1zM439.4 446.2h1v1h-1zM414.5 444.0h1v1h-1zM440.9 430.4h1v1h-1zM427.2 446.8h1v1h-1zM441.2 456.0h1v1h-1zM416.6 438.9h1v1h-1zM430.3 427.2h1v1h-1zM441.1 431.8h1v1h-1zM440.8 422.5h1v1h-1zM435.6 425.4h1v1h-1zM427.8 443.3h1v1h-1zM433.2 430.3h1v1h-1zM425.9 451.8h1v1h-1zM424.5 452.8h1v1h-1zM440.9 446.4h1v1h-1zM438.4 445.6h1v1h-1zM441.4 411.6h1v1h-1zM415.5 427.0h1v1h-1zM438.5 412.6h1v1h-1zM432.6 448.9h1v1h-1zM441.0 443.7h1v1h-1zM433.8 415.2h1v1h-1zM429.6 448.9h1v1h-1zM441.0 435.2h1v1h-1zM423.8 432.7h1v1h-1zM440.4 429.2h1v1h-1zM440.5 438.5h1v1h-1zM427.5 440.7h1v1h-1zM439.2 430.5h1v1h-1zM433.9 418.1h1v1h-1zM422.9 426.4h1v1h-1zM440.2 419.0h1v1h-1zM421.6 426.7h1v1h-1zM439.9 413.7h1v1h-1zM441.3 457.0h1v1h-1zM430.6 431.7h1v1h-1zM433.9 449.8h1v1h-1zM434.3 455.3h1v1h-1zM432.7 455.3h1v1h-1zM420.9 426.2h1v1h-1zM421.2 451.7h1v1h-1zM425.8 445.0h1v1h-1zM422.2 431.1h1v1h-1zM432.7 413.0h1v1h-1zM438.1 424.7h1v1h-1zM417.5 430.9h1v1h-1zM416.9 455.2h1v1h-1zM435.3 444.3h1v1h-1zM436.2 419.9h1v1h-1zM440.4 438.5h1v1h-1zM433.8 440.6h1v1h-1zM419.2 443.2h1v1h-1zM417.6 454.8h1v1h-1zM440.2 434.4h1v1h-1zM419.1 424.0h1v1h-1zM434.8 433.5h1v1h-1zM438.0 410.1h1v1h-1zM421.0 447.7h1v1h-1zM435.3 424.3h1v1h-1zM417.3 430.9h1v1h-1zM434.1 417.9h1v1h-1zM439.2 446.8h1v1h-1zM419.6 438.6h1v1h-1zM419.8 428.8h1v1h-1zM440.1 423.3h1v1h-1zM430.2 439.4h1v1h-1zM427.5 438.8h1v1h-1zM414.4 449.0h1v1h-1zM419.6 438.7h1v1h-1zM440.2 429.3h1v1h-1zM438.6 413.1h1v1h-1zM431.3 415.1h1v1h-1zM439.6 420.7h1v1h-1zM433.2 416.5h1v1h-1zM434.4 424.3h1v1h-1zM439.6 449.4h1v1h-1zM440.9 414.3h1v1h-1zM441.3 428.6h1v1h-1zM422.6 435.0h1v1h-1zM425.2 423.3h1v1h-1zM428.7 438.2h1v1h-1zM440.4 444.7h1v1h-1zM441.3 423.8h1v1h-1zM440.6 407.9h1v1h-1zM439.9 426.7h1v1h-1zM433.4 413.6h1v1h-1zM420.3 423.9h1v1h-1zM418.8 442.5h1v1h-1zM421.8 448.3h1v1h-1zM439.7 419.6h1v1h-1zM416.8 445.3h1v1h-1zM430.4 414.5h1v1h-1zM441.0 437.3h1v1h-1zM419.8 456.4h1v1h-1zM415.2 433.1h1v1h-1zM440.0 410.2h1v1h-1zM440.4 438.9h1v1h-1zM419.0 446.9h1v1h-1zM424.2 432.4h1v1h-1zM440.6 444.5h1v1h-1zM430.8 442.9h1v1h-1zM427.5 420.9h1v1h-1zM432.7 415.5h1v1h-1zM440.2 450.3h1v1h-1zM423.4 431.1h1v1h-1zM439.6 424.4h1v1h-1zM439.5 416.9h1v1h-1zM440.4 412.6h1v1h-1zM440.4 432.5h1v1h-1zM435.5 436.3h1v1h-1zM441.3 409.1h1v1h-1zM417.4 424.2h1v1h-1zM440.4 447.4h1v1h-1zM431.8 445.2h1v1h-1zM417.3 451.0h1v1h-1zM436.5 417.2h1v1h-1zM441.3 420.9h1v1h-1zM416.2 440.8h1v1h-1zM420.1 432.0h1v1h-1zM423.4 433.3h1v1h-1zM438.1 456.7h1v1h-1zM439.6 431.3h1v1h-1zM427.5 446.6h1v1h-1zM441.4 452.7h1v1h-1zM439.4 419.4h1v1h-1zM431.7 414.5h1v1h-1zM434.5 443.9h1v1h-1zM440.0 410.8h1v1h-1zM433.4 456.2h1v1h-1zM438.1 423.8h1v1h-1zM428.6 435.8h1v1h-1zM437.5 420.1h1v1h-1zM441.4 406.8h1v1h-1zM438.6 431.5h1v1h-1zM441.3 456.2h1v1h-1zM440.9 407.8h1v1h-1zM423.5 420.5h1v1h-1zM416.9 432.4h1v1h-1zM439.9 425.7h1v1h-1zM432.7 452.9h1v1h-1zM435.8 431.5h1v1h-1zM429.3 424.4h1v1h-1zM427.0 441.8h1v1h-1zM436.4 435.9h1v1h-1zM441.3 438.9h1v1h-1zM429.2 429.7h1v1h-1zM440.4 412.7h1v1h-1zM428.5 430.2h1v1h-1zM415.1 441.9h1v1h-1zM427.6 425.4h1v1h-1zM424.4 436.2h1v1h-1zM440.4 436.9h1v1h-1zM422.9 427.7h1v1h-1zM440.0 420.2h1v1h-1zM441.0 456.3h1v1h-1zM441.4 409.0h1v1h-1zM436.5 410.2h1v1h-1zM440.4 455.2h1v1h-1zM415.6 430.9h1v1h-1zM418.2 453.7h1v1h-1zM431.9 417.7h1v1h-1zM441.4 413.5h1v1h-1zM428.8 428.8h1v1h-1zM440.5 423.5h1v1h-1zM440.5 452.4h1v1h-1zM440.4 414.2h1v1h-1zM439.1 428.9h1v1h-1zM422.8 420.3h1v1h-1zM426.9 436.2h1v1h-1zM428.8 449.3h1v1h-1zM444.3 465.4h1v1h-1zM419.6 467.0h1v1h-1zM422.4 456.3h1v1h-1zM415.4 467.2h1v1h-1zM417.5 453.7h1v1h-1zM442.2 464.6h1v1h-1zM430.9 464.2h1v1h-1zM416.7 461.1h1v1h-1z" fill="#a8a4dc"/>
<path d="M440.0 434.8h1v1h-1zM427.1 449.7h1v1h-1zM432.6 414.6h1v1h-1zM433.9 451.0h1v1h-1zM417.0 427.2h1v1h-1zM430.2 437.1h1v1h-1zM441.1 449.1h1v1h-1zM422.1 421.8h1v1h-1zM441.1 408.0h1v1h-1zM441.5 419.0h1v1h-1zM440.0 408.7h1v1h-1zM431.8 437.1h1v1h-1zM440.1 430.4h1v1h-1zM415.9 443.5h1v1h-1zM437.3 439.5h1v1h-1zM424.3 439.6h1v1h-1zM440.4 445.9h1v1h-1zM437.0 427.5h1v1h-1zM440.1 414.4h1v1h-1zM436.2 423.5h1v1h-1zM439.3 413.4h1v1h-1zM439.5 416.1h1v1h-1zM439.6 419.0h1v1h-1zM430.0 415.0h1v1h-1zM431.0 426.0h1v1h-1zM438.6 414.5h1v1h-1zM415.7 431.9h1v1h-1zM440.7 411.2h1v1h-1zM422.9 430.6h1v1h-1zM424.6 420.5h1v1h-1zM431.2 429.8h1v1h-1zM439.1 410.3h1v1h-1zM421.4 435.5h1v1h-1zM434.3 434.7h1v1h-1zM441.4 450.3h1v1h-1zM430.1 447.4h1v1h-1zM439.7 409.5h1v1h-1zM425.0 430.1h1v1h-1zM425.5 445.8h1v1h-1zM418.4 425.2h1v1h-1zM439.0 415.4h1v1h-1zM425.5 450.7h1v1h-1zM423.1 447.5h1v1h-1zM436.6 433.5h1v1h-1zM420.5 427.9h1v1h-1zM440.5 449.1h1v1h-1zM439.2 411.0h1v1h-1zM426.2 434.3h1v1h-1zM417.4 453.0h1v1h-1zM439.5 438.9h1v1h-1zM417.4 438.3h1v1h-1zM419.2 452.9h1v1h-1zM431.9 430.7h1v1h-1zM424.1 426.9h1v1h-1zM423.4 432.3h1v1h-1zM439.3 411.7h1v1h-1zM430.4 418.8h1v1h-1zM415.1 450.1h1v1h-1zM433.0 423.2h1v1h-1zM427.7 435.3h1v1h-1zM426.4 437.6h1v1h-1zM420.6 423.2h1v1h-1zM430.7 453.7h1v1h-1zM434.9 430.7h1v1h-1zM428.9 430.5h1v1h-1zM433.9 425.7h1v1h-1zM441.5 426.6h1v1h-1zM440.6 408.9h1v1h-1zM425.1 418.8h1v1h-1zM417.7 424.6h1v1h-1zM441.2 435.8h1v1h-1zM438.6 411.3h1v1h-1zM436.2 452.9h1v1h-1zM441.4 448.5h1v1h-1zM437.0 433.2h1v1h-1zM421.6 425.2h1v1h-1zM414.9 438.4h1v1h-1zM426.5 452.6h1v1h-1zM417.2 441.0h1v1h-1zM430.2 414.8h1v1h-1zM428.9 421.2h1v1h-1zM419.7 453.0h1v1h-1zM423.7 440.1h1v1h-1zM426.9 444.7h1v1h-1zM425.8 441.4h1v1h-1zM441.3 453.3h1v1h-1zM440.1 451.7h1v1h-1zM440.6 453.6h1v1h-1zM421.8 434.1h1v1h-1zM441.0 412.2h1v1h-1zM441.2 419.3h1v1h-1zM438.4 446.4h1v1h-1zM418.8 423.8h1v1h-1zM439.7 408.1h1v1h-1zM441.0 417.0h1v1h-1zM421.0 424.5h1v1h-1zM439.2 451.5h1v1h-1zM428.4 420.9h1v1h-1zM426.7 448.2h1v1h-1zM436.8 453.6h1v1h-1zM439.1 411.4h1v1h-1zM440.6 423.1h1v1h-1zM422.0 423.8h1v1h-1zM434.5 448.7h1v1h-1zM441.3 417.1h1v1h-1zM439.7 457.1h1v1h-1zM438.1 410.2h1v1h-1zM421.9 423.8h1v1h-1zM441.4 456.3h1v1h-1zM434.7 445.7h1v1h-1zM420.3 461.8h1v1h-1zM441.3 455.9h1v1h-1zM427.1 465.7h1v1h-1zM446.2 463.1h1v1h-1zM428.2 455.5h1v1h-1z" fill="#6260b0"/>
<path d="M412.0 449.4h1.2v1.2h-1.2zM413.0 452.0h1.2v1.2h-1.2zM410.8 447.9h1.2v1.2h-1.2zM409.7 450.5h1.2v1.2h-1.2zM409.2 449.0h1.2v1.2h-1.2zM411.3 446.9h1.2v1.2h-1.2zM410.4 451.4h1.2v1.2h-1.2zM410.5 449.6h1.2v1.2h-1.2zM411.0 450.1h1.2v1.2h-1.2zM410.9 452.9h1.2v1.2h-1.2zM409.5 451.8h1.2v1.2h-1.2zM411.4 448.6h1.2v1.2h-1.2zM411.2 453.4h1.2v1.2h-1.2zM409.7 449.4h1.2v1.2h-1.2zM410.7 450.4h1.2v1.2h-1.2zM410.2 454.9h1.2v1.2h-1.2zM410.9 447.6h1.2v1.2h-1.2zM410.4 452.0h1.2v1.2h-1.2zM409.7 446.9h1.2v1.2h-1.2zM409.2 451.2h1.2v1.2h-1.2zM410.2 448.5h1.2v1.2h-1.2zM409.8 448.1h1.2v1.2h-1.2zM410.4 449.8h1.2v1.2h-1.2zM410.2 450.2h1.2v1.2h-1.2zM408.9 455.1h1.2v1.2h-1.2zM409.7 446.8h1.2v1.2h-1.2zM410.6 453.6h1.2v1.2h-1.2zM411.1 446.8h1.2v1.2h-1.2zM411.1 449.2h1.2v1.2h-1.2zM410.5 451.6h1.2v1.2h-1.2zM411.0 453.2h1.2v1.2h-1.2zM411.0 454.9h1.2v1.2h-1.2zM410.3 451.4h1.2v1.2h-1.2zM409.4 453.2h1.2v1.2h-1.2zM410.2 451.5h1.2v1.2h-1.2zM410.9 452.0h1.2v1.2h-1.2zM409.4 452.9h1.2v1.2h-1.2zM409.5 447.3h1.2v1.2h-1.2zM411.7 452.5h1.2v1.2h-1.2zM410.5 451.9h1.2v1.2h-1.2zM411.6 454.6h1.2v1.2h-1.2z" fill="#2a8a6a"/>
<path d="M409.2 441.0h1.2v1.2h-1.2zM410.3 439.7h1.2v1.2h-1.2zM410.7 438.7h1.2v1.2h-1.2zM410.5 445.8h1.2v1.2h-1.2zM410.7 439.5h1.2v1.2h-1.2zM408.6 440.2h1.2v1.2h-1.2zM408.7 442.4h1.2v1.2h-1.2zM409.3 434.4h1.2v1.2h-1.2zM410.6 437.1h1.2v1.2h-1.2zM409.2 437.4h1.2v1.2h-1.2zM409.6 439.1h1.2v1.2h-1.2zM409.9 439.0h1.2v1.2h-1.2zM410.6 446.6h1.2v1.2h-1.2zM410.9 437.6h1.2v1.2h-1.2zM410.3 431.6h1.2v1.2h-1.2zM410.5 431.3h1.2v1.2h-1.2zM409.7 432.4h1.2v1.2h-1.2zM411.1 442.4h1.2v1.2h-1.2zM410.6 443.0h1.2v1.2h-1.2zM409.2 439.7h1.2v1.2h-1.2zM411.4 444.4h1.2v1.2h-1.2zM409.7 433.8h1.2v1.2h-1.2zM410.0 434.4h1.2v1.2h-1.2zM409.9 440.9h1.2v1.2h-1.2zM411.5 432.7h1.2v1.2h-1.2zM411.4 440.1h1.2v1.2h-1.2zM411.7 442.9h1.2v1.2h-1.2zM409.8 444.5h1.2v1.2h-1.2zM410.5 431.4h1.2v1.2h-1.2zM411.4 437.1h1.2v1.2h-1.2zM409.7 431.8h1.2v1.2h-1.2zM410.6 436.6h1.2v1.2h-1.2zM410.4 440.9h1.2v1.2h-1.2zM411.9 437.4h1.2v1.2h-1.2zM410.4 430.9h1.2v1.2h-1.2zM410.1 441.4h1.2v1.2h-1.2zM410.1 432.6h1.2v1.2h-1.2zM409.5 444.4h1.2v1.2h-1.2zM410.6 443.7h1.2v1.2h-1.2zM410.0 443.8h1.2v1.2h-1.2zM410.0 436.2h1.2v1.2h-1.2zM409.6 442.7h1.2v1.2h-1.2zM408.9 433.8h1.2v1.2h-1.2zM409.6 432.5h1.2v1.2h-1.2zM408.9 436.1h1.2v1.2h-1.2zM410.8 446.1h1.2v1.2h-1.2zM410.0 437.7h1.2v1.2h-1.2zM409.9 434.0h1.2v1.2h-1.2zM409.9 436.3h1.2v1.2h-1.2zM410.7 433.9h1.2v1.2h-1.2zM410.8 435.1h1.2v1.2h-1.2zM410.7 436.2h1.2v1.2h-1.2zM411.6 435.9h1.2v1.2h-1.2zM411.1 433.8h1.2v1.2h-1.2zM410.0 440.3h1.2v1.2h-1.2zM410.9 441.2h1.2v1.2h-1.2zM410.2 436.0h1.2v1.2h-1.2zM411.1 440.5h1.2v1.2h-1.2zM410.4 444.2h1.2v1.2h-1.2zM411.0 445.6h1.2v1.2h-1.2z" fill="#2a8a8a"/>
<path d="M409.8 455.4h1.2v1.2h-1.2zM410.8 449.5h1.2v1.2h-1.2zM411.1 452.0h1.2v1.2h-1.2zM409.3 454.3h1.2v1.2h-1.2zM409.8 455.3h1.2v1.2h-1.2zM410.7 455.1h1.2v1.2h-1.2zM409.6 450.8h1.2v1.2h-1.2zM410.3 455.7h1.2v1.2h-1.2zM410.2 447.6h1.2v1.2h-1.2zM411.0 449.5h1.2v1.2h-1.2zM411.0 453.1h1.2v1.2h-1.2zM410.2 455.3h1.2v1.2h-1.2zM409.4 450.9h1.2v1.2h-1.2zM409.8 454.0h1.2v1.2h-1.2zM410.8 448.2h1.2v1.2h-1.2zM410.6 452.5h1.2v1.2h-1.2zM409.9 450.9h1.2v1.2h-1.2zM409.6 446.7h1.2v1.2h-1.2zM410.7 455.4h1.2v1.2h-1.2zM412.0 449.5h1.2v1.2h-1.2zM411.1 449.1h1.2v1.2h-1.2zM411.7 449.5h1.2v1.2h-1.2zM411.2 446.8h1.2v1.2h-1.2zM410.0 453.4h1.2v1.2h-1.2zM409.7 454.1h1.2v1.2h-1.2zM411.7 453.1h1.2v1.2h-1.2zM410.9 455.2h1.2v1.2h-1.2zM409.7 450.2h1.2v1.2h-1.2zM410.4 449.1h1.2v1.2h-1.2zM409.9 447.5h1.2v1.2h-1.2zM409.9 448.3h1.2v1.2h-1.2zM410.6 453.5h1.2v1.2h-1.2zM409.1 448.6h1.2v1.2h-1.2zM411.3 448.6h1.2v1.2h-1.2zM410.0 453.4h1.2v1.2h-1.2zM410.0 449.4h1.2v1.2h-1.2zM409.3 450.1h1.2v1.2h-1.2zM409.7 449.9h1.2v1.2h-1.2z" fill="#3a8a5a"/>
<path d="M410.7 469.0h1.2v1.2h-1.2zM410.0 466.3h1.2v1.2h-1.2zM409.3 463.8h1.2v1.2h-1.2zM409.3 464.2h1.2v1.2h-1.2zM410.4 468.8h1.2v1.2h-1.2zM409.7 463.7h1.2v1.2h-1.2zM411.3 464.5h1.2v1.2h-1.2zM408.8 463.8h1.2v1.2h-1.2zM409.8 464.2h1.2v1.2h-1.2zM408.8 468.5h1.2v1.2h-1.2zM409.5 470.0h1.2v1.2h-1.2zM409.9 464.5h1.2v1.2h-1.2zM410.4 465.9h1.2v1.2h-1.2zM410.7 463.6h1.2v1.2h-1.2zM410.5 471.8h1.2v1.2h-1.2zM409.8 467.4h1.2v1.2h-1.2zM411.4 463.6h1.2v1.2h-1.2zM410.2 464.5h1.2v1.2h-1.2zM410.4 472.6h1.2v1.2h-1.2zM411.0 464.6h1.2v1.2h-1.2zM409.4 471.5h1.2v1.2h-1.2zM409.2 463.4h1.2v1.2h-1.2zM409.7 463.8h1.2v1.2h-1.2zM411.2 467.3h1.2v1.2h-1.2zM410.2 463.9h1.2v1.2h-1.2zM409.7 469.7h1.2v1.2h-1.2zM411.3 467.1h1.2v1.2h-1.2zM408.4 467.1h1.2v1.2h-1.2z" fill="#3a7a4a"/>
<path d="M409.7 430.1h1.2v1.2h-1.2zM410.3 422.5h1.2v1.2h-1.2zM409.8 426.6h1.2v1.2h-1.2zM409.8 427.6h1.2v1.2h-1.2zM409.6 425.1h1.2v1.2h-1.2zM410.9 417.5h1.2v1.2h-1.2zM409.2 425.7h1.2v1.2h-1.2zM412.1 423.4h1.2v1.2h-1.2zM411.1 429.0h1.2v1.2h-1.2zM410.3 428.0h1.2v1.2h-1.2zM409.5 420.8h1.2v1.2h-1.2zM410.6 414.9h1.2v1.2h-1.2zM409.2 419.3h1.2v1.2h-1.2zM410.4 429.2h1.2v1.2h-1.2zM410.8 425.1h1.2v1.2h-1.2zM409.8 419.6h1.2v1.2h-1.2zM409.8 423.3h1.2v1.2h-1.2zM409.8 423.9h1.2v1.2h-1.2zM410.5 428.8h1.2v1.2h-1.2zM409.9 428.8h1.2v1.2h-1.2zM410.0 427.0h1.2v1.2h-1.2zM410.4 423.6h1.2v1.2h-1.2zM410.1 424.2h1.2v1.2h-1.2zM410.2 422.8h1.2v1.2h-1.2zM409.5 426.3h1.2v1.2h-1.2zM409.1 430.3h1.2v1.2h-1.2zM410.1 429.5h1.2v1.2h-1.2zM410.7 426.8h1.2v1.2h-1.2zM409.3 423.6h1.2v1.2h-1.2zM410.0 424.5h1.2v1.2h-1.2zM411.5 424.3h1.2v1.2h-1.2zM411.1 422.6h1.2v1.2h-1.2zM408.4 422.2h1.2v1.2h-1.2zM409.8 423.1h1.2v1.2h-1.2zM410.4 426.6h1.2v1.2h-1.2zM410.4 425.9h1.2v1.2h-1.2zM410.6 428.7h1.2v1.2h-1.2zM408.6 428.0h1.2v1.2h-1.2z" fill="#5a6ab8"/>
<path d="M410.7 445.4h1.2v1.2h-1.2zM410.2 445.6h1.2v1.2h-1.2zM410.8 444.1h1.2v1.2h-1.2zM411.5 431.0h1.2v1.2h-1.2zM411.0 432.8h1.2v1.2h-1.2zM409.2 434.7h1.2v1.2h-1.2zM410.6 442.5h1.2v1.2h-1.2zM410.4 435.9h1.2v1.2h-1.2zM411.2 433.5h1.2v1.2h-1.2zM410.3 440.1h1.2v1.2h-1.2zM411.8 446.2h1.2v1.2h-1.2zM411.7 436.6h1.2v1.2h-1.2zM411.9 443.6h1.2v1.2h-1.2zM411.4 440.0h1.2v1.2h-1.2zM410.2 442.4h1.2v1.2h-1.2zM410.1 438.1h1.2v1.2h-1.2zM410.2 435.6h1.2v1.2h-1.2zM411.0 440.7h1.2v1.2h-1.2zM411.5 436.7h1.2v1.2h-1.2zM409.5 431.4h1.2v1.2h-1.2zM410.2 445.6h1.2v1.2h-1.2zM409.7 440.9h1.2v1.2h-1.2zM409.8 442.2h1.2v1.2h-1.2zM409.4 432.6h1.2v1.2h-1.2zM409.0 433.3h1.2v1.2h-1.2zM410.9 431.7h1.2v1.2h-1.2zM410.4 440.6h1.2v1.2h-1.2zM408.6 434.3h1.2v1.2h-1.2zM410.0 440.2h1.2v1.2h-1.2zM410.3 442.8h1.2v1.2h-1.2zM410.9 434.8h1.2v1.2h-1.2zM409.2 432.1h1.2v1.2h-1.2zM411.8 437.9h1.2v1.2h-1.2zM411.2 445.9h1.2v1.2h-1.2zM410.6 436.9h1.2v1.2h-1.2zM410.7 433.0h1.2v1.2h-1.2zM411.1 436.2h1.2v1.2h-1.2zM411.3 436.9h1.2v1.2h-1.2zM410.2 444.3h1.2v1.2h-1.2zM410.6 432.5h1.2v1.2h-1.2zM410.4 437.6h1.2v1.2h-1.2zM412.1 435.6h1.2v1.2h-1.2zM410.1 431.8h1.2v1.2h-1.2zM410.9 441.4h1.2v1.2h-1.2zM410.9 432.3h1.2v1.2h-1.2zM409.5 435.3h1.2v1.2h-1.2zM411.1 443.9h1.2v1.2h-1.2zM411.0 436.3h1.2v1.2h-1.2zM410.7 446.2h1.2v1.2h-1.2zM409.0 444.5h1.2v1.2h-1.2zM410.9 439.3h1.2v1.2h-1.2zM411.0 443.6h1.2v1.2h-1.2zM408.8 433.0h1.2v1.2h-1.2zM409.3 441.8h1.2v1.2h-1.2zM411.2 435.8h1.2v1.2h-1.2zM408.5 437.5h1.2v1.2h-1.2zM409.3 439.3h1.2v1.2h-1.2zM409.8 433.6h1.2v1.2h-1.2z" fill="#3a9a5a"/>
<path d="M409.2 471.9h1.2v1.2h-1.2zM410.2 472.4h1.2v1.2h-1.2zM410.8 464.2h1.2v1.2h-1.2zM411.5 468.1h1.2v1.2h-1.2zM410.8 465.9h1.2v1.2h-1.2zM409.8 464.8h1.2v1.2h-1.2zM411.3 466.1h1.2v1.2h-1.2zM409.6 465.7h1.2v1.2h-1.2zM409.7 465.7h1.2v1.2h-1.2zM410.0 471.3h1.2v1.2h-1.2zM409.7 464.2h1.2v1.2h-1.2zM410.0 463.7h1.2v1.2h-1.2zM410.4 469.5h1.2v1.2h-1.2zM410.2 467.0h1.2v1.2h-1.2zM410.5 463.5h1.2v1.2h-1.2zM410.1 472.2h1.2v1.2h-1.2zM409.9 465.4h1.2v1.2h-1.2zM409.9 465.9h1.2v1.2h-1.2zM411.2 465.0h1.2v1.2h-1.2z" fill="#2a6a5a"/>
<path d="M408.5 417.9h1.2v1.2h-1.2zM409.6 426.3h1.2v1.2h-1.2zM410.2 426.2h1.2v1.2h-1.2zM411.4 428.2h1.2v1.2h-1.2zM410.6 427.8h1.2v1.2h-1.2zM409.4 421.2h1.2v1.2h-1.2zM408.3 428.8h1.2v1.2h-1.2zM409.5 429.4h1.2v1.2h-1.2zM411.3 424.4h1.2v1.2h-1.2zM411.1 424.5h1.2v1.2h-1.2zM409.2 414.4h1.2v1.2h-1.2zM410.6 426.2h1.2v1.2h-1.2zM410.1 428.5h1.2v1.2h-1.2zM411.3 428.9h1.2v1.2h-1.2zM409.9 420.6h1.2v1.2h-1.2zM411.6 428.0h1.2v1.2h-1.2zM409.9 430.6h1.2v1.2h-1.2zM411.9 427.6h1.2v1.2h-1.2zM410.3 426.3h1.2v1.2h-1.2zM410.2 427.3h1.2v1.2h-1.2zM410.1 424.8h1.2v1.2h-1.2zM410.1 414.8h1.2v1.2h-1.2zM411.1 424.4h1.2v1.2h-1.2zM410.2 418.8h1.2v1.2h-1.2zM409.0 427.6h1.2v1.2h-1.2zM410.9 421.9h1.2v1.2h-1.2zM409.8 428.4h1.2v1.2h-1.2zM411.3 421.8h1.2v1.2h-1.2zM409.8 427.9h1.2v1.2h-1.2zM410.6 422.0h1.2v1.2h-1.2zM411.6 430.0h1.2v1.2h-1.2zM408.2 420.2h1.2v1.2h-1.2zM410.2 427.7h1.2v1.2h-1.2zM409.3 423.9h1.2v1.2h-1.2zM411.6 422.4h1.2v1.2h-1.2zM409.7 419.0h1.2v1.2h-1.2zM410.7 429.3h1.2v1.2h-1.2zM410.7 428.5h1.2v1.2h-1.2zM410.4 423.9h1.2v1.2h-1.2zM411.9 427.6h1.2v1.2h-1.2zM410.4 426.6h1.2v1.2h-1.2z" fill="#6a5ab0"/>
<path d="M411.9 444.4h1.2v1.2h-1.2zM408.6 436.0h1.2v1.2h-1.2zM410.6 433.3h1.2v1.2h-1.2zM408.7 440.1h1.2v1.2h-1.2zM410.7 446.6h1.2v1.2h-1.2zM409.4 439.8h1.2v1.2h-1.2zM409.1 443.5h1.2v1.2h-1.2zM410.0 440.2h1.2v1.2h-1.2zM410.2 434.2h1.2v1.2h-1.2zM410.4 436.3h1.2v1.2h-1.2zM410.5 439.6h1.2v1.2h-1.2zM408.4 437.3h1.2v1.2h-1.2zM409.6 444.8h1.2v1.2h-1.2zM410.1 442.0h1.2v1.2h-1.2zM410.5 442.2h1.2v1.2h-1.2zM409.5 437.4h1.2v1.2h-1.2zM410.7 434.4h1.2v1.2h-1.2zM411.2 445.9h1.2v1.2h-1.2zM408.9 436.5h1.2v1.2h-1.2zM411.5 431.7h1.2v1.2h-1.2zM409.5 435.6h1.2v1.2h-1.2zM411.2 442.2h1.2v1.2h-1.2zM409.8 432.2h1.2v1.2h-1.2zM409.5 439.4h1.2v1.2h-1.2zM409.5 440.6h1.2v1.2h-1.2zM409.2 444.3h1.2v1.2h-1.2zM411.6 442.9h1.2v1.2h-1.2zM410.3 443.0h1.2v1.2h-1.2zM411.1 438.5h1.2v1.2h-1.2zM411.0 431.0h1.2v1.2h-1.2zM411.2 444.4h1.2v1.2h-1.2zM410.7 431.5h1.2v1.2h-1.2zM409.2 435.3h1.2v1.2h-1.2zM410.2 442.1h1.2v1.2h-1.2zM409.4 436.3h1.2v1.2h-1.2zM409.8 443.3h1.2v1.2h-1.2zM409.8 440.1h1.2v1.2h-1.2zM410.5 437.3h1.2v1.2h-1.2zM410.6 436.1h1.2v1.2h-1.2zM411.0 440.8h1.2v1.2h-1.2zM411.5 436.4h1.2v1.2h-1.2zM410.6 434.8h1.2v1.2h-1.2zM410.5 432.3h1.2v1.2h-1.2zM410.5 437.0h1.2v1.2h-1.2zM409.6 445.4h1.2v1.2h-1.2zM410.4 433.1h1.2v1.2h-1.2zM409.7 439.7h1.2v1.2h-1.2zM409.0 444.1h1.2v1.2h-1.2zM411.0 443.8h1.2v1.2h-1.2zM410.3 438.4h1.2v1.2h-1.2zM411.3 445.6h1.2v1.2h-1.2zM410.5 432.1h1.2v1.2h-1.2zM410.2 444.3h1.2v1.2h-1.2zM410.2 441.4h1.2v1.2h-1.2zM409.6 433.1h1.2v1.2h-1.2z" fill="#5aa040"/>
<path d="M411.0 446.4h1.2v1.2h-1.2zM407.8 436.7h1.2v1.2h-1.2zM409.4 440.5h1.2v1.2h-1.2zM410.8 441.1h1.2v1.2h-1.2zM409.3 437.1h1.2v1.2h-1.2zM409.7 446.0h1.2v1.2h-1.2zM409.6 433.0h1.2v1.2h-1.2zM409.7 436.1h1.2v1.2h-1.2zM410.4 432.2h1.2v1.2h-1.2zM410.0 439.0h1.2v1.2h-1.2zM409.8 436.9h1.2v1.2h-1.2zM411.1 435.7h1.2v1.2h-1.2zM409.6 442.3h1.2v1.2h-1.2zM410.7 439.8h1.2v1.2h-1.2zM410.8 443.4h1.2v1.2h-1.2zM410.5 432.9h1.2v1.2h-1.2zM410.1 432.5h1.2v1.2h-1.2zM409.9 438.1h1.2v1.2h-1.2zM410.9 440.2h1.2v1.2h-1.2zM409.4 442.3h1.2v1.2h-1.2zM411.5 444.7h1.2v1.2h-1.2zM410.8 438.0h1.2v1.2h-1.2zM411.0 438.0h1.2v1.2h-1.2zM409.5 437.5h1.2v1.2h-1.2zM410.6 432.7h1.2v1.2h-1.2zM411.6 437.4h1.2v1.2h-1.2zM409.7 439.9h1.2v1.2h-1.2zM411.0 441.8h1.2v1.2h-1.2zM409.6 446.3h1.2v1.2h-1.2zM410.0 436.1h1.2v1.2h-1.2zM409.2 440.9h1.2v1.2h-1.2zM409.1 442.3h1.2v1.2h-1.2zM411.4 440.8h1.2v1.2h-1.2zM409.8 433.8h1.2v1.2h-1.2zM409.5 439.2h1.2v1.2h-1.2zM410.5 436.2h1.2v1.2h-1.2zM409.8 432.5h1.2v1.2h-1.2zM409.3 437.6h1.2v1.2h-1.2zM410.5 431.7h1.2v1.2h-1.2zM411.2 436.3h1.2v1.2h-1.2zM410.2 432.0h1.2v1.2h-1.2zM409.3 446.5h1.2v1.2h-1.2zM410.3 435.7h1.2v1.2h-1.2zM410.5 437.1h1.2v1.2h-1.2zM410.6 441.9h1.2v1.2h-1.2zM411.2 434.3h1.2v1.2h-1.2zM411.3 440.9h1.2v1.2h-1.2zM409.1 437.8h1.2v1.2h-1.2zM408.5 444.4h1.2v1.2h-1.2zM410.1 434.9h1.2v1.2h-1.2zM409.7 441.8h1.2v1.2h-1.2zM410.8 431.4h1.2v1.2h-1.2zM410.3 435.0h1.2v1.2h-1.2zM409.3 439.3h1.2v1.2h-1.2zM410.6 436.2h1.2v1.2h-1.2zM410.2 437.5h1.2v1.2h-1.2zM410.6 439.0h1.2v1.2h-1.2zM410.9 435.9h1.2v1.2h-1.2zM409.1 439.2h1.2v1.2h-1.2zM409.6 434.3h1.2v1.2h-1.2zM411.4 441.3h1.2v1.2h-1.2zM411.6 441.2h1.2v1.2h-1.2zM410.1 439.5h1.2v1.2h-1.2zM411.7 432.0h1.2v1.2h-1.2z" fill="#7ab040"/>
<path d="M409.7 455.9h1.2v1.2h-1.2zM410.7 458.4h1.2v1.2h-1.2zM410.5 463.0h1.2v1.2h-1.2zM410.4 458.0h1.2v1.2h-1.2zM410.9 457.1h1.2v1.2h-1.2zM409.6 457.8h1.2v1.2h-1.2zM410.6 461.7h1.2v1.2h-1.2zM409.2 457.7h1.2v1.2h-1.2zM409.6 457.5h1.2v1.2h-1.2zM410.6 462.5h1.2v1.2h-1.2zM409.4 461.1h1.2v1.2h-1.2zM410.9 459.9h1.2v1.2h-1.2zM409.9 456.6h1.2v1.2h-1.2zM409.6 459.0h1.2v1.2h-1.2zM410.8 458.5h1.2v1.2h-1.2zM409.4 461.4h1.2v1.2h-1.2zM411.4 461.8h1.2v1.2h-1.2zM410.3 457.1h1.2v1.2h-1.2zM407.5 458.9h1.2v1.2h-1.2zM410.7 458.2h1.2v1.2h-1.2zM410.0 459.9h1.2v1.2h-1.2z" fill="#c87a30"/>
<path d="M411.0 448.5h1.2v1.2h-1.2zM410.3 451.7h1.2v1.2h-1.2zM410.4 454.4h1.2v1.2h-1.2zM410.6 448.4h1.2v1.2h-1.2zM410.1 448.5h1.2v1.2h-1.2zM408.8 450.9h1.2v1.2h-1.2zM410.0 451.2h1.2v1.2h-1.2zM410.2 453.8h1.2v1.2h-1.2zM409.8 447.3h1.2v1.2h-1.2zM411.1 453.9h1.2v1.2h-1.2zM410.7 449.5h1.2v1.2h-1.2zM408.8 452.7h1.2v1.2h-1.2zM410.3 452.5h1.2v1.2h-1.2zM409.9 448.9h1.2v1.2h-1.2zM410.0 454.2h1.2v1.2h-1.2zM410.2 454.0h1.2v1.2h-1.2zM411.7 447.5h1.2v1.2h-1.2zM409.6 450.0h1.2v1.2h-1.2zM410.5 455.2h1.2v1.2h-1.2zM409.6 455.4h1.2v1.2h-1.2zM410.1 455.0h1.2v1.2h-1.2zM409.0 454.4h1.2v1.2h-1.2zM409.0 449.4h1.2v1.2h-1.2zM410.2 448.7h1.2v1.2h-1.2zM410.1 452.4h1.2v1.2h-1.2zM409.7 455.4h1.2v1.2h-1.2zM409.9 454.8h1.2v1.2h-1.2zM408.4 449.2h1.2v1.2h-1.2zM410.0 450.9h1.2v1.2h-1.2zM410.2 448.5h1.2v1.2h-1.2zM410.0 454.7h1.2v1.2h-1.2zM411.0 454.1h1.2v1.2h-1.2zM411.1 447.0h1.2v1.2h-1.2zM409.5 452.9h1.2v1.2h-1.2zM411.5 447.4h1.2v1.2h-1.2zM409.8 454.6h1.2v1.2h-1.2zM409.6 449.2h1.2v1.2h-1.2zM410.7 453.1h1.2v1.2h-1.2zM411.2 455.0h1.2v1.2h-1.2zM410.6 453.9h1.2v1.2h-1.2zM411.5 455.4h1.2v1.2h-1.2z" fill="#1f7a8a"/>
<path d="M410.5 430.4h1.2v1.2h-1.2zM410.3 424.8h1.2v1.2h-1.2zM409.9 424.5h1.2v1.2h-1.2zM410.6 427.1h1.2v1.2h-1.2zM410.7 422.5h1.2v1.2h-1.2zM411.6 418.5h1.2v1.2h-1.2zM409.1 420.3h1.2v1.2h-1.2zM410.4 427.8h1.2v1.2h-1.2zM410.3 427.4h1.2v1.2h-1.2zM410.6 424.8h1.2v1.2h-1.2zM411.4 429.3h1.2v1.2h-1.2zM410.2 421.6h1.2v1.2h-1.2zM409.6 418.9h1.2v1.2h-1.2zM409.8 425.1h1.2v1.2h-1.2zM410.9 419.5h1.2v1.2h-1.2zM410.1 424.8h1.2v1.2h-1.2zM409.6 429.5h1.2v1.2h-1.2zM411.2 423.8h1.2v1.2h-1.2zM410.5 422.7h1.2v1.2h-1.2zM409.8 421.4h1.2v1.2h-1.2zM409.2 428.5h1.2v1.2h-1.2zM410.0 419.2h1.2v1.2h-1.2zM410.1 428.8h1.2v1.2h-1.2zM410.7 419.9h1.2v1.2h-1.2zM410.4 426.8h1.2v1.2h-1.2zM410.6 429.0h1.2v1.2h-1.2zM410.9 420.4h1.2v1.2h-1.2zM410.2 430.2h1.2v1.2h-1.2zM410.8 424.8h1.2v1.2h-1.2zM410.8 430.1h1.2v1.2h-1.2zM410.4 423.0h1.2v1.2h-1.2z" fill="#2a8aa0"/>
<path d="M411.4 467.0h1.2v1.2h-1.2zM409.6 464.4h1.2v1.2h-1.2zM409.8 467.7h1.2v1.2h-1.2zM408.5 465.0h1.2v1.2h-1.2zM411.3 468.9h1.2v1.2h-1.2zM410.7 466.2h1.2v1.2h-1.2zM408.8 469.7h1.2v1.2h-1.2zM410.0 465.9h1.2v1.2h-1.2zM410.9 472.2h1.2v1.2h-1.2zM411.5 466.0h1.2v1.2h-1.2zM411.0 465.7h1.2v1.2h-1.2zM409.7 465.6h1.2v1.2h-1.2zM410.3 471.0h1.2v1.2h-1.2zM410.0 466.8h1.2v1.2h-1.2zM409.6 465.3h1.2v1.2h-1.2zM409.9 472.0h1.2v1.2h-1.2zM410.0 471.3h1.2v1.2h-1.2zM409.7 467.6h1.2v1.2h-1.2zM411.0 466.9h1.2v1.2h-1.2zM411.4 467.4h1.2v1.2h-1.2zM410.6 467.4h1.2v1.2h-1.2zM409.6 464.5h1.2v1.2h-1.2zM409.8 464.0h1.2v1.2h-1.2zM410.0 471.7h1.2v1.2h-1.2zM409.9 470.4h1.2v1.2h-1.2zM410.5 472.3h1.2v1.2h-1.2zM410.3 464.3h1.2v1.2h-1.2zM408.9 467.1h1.2v1.2h-1.2zM409.0 464.9h1.2v1.2h-1.2zM410.4 465.0h1.2v1.2h-1.2zM409.5 466.1h1.2v1.2h-1.2zM410.5 466.4h1.2v1.2h-1.2zM409.3 463.7h1.2v1.2h-1.2zM409.6 467.6h1.2v1.2h-1.2zM411.2 468.8h1.2v1.2h-1.2z" fill="#1f6a7a"/>
<path d="M410.6 462.5h1.2v1.2h-1.2zM409.0 457.8h1.2v1.2h-1.2zM410.7 457.8h1.2v1.2h-1.2zM410.6 459.5h1.2v1.2h-1.2zM410.3 460.8h1.2v1.2h-1.2zM409.8 458.2h1.2v1.2h-1.2zM410.7 458.7h1.2v1.2h-1.2zM409.0 457.0h1.2v1.2h-1.2zM408.9 461.3h1.2v1.2h-1.2zM410.3 460.1h1.2v1.2h-1.2zM410.7 461.7h1.2v1.2h-1.2zM410.6 463.2h1.2v1.2h-1.2zM410.1 462.8h1.2v1.2h-1.2zM409.6 457.1h1.2v1.2h-1.2zM408.4 457.1h1.2v1.2h-1.2zM409.9 462.2h1.2v1.2h-1.2zM409.8 458.6h1.2v1.2h-1.2zM409.7 457.1h1.2v1.2h-1.2zM410.1 458.2h1.2v1.2h-1.2zM409.8 456.1h1.2v1.2h-1.2zM410.8 461.7h1.2v1.2h-1.2zM411.4 456.5h1.2v1.2h-1.2zM410.8 457.9h1.2v1.2h-1.2zM411.7 461.5h1.2v1.2h-1.2zM410.2 457.5h1.2v1.2h-1.2zM411.1 462.4h1.2v1.2h-1.2z" fill="#9ab030"/>
<path d="M410.1 426.5h1.2v1.2h-1.2zM410.8 428.7h1.2v1.2h-1.2zM409.7 427.0h1.2v1.2h-1.2zM410.7 429.8h1.2v1.2h-1.2zM410.0 424.0h1.2v1.2h-1.2zM410.4 426.7h1.2v1.2h-1.2zM409.5 426.2h1.2v1.2h-1.2zM410.0 428.2h1.2v1.2h-1.2zM409.6 422.4h1.2v1.2h-1.2zM410.7 426.9h1.2v1.2h-1.2zM409.8 414.5h1.2v1.2h-1.2zM410.2 417.7h1.2v1.2h-1.2zM408.2 426.0h1.2v1.2h-1.2zM411.7 423.6h1.2v1.2h-1.2zM410.7 428.7h1.2v1.2h-1.2zM411.4 429.4h1.2v1.2h-1.2zM410.5 429.6h1.2v1.2h-1.2zM411.0 426.1h1.2v1.2h-1.2zM411.5 418.4h1.2v1.2h-1.2zM409.6 423.7h1.2v1.2h-1.2zM410.2 423.5h1.2v1.2h-1.2zM410.8 429.1h1.2v1.2h-1.2zM410.2 424.5h1.2v1.2h-1.2zM411.5 425.5h1.2v1.2h-1.2zM409.7 421.4h1.2v1.2h-1.2zM409.8 418.8h1.2v1.2h-1.2zM410.8 424.9h1.2v1.2h-1.2zM410.2 427.7h1.2v1.2h-1.2zM409.9 422.6h1.2v1.2h-1.2zM410.2 427.3h1.2v1.2h-1.2zM409.4 422.3h1.2v1.2h-1.2zM410.7 430.2h1.2v1.2h-1.2zM410.3 424.7h1.2v1.2h-1.2zM409.6 418.6h1.2v1.2h-1.2zM410.2 428.9h1.2v1.2h-1.2zM409.0 426.6h1.2v1.2h-1.2zM411.2 422.9h1.2v1.2h-1.2zM410.3 423.9h1.2v1.2h-1.2z" fill="#3a70b0"/>
<path d="M409.3 464.0h1.2v1.2h-1.2zM410.0 464.3h1.2v1.2h-1.2zM408.7 471.5h1.2v1.2h-1.2zM411.0 472.0h1.2v1.2h-1.2zM409.5 466.1h1.2v1.2h-1.2zM409.6 464.3h1.2v1.2h-1.2zM408.9 464.8h1.2v1.2h-1.2zM409.6 467.8h1.2v1.2h-1.2zM410.2 464.6h1.2v1.2h-1.2zM409.7 464.0h1.2v1.2h-1.2zM410.4 470.4h1.2v1.2h-1.2zM409.8 465.5h1.2v1.2h-1.2zM409.3 466.6h1.2v1.2h-1.2zM410.8 470.0h1.2v1.2h-1.2zM410.9 464.4h1.2v1.2h-1.2zM410.3 466.7h1.2v1.2h-1.2zM410.4 465.9h1.2v1.2h-1.2zM410.9 469.4h1.2v1.2h-1.2zM410.3 466.0h1.2v1.2h-1.2z" fill="#2a6a8a"/>
<path d="M410.3 463.1h1.2v1.2h-1.2zM410.1 460.5h1.2v1.2h-1.2zM410.4 458.2h1.2v1.2h-1.2zM410.2 461.9h1.2v1.2h-1.2zM410.3 457.6h1.2v1.2h-1.2zM411.2 459.0h1.2v1.2h-1.2zM411.0 459.8h1.2v1.2h-1.2zM410.5 456.1h1.2v1.2h-1.2zM411.3 462.3h1.2v1.2h-1.2zM410.0 461.8h1.2v1.2h-1.2zM409.7 458.7h1.2v1.2h-1.2zM410.7 456.5h1.2v1.2h-1.2zM410.6 458.6h1.2v1.2h-1.2zM410.1 461.8h1.2v1.2h-1.2zM409.7 458.6h1.2v1.2h-1.2zM412.5 461.7h1.2v1.2h-1.2zM409.7 461.5h1.2v1.2h-1.2zM409.3 460.5h1.2v1.2h-1.2zM410.6 456.1h1.2v1.2h-1.2zM409.7 461.9h1.2v1.2h-1.2zM409.9 461.1h1.2v1.2h-1.2zM410.6 461.5h1.2v1.2h-1.2z" fill="#e0a020"/>
<path d="M410.1 463.0h1.2v1.2h-1.2zM410.2 457.5h1.2v1.2h-1.2zM408.9 457.8h1.2v1.2h-1.2zM410.6 459.7h1.2v1.2h-1.2zM410.0 456.1h1.2v1.2h-1.2zM410.3 459.1h1.2v1.2h-1.2zM408.9 455.9h1.2v1.2h-1.2zM410.7 460.0h1.2v1.2h-1.2zM408.7 463.2h1.2v1.2h-1.2zM408.7 462.9h1.2v1.2h-1.2zM409.8 456.1h1.2v1.2h-1.2zM409.5 460.7h1.2v1.2h-1.2zM411.0 460.5h1.2v1.2h-1.2zM410.9 456.5h1.2v1.2h-1.2zM409.7 458.0h1.2v1.2h-1.2zM410.9 461.9h1.2v1.2h-1.2zM410.4 457.3h1.2v1.2h-1.2zM411.3 463.1h1.2v1.2h-1.2zM410.1 461.9h1.2v1.2h-1.2zM410.2 457.1h1.2v1.2h-1.2zM410.1 462.3h1.2v1.2h-1.2zM410.3 456.5h1.2v1.2h-1.2zM409.0 460.6h1.2v1.2h-1.2zM410.5 459.6h1.2v1.2h-1.2zM410.3 460.2h1.2v1.2h-1.2z" fill="#d89020"/>
<line x1="413.7" y1="372.5" x2="413.7" y2="494.6" stroke="#d690c8" stroke-width="1.3"/>
<line x1="379.6" y1="457.5" x2="498.4" y2="457.5" stroke="#d690c8" stroke-width="1.3"/>
<text x="393.0" y="382.9" font-size="9.4" text-anchor="middle" fill="#000" >G1</text>
<text x="393.0" y="394.1" font-size="9.4" text-anchor="middle" fill="#000" >40%</text>
<text x="450.54999999999995" y="383" font-size="9.4" text-anchor="middle" fill="#000" >S-G2-M</text>
<text x="450.54999999999995" y="393.8" font-size="9.4" text-anchor="middle" fill="#000" >26%</text>
<text x="393.0" y="470.6" font-size="9.4" text-anchor="middle" fill="#000" >G0</text>
<text x="393.0" y="481.4" font-size="9.4" text-anchor="middle" fill="#000" >32%</text>
<text x="424.7" y="520.3" font-size="10.25" text-anchor="middle" fill="#000" >Hoechst 33342</text>
<text transform="translate(360.2,425.1) rotate(-90)" font-size="9.8" text-anchor="middle">Ki67</text>
<text x="35.5" y="366.5" font-size="11.1">Placebo-treated <tspan font-style="italic" dx="0.8">Fancd2</tspan><tspan font-style="italic" font-size="6.6" dy="-3.3">+/+</tspan></text>
<text x="207.0" y="366.4" font-size="11.1">Placebo-treated <tspan font-style="italic" dx="0.8">Fancd2</tspan><tspan font-style="italic" font-size="6.6" dy="-3.3">-/-</tspan></text>
<text x="387.0" y="366.4" font-size="11.1">RV-treated <tspan font-style="italic" dx="0.8">Fancd2</tspan><tspan font-style="italic" font-size="6.6" dy="-3.3">-/-</tspan></text>
<text x="0.9" y="551.7" font-size="15" text-anchor="start" font-weight="bold" fill="#000" >E</text>
<line x1="48.9" y1="564.4" x2="48.9" y2="681" stroke="#222" stroke-width="1.6"/>
<line x1="44.3" y1="680.2" x2="222" y2="680.2" stroke="#222" stroke-width="1.6"/>
<line x1="44.3" y1="680.0" x2="48.7" y2="680.0" stroke="#222" stroke-width="1.3"/>
<text transform="translate(43.4,684.5) scale(0.88,1)" font-size="12" text-anchor="end">0</text>
<line x1="44.3" y1="660.86" x2="48.7" y2="660.86" stroke="#222" stroke-width="1.3"/>
<text transform="translate(43.4,665.36) scale(0.88,1)" font-size="12" text-anchor="end">2</text>
<line x1="44.3" y1="641.72" x2="48.7" y2="641.72" stroke="#222" stroke-width="1.3"/>
<text transform="translate(43.4,646.22) scale(0.88,1)" font-size="12" text-anchor="end">4</text>
<line x1="44.3" y1="622.58" x2="48.7" y2="622.58" stroke="#222" stroke-width="1.3"/>
<text transform="translate(43.4,627.08) scale(0.88,1)" font-size="12" text-anchor="end">6</text>
<line x1="44.3" y1="603.44" x2="48.7" y2="603.44" stroke="#222" stroke-width="1.3"/>
<text transform="translate(43.4,607.94) scale(0.88,1)" font-size="12" text-anchor="end">8</text>
<line x1="44.3" y1="584.3" x2="48.7" y2="584.3" stroke="#222" stroke-width="1.3"/>
<text transform="translate(43.4,588.8) scale(0.88,1)" font-size="12" text-anchor="end">10</text>
<line x1="44.3" y1="565.16" x2="48.7" y2="565.16" stroke="#222" stroke-width="1.3"/>
<text transform="translate(43.4,569.66) scale(0.88,1)" font-size="12" text-anchor="end">12</text>
<text transform="translate(25.8,617.9) rotate(-90)" font-size="11.1" text-anchor="middle">CFU-S number</text>
<circle cx="69.6" cy="642.72" r="3.1" fill="#000"/>
<circle cx="78.8" cy="642.72" r="3.1" fill="#000"/>
<circle cx="83.7" cy="642.72" r="3.1" fill="#000"/>
<circle cx="88" cy="642.72" r="3.1" fill="#000"/>
<circle cx="69.6" cy="661.86" r="3.1" fill="#000"/>
<circle cx="78.8" cy="661.86" r="3.1" fill="#000"/>
<circle cx="88" cy="661.86" r="3.1" fill="#000"/>
<circle cx="78.8" cy="671.43" r="3.1" fill="#000"/>
<circle cx="88" cy="671.43" r="3.1" fill="#000"/>
<circle cx="136.6" cy="575.73" r="3.1" fill="#000"/>
<circle cx="136.6" cy="604.44" r="3.1" fill="#000"/>
<circle cx="136.6" cy="623.58" r="3.1" fill="#000"/>
<circle cx="145.8" cy="623.58" r="3.1" fill="#000"/>
<circle cx="136.6" cy="633.15" r="3.1" fill="#000"/>
<circle cx="136.6" cy="642.72" r="3.1" fill="#000"/>
<circle cx="136.6" cy="652.29" r="3.1" fill="#000"/>
<circle cx="136.6" cy="671.43" r="3.1" fill="#000"/>
<circle cx="184.8" cy="585.30" r="3.1" fill="#000"/>
<circle cx="194" cy="585.30" r="3.1" fill="#000"/>
<circle cx="203.2" cy="585.30" r="3.1" fill="#000"/>
<circle cx="194" cy="604.44" r="3.1" fill="#000"/>
<circle cx="194" cy="614.01" r="3.1" fill="#000"/>
<circle cx="194" cy="623.58" r="3.1" fill="#000"/>
<circle cx="194" cy="633.15" r="3.1" fill="#000"/>
<circle cx="203.2" cy="633.15" r="3.1" fill="#000"/>
<line x1="58.7" y1="654.5" x2="97.7" y2="654.5" stroke="#000" stroke-width="1.4"/>
<line x1="116.5" y1="627.2" x2="155.5" y2="627.2" stroke="#000" stroke-width="1.4"/>
<line x1="173.7" y1="607.2" x2="212.9" y2="607.2" stroke="#000" stroke-width="1.4"/>
<polyline points="89.6,558.7 89.6,556.5 185.2,556.5 185.2,558.7" fill="none" stroke="#666" stroke-width="0.9"/>
<polyline points="146.2,576.8000000000001 146.2,574.6 189.4,574.6 189.4,576.8000000000001" fill="none" stroke="#666" stroke-width="0.9"/>
<polyline points="74,615.8000000000001 74,613.6 117.3,613.6 117.3,615.8000000000001" fill="none" stroke="#666" stroke-width="0.9"/>
<text x="116.6" y="551.7" font-size="10.2"><tspan font-style="italic">P</tspan> &lt; 0.0001</text>
<text x="146.3" y="570" font-size="10.2">NS(<tspan font-style="italic">P</tspan> = 0.13)</text>
<text x="76.3" y="609" font-size="10.2"><tspan font-style="italic">P</tspan> = 0.02</text>
<text x="70.2" y="691.1" font-size="11.1" text-anchor="middle" font-style="italic">Fancd2<tspan font-size="6.2" dy="-3.1">-/-</tspan></text>
<text x="70.4" y="704.3000000000001" font-size="10.9" text-anchor="middle" fill="#000" >Placebo</text>
<text x="125.6" y="691.1" font-size="11.1" text-anchor="middle" font-style="italic">Fancd2<tspan font-size="6.2" dy="-3.1">-/-</tspan></text>
<text x="125.25" y="704.3000000000001" font-size="10.9" text-anchor="middle" fill="#000" >RV</text>
<text x="182" y="691.1" font-size="11.1" text-anchor="middle" font-style="italic">Fancd2<tspan font-size="6.2" dy="-3.1">+/+</tspan></text>
<text x="182.8" y="704.3000000000001" font-size="10.9" text-anchor="middle" fill="#000" >Placebo</text>
</svg>
</body></html>
